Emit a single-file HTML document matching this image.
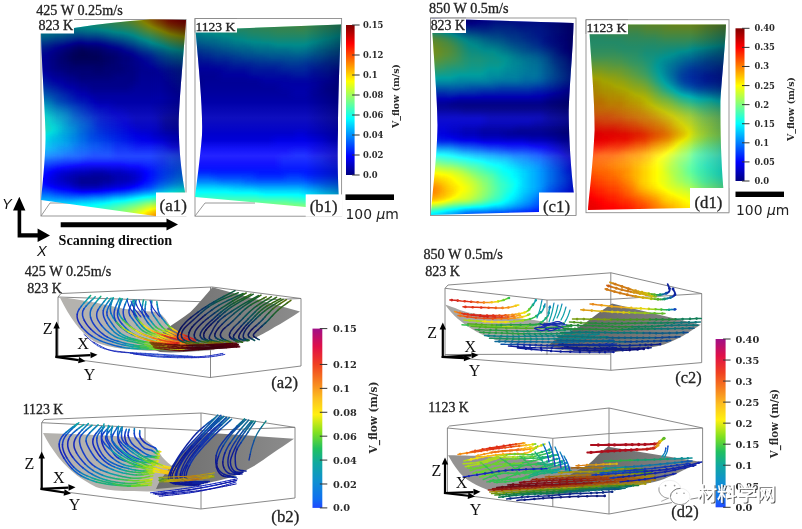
<!DOCTYPE html>
<html lang="en"><head><meta charset="utf-8"><title>Melt pool flow velocity figure</title>
<style>html,body{margin:0;padding:0;background:#fff;overflow:hidden}svg{display:block}text{white-space:pre}</style>
</head><body>
<svg width="802" height="529" viewBox="0 0 802 529">
<rect width="802" height="529" fill="#fff"/>
<defs>
<filter id="jet" x="-5%" y="-5%" width="110%" height="110%" color-interpolation-filters="sRGB"><feGaussianBlur stdDeviation="3.2"/><feComponentTransfer><feFuncR type="table" tableValues="0.000 0.000 0.000 0.000 0.000 0.000 0.000 0.000 0.000 0.000 0.000 0.000 0.000 0.000 0.000 0.000 0.000 0.000 0.000 0.000 0.000 0.000 0.000 0.000 0.000 0.062 0.125 0.188 0.250 0.312 0.375 0.438 0.500 0.562 0.625 0.688 0.750 0.812 0.875 0.938 1.000 1.000 1.000 1.000 1.000 1.000 1.000 1.000 1.000 1.000 1.000 1.000 1.000 1.000 1.000 1.000 1.000 0.938 0.875 0.812 0.750 0.688 0.625 0.562 0.500"/><feFuncG type="table" tableValues="0.000 0.000 0.000 0.000 0.000 0.000 0.000 0.000 0.000 0.062 0.125 0.188 0.250 0.312 0.375 0.438 0.500 0.562 0.625 0.688 0.750 0.812 0.875 0.938 1.000 1.000 1.000 1.000 1.000 1.000 1.000 1.000 1.000 1.000 1.000 1.000 1.000 1.000 1.000 1.000 1.000 0.938 0.875 0.812 0.750 0.688 0.625 0.562 0.500 0.438 0.375 0.312 0.250 0.188 0.125 0.062 0.000 0.000 0.000 0.000 0.000 0.000 0.000 0.000 0.000"/><feFuncB type="table" tableValues="0.500 0.562 0.625 0.688 0.750 0.812 0.875 0.938 1.000 1.000 1.000 1.000 1.000 1.000 1.000 1.000 1.000 1.000 1.000 1.000 1.000 1.000 1.000 1.000 1.000 0.938 0.875 0.812 0.750 0.688 0.625 0.562 0.500 0.438 0.375 0.312 0.250 0.188 0.125 0.062 0.000 0.000 0.000 0.000 0.000 0.000 0.000 0.000 0.000 0.000 0.000 0.000 0.000 0.000 0.000 0.000 0.000 0.000 0.000 0.000 0.000 0.000 0.000 0.000 0.000"/><feFuncA type="linear" slope="0" intercept="1"/></feComponentTransfer></filter>
<linearGradient id="gjet" x1="0" y1="0" x2="0" y2="1"><stop offset="0.000" stop-color="#800000"/><stop offset="0.062" stop-color="#bf0000"/><stop offset="0.125" stop-color="#ff0000"/><stop offset="0.188" stop-color="#ff4000"/><stop offset="0.250" stop-color="#ff8000"/><stop offset="0.312" stop-color="#ffbf00"/><stop offset="0.375" stop-color="#ffff00"/><stop offset="0.438" stop-color="#bfff40"/><stop offset="0.500" stop-color="#80ff80"/><stop offset="0.562" stop-color="#40ffbf"/><stop offset="0.625" stop-color="#00ffff"/><stop offset="0.688" stop-color="#00bfff"/><stop offset="0.750" stop-color="#0080ff"/><stop offset="0.812" stop-color="#0040ff"/><stop offset="0.875" stop-color="#0000ff"/><stop offset="0.938" stop-color="#0000bf"/><stop offset="1.000" stop-color="#000080"/></linearGradient>
<linearGradient id="grb" x1="0" y1="0" x2="0" y2="1"><stop offset="0.000" stop-color="#a01088"/><stop offset="0.100" stop-color="#e01048"/><stop offset="0.200" stop-color="#f04020"/><stop offset="0.320" stop-color="#f89020"/><stop offset="0.390" stop-color="#fcc020"/><stop offset="0.480" stop-color="#fff010"/><stop offset="0.580" stop-color="#80e020"/><stop offset="0.670" stop-color="#20c060"/><stop offset="0.750" stop-color="#10a8a0"/><stop offset="0.850" stop-color="#1090d0"/><stop offset="0.950" stop-color="#1070f0"/><stop offset="1.000" stop-color="#2048ff"/></linearGradient>
<filter id="soft" x="-10%" y="-10%" width="120%" height="120%"><feGaussianBlur stdDeviation="0.45"/></filter>
<filter id="soft3" x="-10%" y="-10%" width="120%" height="120%"><feGaussianBlur stdDeviation="0.15"/></filter>
<filter id="soft2" x="-10%" y="-10%" width="120%" height="120%"><feGaussianBlur stdDeviation="0.3"/></filter>
<filter id="blur4" x="-20%" y="-50%" width="140%" height="200%"><feGaussianBlur stdDeviation="4"/></filter>
<clipPath id="cpa1"><path d="M41 33 L74 28 Q110 22 150 19.5 L186 20 C184 50 179 100 178.7 125 C179 150 181 170 185 192 L186 216 L155 216 L41 200 C43 180 46 150 45.5 132 C45 110 42 70 41 33Z"/></clipPath>
<clipPath id="cpb1"><path d="M195.5 30 L237 28.4 L341 24.5 C339.5 60 338 100 338 130 C337.5 150 337.5 170 338.6 194 L339.5 210 L305.7 207 L195 197 C197 180 200 160 202 135 C203 110 199 70 195.5 30Z"/></clipPath>
<clipPath id="cpc1"><path d="M431.5 18.5 L573.5 23 C573 50 569 90 568.7 115 C569 140 571 170 573.7 192 L576 215.5 L539 215.5 L539 212 L431 215 C432 195 437 160 437.5 125 C437.5 100 434 60 431.5 18.5Z"/></clipPath>
<clipPath id="cpd1"><path d="M589 24.6 L726 24.6 C725 50 721 85 720.4 105 C720.3 130 721 160 723.3 188 L729 212.7 L690 212.7 L690 208 L588 210 C589 195 593 165 594.6 130 C594.8 100 591 60 589 24.6Z"/></clipPath>
<linearGradient id="shade" gradientUnits="userSpaceOnUse" x1="0" y1="18" x2="0" y2="218"><stop offset="0" stop-color="#000" stop-opacity="0.5"/><stop offset="0.16" stop-color="#000" stop-opacity="0.45"/><stop offset="0.36" stop-color="#000" stop-opacity="0.34"/><stop offset="0.56" stop-color="#000" stop-opacity="0.15"/><stop offset="0.68" stop-color="#000" stop-opacity="0"/><stop offset="1" stop-color="#000" stop-opacity="0"/></linearGradient>
<linearGradient id="spec" gradientUnits="userSpaceOnUse" x1="0" y1="140" x2="0" y2="172"><stop offset="0" stop-color="#fff" stop-opacity="0"/><stop offset="0.5" stop-color="#fff" stop-opacity="0.14"/><stop offset="1" stop-color="#fff" stop-opacity="0"/></linearGradient>
<linearGradient id="gdark" x1="0" y1="0" x2="1" y2="0"><stop offset="0" stop-color="#6c6c6c"/><stop offset="1" stop-color="#8c8c8c"/></linearGradient>
<linearGradient id="edge" x1="0" y1="0" x2="1" y2="0"><stop offset="0" stop-color="#000" stop-opacity="0"/><stop offset="1" stop-color="#000" stop-opacity="0.28"/></linearGradient>
<linearGradient id="gdark2" x1="0" y1="0" x2="1" y2="0"><stop offset="0" stop-color="#5e5e5e"/><stop offset="1" stop-color="#888888"/></linearGradient>
</defs>
<g stroke="#8c8c8c" stroke-width="0.9" fill="none">
<rect x="41" y="19.5" width="145" height="196.5"/><path d="M41 216L50 203H120"/>
<rect x="195" y="18.5" width="146.6" height="197.7"/><path d="M195 216L205 203H255"/>
<rect x="430.5" y="18" width="145.5" height="197.5"/>
<rect x="586" y="19.7" width="143" height="193"/>
</g>
<g clip-path="url(#cpa1)"><g filter="url(#jet)"><path fill="#050505" d="M77 49h12v6h-12zM71 55h30v6h-30zM77 175h36v6h-36zM77 181h24v6h-24z"/><path fill="#0b0b0b" d="M71 49h6v6h-6zM89 49h12v6h-12zM65 55h6v6h-6zM101 55h12v6h-12zM71 61h36v6h-36zM95 67h6v6h-6zM89 169h18v6h-18zM65 175h12v6h-12zM113 175h18v6h-18zM71 181h6v6h-6zM101 181h12v6h-12z"/><path fill="#101010" d="M77 43h6v6h-6zM65 49h6v6h-6zM101 49h6v6h-6zM59 55h6v6h-6zM113 55h6v6h-6zM59 61h12v6h-12zM107 61h12v6h-12zM65 67h30v6h-30zM101 67h24v6h-24zM77 73h36v6h-36zM71 169h18v6h-18zM107 169h18v6h-18zM59 175h6v6h-6zM131 175h6v6h-6zM65 181h6v6h-6zM113 181h12v6h-12z"/><path fill="#151515" d="M71 43h6v6h-6zM83 43h18v6h-18zM59 49h6v6h-6zM107 49h12v6h-12zM53 55h6v6h-6zM119 55h12v6h-12zM53 61h6v6h-6zM119 61h12v6h-12zM53 67h12v6h-12zM125 67h12v6h-12zM65 73h12v6h-12zM113 73h24v6h-24zM77 79h60v6h-60zM89 85h42v6h-42zM161 115h42v6h-42zM161 121h42v6h-42zM161 127h42v6h-42zM59 169h12v6h-12zM125 169h12v6h-12zM53 175h6v6h-6zM137 175h6v6h-6zM53 181h12v6h-12zM125 181h12v6h-12zM77 187h24v6h-24z"/><path fill="#1b1b1b" d="M65 43h6v6h-6zM101 43h6v6h-6zM53 49h6v6h-6zM119 49h6v6h-6zM47 55h6v6h-6zM131 55h6v6h-6zM47 61h6v6h-6zM131 61h12v6h-12zM41 67h12v6h-12zM137 67h18v6h-18zM53 73h12v6h-12zM137 73h18v6h-18zM65 79h12v6h-12zM137 79h18v6h-18zM77 85h12v6h-12zM131 85h24v6h-24zM89 91h66v6h-66zM95 97h60v6h-60zM113 103h90v6h-90zM125 109h78v6h-78zM131 115h30v6h-30zM131 121h30v6h-30zM137 127h24v6h-24zM149 133h54v6h-54zM167 139h36v6h-36zM77 163h48v6h-48zM53 169h6v6h-6zM137 169h6v6h-6zM47 175h6v6h-6zM47 181h6v6h-6zM71 187h6v6h-6zM101 187h12v6h-12z"/><path fill="#202020" d="M59 43h6v6h-6zM107 43h6v6h-6zM47 49h6v6h-6zM125 49h6v6h-6zM29 55h18v6h-18zM137 55h6v6h-6zM29 61h18v6h-18zM143 61h6v6h-6zM29 67h12v6h-12zM155 67h6v6h-6zM47 73h6v6h-6zM155 73h12v6h-12zM53 79h12v6h-12zM155 79h18v6h-18zM65 85h12v6h-12zM155 85h24v6h-24zM77 91h12v6h-12zM155 91h48v6h-48zM89 97h6v6h-6zM155 97h48v6h-48zM95 103h18v6h-18zM107 109h18v6h-18zM113 115h18v6h-18zM119 121h12v6h-12zM125 127h12v6h-12zM131 133h18v6h-18zM137 139h30v6h-30zM167 145h36v6h-36zM65 163h12v6h-12zM125 163h18v6h-18zM47 169h6v6h-6zM143 169h6v6h-6zM29 175h18v6h-18zM143 175h6v6h-6zM41 181h6v6h-6zM137 181h6v6h-6zM59 187h12v6h-12zM113 187h12v6h-12z"/><path fill="#252525" d="M53 43h6v6h-6zM113 43h6v6h-6zM29 49h18v6h-18zM131 49h6v6h-6zM143 55h6v6h-6zM149 61h6v6h-6zM161 67h12v6h-12zM29 73h18v6h-18zM167 73h12v6h-12zM47 79h6v6h-6zM173 79h30v6h-30zM59 85h6v6h-6zM179 85h24v6h-24zM71 91h6v6h-6zM77 97h12v6h-12zM89 103h6v6h-6zM95 109h12v6h-12zM101 115h12v6h-12zM107 121h12v6h-12zM113 127h12v6h-12zM119 133h12v6h-12zM125 139h12v6h-12zM131 145h36v6h-36zM53 163h12v6h-12zM143 163h12v6h-12zM29 169h18v6h-18zM149 169h6v6h-6zM149 175h6v6h-6zM29 181h12v6h-12zM143 181h6v6h-6zM53 187h6v6h-6zM125 187h6v6h-6z"/><path fill="#2a2a2a" d="M77 37h6v6h-6zM47 43h6v6h-6zM119 43h6v6h-6zM149 55h6v6h-6zM155 61h6v6h-6zM173 67h12v6h-12zM179 73h24v6h-24zM41 79h6v6h-6zM53 85h6v6h-6zM65 91h6v6h-6zM71 97h6v6h-6zM83 103h6v6h-6zM89 109h6v6h-6zM95 115h6v6h-6zM95 121h12v6h-12zM101 127h12v6h-12zM107 133h12v6h-12zM113 139h12v6h-12zM113 145h18v6h-18zM113 151h90v6h-90zM83 157h84v6h-84zM41 163h12v6h-12zM155 163h12v6h-12zM155 169h6v6h-6zM155 175h6v6h-6zM149 181h6v6h-6zM47 187h6v6h-6zM131 187h6v6h-6z"/><path fill="#303030" d="M71 37h6v6h-6zM83 37h18v6h-18zM29 43h18v6h-18zM137 49h6v6h-6zM161 61h6v6h-6zM185 67h18v6h-18zM29 79h12v6h-12zM47 85h6v6h-6zM59 91h6v6h-6zM65 97h6v6h-6zM77 103h6v6h-6zM83 109h6v6h-6zM89 115h6v6h-6zM95 127h6v6h-6zM95 133h12v6h-12zM101 139h12v6h-12zM101 145h12v6h-12zM89 151h24v6h-24zM59 157h24v6h-24zM167 157h36v6h-36zM29 163h12v6h-12zM167 163h12v6h-12zM161 169h12v6h-12zM161 175h6v6h-6zM29 187h18v6h-18zM137 187h6v6h-6z"/><path fill="#353535" d="M65 37h6v6h-6zM101 37h6v6h-6zM125 43h6v6h-6zM143 49h6v6h-6zM155 55h6v6h-6zM167 61h12v6h-12zM41 85h6v6h-6zM53 91h6v6h-6zM59 97h6v6h-6zM71 103h6v6h-6zM77 109h6v6h-6zM83 115h6v6h-6zM89 121h6v6h-6zM89 127h6v6h-6zM89 133h6v6h-6zM89 139h12v6h-12zM89 145h12v6h-12zM77 151h12v6h-12zM47 157h12v6h-12zM179 163h24v6h-24zM173 169h6v6h-6zM167 175h6v6h-6zM155 181h6v6h-6zM143 187h6v6h-6zM65 193h24v6h-24z"/><path fill="#3a3a3a" d="M53 37h12v6h-12zM107 37h6v6h-6zM131 43h6v6h-6zM149 49h6v6h-6zM161 55h6v6h-6zM179 61h6v6h-6zM29 85h12v6h-12zM47 91h6v6h-6zM53 97h6v6h-6zM65 103h6v6h-6zM71 109h6v6h-6zM77 115h6v6h-6zM83 121h6v6h-6zM83 127h6v6h-6zM83 133h6v6h-6zM83 139h6v6h-6zM77 145h12v6h-12zM65 151h12v6h-12zM29 157h18v6h-18zM179 169h24v6h-24zM173 175h6v6h-6zM161 181h6v6h-6zM149 187h6v6h-6zM53 193h12v6h-12zM89 193h18v6h-18z"/><path fill="#404040" d="M47 37h6v6h-6zM113 37h6v6h-6zM167 55h6v6h-6zM185 61h18v6h-18zM41 91h6v6h-6zM59 103h6v6h-6zM71 115h6v6h-6zM77 121h6v6h-6zM77 127h6v6h-6zM77 133h6v6h-6zM77 139h6v6h-6zM71 145h6v6h-6zM53 151h12v6h-12zM179 175h24v6h-24zM167 181h6v6h-6zM29 193h24v6h-24zM107 193h6v6h-6z"/><path fill="#454545" d="M77 31h6v6h-6zM29 37h18v6h-18zM119 37h6v6h-6zM137 43h6v6h-6zM155 49h6v6h-6zM173 55h6v6h-6zM29 91h12v6h-12zM47 97h6v6h-6zM53 103h6v6h-6zM65 109h6v6h-6zM71 121h6v6h-6zM71 133h6v6h-6zM71 139h6v6h-6zM59 145h12v6h-12zM29 151h24v6h-24zM173 181h6v6h-6zM155 187h6v6h-6zM113 193h12v6h-12z"/><path fill="#4a4a4a" d="M65 31h12v6h-12zM83 31h18v6h-18zM125 37h6v6h-6zM143 43h6v6h-6zM161 49h6v6h-6zM179 55h24v6h-24zM41 97h6v6h-6zM59 109h6v6h-6zM65 115h6v6h-6zM65 121h6v6h-6zM71 127h6v6h-6zM65 133h6v6h-6zM65 139h6v6h-6zM53 145h6v6h-6zM179 181h6v6h-6zM161 187h6v6h-6zM125 193h6v6h-6z"/><path fill="#505050" d="M53 31h12v6h-12zM101 31h6v6h-6zM131 37h6v6h-6zM29 97h12v6h-12zM47 103h6v6h-6zM53 109h6v6h-6zM59 115h6v6h-6zM65 127h6v6h-6zM59 133h6v6h-6zM53 139h12v6h-12zM41 145h12v6h-12zM185 181h18v6h-18zM131 193h6v6h-6zM41 199h36v6h-36z"/><path fill="#555555" d="M29 25h18v6h-18zM29 31h24v6h-24zM107 31h6v6h-6zM149 43h6v6h-6zM167 49h12v6h-12zM41 103h6v6h-6zM47 109h6v6h-6zM53 115h6v6h-6zM59 121h6v6h-6zM59 127h6v6h-6zM53 133h6v6h-6zM47 139h6v6h-6zM29 145h12v6h-12zM167 187h6v6h-6zM137 193h6v6h-6zM29 199h12v6h-12zM77 199h18v6h-18z"/><path fill="#5a5a5a" d="M29 7h18v6h-18zM29 13h18v6h-18zM29 19h24v6h-24zM47 25h30v6h-30zM113 31h12v6h-12zM137 37h6v6h-6zM155 43h6v6h-6zM179 49h6v6h-6zM29 103h12v6h-12zM53 121h6v6h-6zM47 133h6v6h-6zM29 139h18v6h-18zM173 187h6v6h-6zM143 193h12v6h-12zM95 199h12v6h-12z"/><path fill="#606060" d="M47 7h18v6h-18zM47 13h18v6h-18zM53 19h12v6h-12zM77 25h12v6h-12zM125 31h6v6h-6zM143 37h6v6h-6zM161 43h6v6h-6zM185 49h18v6h-18zM29 109h18v6h-18zM47 115h6v6h-6zM47 121h6v6h-6zM53 127h6v6h-6zM41 133h6v6h-6zM179 187h6v6h-6zM107 199h6v6h-6z"/><path fill="#656565" d="M65 7h6v6h-6zM65 13h6v6h-6zM65 19h12v6h-12zM89 25h12v6h-12zM131 31h6v6h-6zM29 115h18v6h-18zM41 121h6v6h-6zM47 127h6v6h-6zM29 133h12v6h-12zM185 187h18v6h-18zM155 193h6v6h-6zM113 199h12v6h-12zM29 205h60v6h-60zM29 211h54v6h-54zM29 217h54v6h-54zM29 223h54v6h-54z"/><path fill="#6a6a6a" d="M71 7h12v6h-12zM71 13h12v6h-12zM77 19h18v6h-18zM101 25h12v6h-12zM149 37h6v6h-6zM167 43h6v6h-6zM29 121h12v6h-12zM29 127h18v6h-18zM161 193h6v6h-6zM125 199h6v6h-6zM89 205h12v6h-12zM83 211h6v6h-6zM83 217h6v6h-6zM83 223h6v6h-6z"/><path fill="#707070" d="M83 7h18v6h-18zM83 13h18v6h-18zM95 19h6v6h-6zM113 25h12v6h-12zM137 31h6v6h-6zM155 37h6v6h-6zM173 43h6v6h-6zM167 193h12v6h-12zM131 199h6v6h-6zM101 205h12v6h-12zM89 211h12v6h-12zM89 217h12v6h-12zM89 223h12v6h-12z"/><path fill="#757575" d="M101 7h6v6h-6zM101 13h6v6h-6zM101 19h12v6h-12zM125 25h6v6h-6zM179 43h24v6h-24zM179 193h24v6h-24zM137 199h6v6h-6zM113 205h6v6h-6zM101 211h6v6h-6zM101 217h6v6h-6zM101 223h6v6h-6z"/><path fill="#7a7a7a" d="M107 7h6v6h-6zM107 13h6v6h-6zM113 19h6v6h-6zM131 25h6v6h-6zM143 31h6v6h-6zM161 37h6v6h-6zM143 199h6v6h-6zM119 205h6v6h-6zM107 211h6v6h-6zM107 217h6v6h-6zM107 223h6v6h-6z"/><path fill="#808080" d="M113 7h6v6h-6zM113 13h6v6h-6zM119 19h6v6h-6zM149 31h6v6h-6zM149 199h12v6h-12zM125 205h6v6h-6zM113 211h6v6h-6zM113 217h6v6h-6zM113 223h6v6h-6z"/><path fill="#858585" d="M119 7h6v6h-6zM119 13h6v6h-6zM125 19h6v6h-6zM137 25h6v6h-6zM167 37h6v6h-6zM161 199h6v6h-6zM131 205h6v6h-6zM119 211h6v6h-6zM119 217h6v6h-6zM119 223h6v6h-6z"/><path fill="#8a8a8a" d="M125 7h6v6h-6zM125 13h6v6h-6zM155 31h6v6h-6zM173 37h6v6h-6zM167 199h36v6h-36zM137 205h6v6h-6zM125 211h6v6h-6zM125 217h6v6h-6zM125 223h6v6h-6z"/><path fill="#8f8f8f" d="M131 19h6v6h-6zM143 25h6v6h-6zM179 37h24v6h-24z"/><path fill="#959595" d="M131 7h6v6h-6zM131 13h6v6h-6zM161 31h6v6h-6zM143 205h6v6h-6zM131 211h6v6h-6zM131 217h6v6h-6zM131 223h6v6h-6z"/><path fill="#9a9a9a" d="M137 19h6v6h-6zM149 25h6v6h-6zM149 205h6v6h-6z"/><path fill="#9f9f9f" d="M137 7h6v6h-6zM137 13h6v6h-6zM167 31h6v6h-6zM155 205h6v6h-6zM137 211h6v6h-6zM137 217h6v6h-6zM137 223h6v6h-6z"/><path fill="#a5a5a5" d="M143 19h6v6h-6zM155 25h6v6h-6zM173 31h6v6h-6zM161 205h6v6h-6z"/><path fill="#aaaaaa" d="M179 31h6v6h-6zM167 205h36v6h-36zM143 211h6v6h-6z"/><path fill="#afafaf" d="M143 7h6v6h-6zM143 13h6v6h-6zM161 25h6v6h-6zM185 31h18v6h-18zM143 217h6v6h-6zM143 223h6v6h-6z"/><path fill="#b5b5b5" d="M149 19h6v6h-6zM149 211h6v6h-6z"/><path fill="#bababa" d="M149 7h6v6h-6zM149 13h6v6h-6zM155 211h12v6h-12zM149 217h12v6h-12zM149 223h12v6h-12z"/><path fill="#bfbfbf" d="M155 19h6v6h-6zM167 25h6v6h-6zM167 211h36v6h-36zM161 217h42v6h-42zM161 223h42v6h-42z"/><path fill="#c5c5c5" d="M173 25h6v6h-6z"/><path fill="#cacaca" d="M155 7h6v6h-6zM155 13h6v6h-6zM161 19h6v6h-6zM179 25h24v6h-24z"/><path fill="#d4d4d4" d="M161 7h6v6h-6zM161 13h6v6h-6z"/><path fill="#dadada" d="M167 19h12v6h-12z"/><path fill="#dfdfdf" d="M167 7h6v6h-6zM167 13h6v6h-6zM179 19h24v6h-24z"/><path fill="#e4e4e4" d="M173 7h30v6h-30zM173 13h30v6h-30z"/></g><rect x="0" y="0" width="802" height="230" fill="url(#shade)"/><rect x="0" y="138" width="802" height="36" fill="url(#spec)"/><rect x="0" y="138" width="802" height="36" fill="url(#spec)" opacity="0.4" transform="translate(0 -38)"/><rect x="150" y="0" width="38" height="230" fill="url(#edge)"/></g>
<g clip-path="url(#cpb1)"><g filter="url(#jet)"><path fill="#151515" d="M183 78h18v6h-18zM183 84h18v6h-18z"/><path fill="#1b1b1b" d="M183 66h12v6h-12zM183 72h36v6h-36zM201 78h60v6h-60zM339 78h18v6h-18zM201 84h78v6h-78zM321 84h36v6h-36zM183 90h108v6h-108zM309 90h48v6h-48zM183 96h174v6h-174zM183 102h174v6h-174zM183 108h174v6h-174zM183 114h174v6h-174zM183 120h174v6h-174zM183 126h174v6h-174zM183 132h114v6h-114zM303 132h54v6h-54zM183 138h90v6h-90zM327 138h30v6h-30z"/><path fill="#202020" d="M195 66h30v6h-30zM219 72h30v6h-30zM333 72h24v6h-24zM261 78h78v6h-78zM279 84h42v6h-42zM291 90h18v6h-18zM297 132h6v6h-6zM273 138h54v6h-54zM183 144h174v6h-174zM183 150h108v6h-108zM309 150h48v6h-48zM183 156h96v6h-96zM327 156h30v6h-30zM183 162h96v6h-96z"/><path fill="#252525" d="M183 60h30v6h-30zM225 66h24v6h-24zM333 66h24v6h-24zM249 72h42v6h-42zM309 72h24v6h-24zM291 150h18v6h-18zM279 156h48v6h-48zM279 162h78v6h-78zM183 168h174v6h-174z"/><path fill="#2a2a2a" d="M183 54h18v6h-18zM213 60h18v6h-18zM249 66h30v6h-30zM309 66h24v6h-24zM291 72h18v6h-18zM255 174h30v6h-30zM303 174h54v6h-54z"/><path fill="#303030" d="M201 54h12v6h-12zM231 60h24v6h-24zM321 60h36v6h-36zM279 66h30v6h-30zM213 174h42v6h-42zM285 174h18v6h-18z"/><path fill="#353535" d="M183 48h18v6h-18zM213 54h18v6h-18zM339 54h18v6h-18zM255 60h30v6h-30zM303 60h18v6h-18zM183 174h30v6h-30zM309 180h48v6h-48z"/><path fill="#3a3a3a" d="M201 48h12v6h-12zM231 54h12v6h-12zM327 54h12v6h-12zM285 60h18v6h-18zM243 180h66v6h-66z"/><path fill="#404040" d="M183 42h12v6h-12zM213 48h12v6h-12zM339 48h18v6h-18zM243 54h24v6h-24zM309 54h18v6h-18zM219 180h24v6h-24zM339 186h18v6h-18z"/><path fill="#454545" d="M195 42h12v6h-12zM225 48h12v6h-12zM327 48h12v6h-12zM267 54h42v6h-42zM183 180h36v6h-36zM321 186h18v6h-18z"/><path fill="#4a4a4a" d="M207 42h12v6h-12zM237 48h18v6h-18zM315 48h12v6h-12zM303 186h18v6h-18z"/><path fill="#505050" d="M183 36h18v6h-18zM219 42h12v6h-12zM333 42h24v6h-24zM255 48h36v6h-36zM303 48h12v6h-12zM255 186h48v6h-48zM333 192h24v6h-24z"/><path fill="#555555" d="M201 36h18v6h-18zM231 42h18v6h-18zM321 42h12v6h-12zM291 48h12v6h-12zM231 186h24v6h-24zM315 192h18v6h-18z"/><path fill="#5a5a5a" d="M183 30h18v6h-18zM219 36h12v6h-12zM333 36h24v6h-24zM249 42h24v6h-24zM309 42h12v6h-12zM195 186h36v6h-36zM303 192h12v6h-12z"/><path fill="#606060" d="M201 30h12v6h-12zM231 36h12v6h-12zM321 36h12v6h-12zM273 42h36v6h-36zM183 186h12v6h-12zM261 192h42v6h-42zM339 198h18v6h-18z"/><path fill="#656565" d="M183 12h18v6h-18zM183 18h18v6h-18zM183 24h24v6h-24zM213 30h18v6h-18zM333 30h24v6h-24zM243 36h18v6h-18zM309 36h12v6h-12zM183 192h78v6h-78zM321 198h18v6h-18z"/><path fill="#6a6a6a" d="M201 12h12v6h-12zM201 18h12v6h-12zM207 24h12v6h-12zM231 30h18v6h-18zM321 30h12v6h-12zM261 36h48v6h-48zM309 198h12v6h-12z"/><path fill="#707070" d="M213 12h18v6h-18zM213 18h18v6h-18zM219 24h18v6h-18zM333 24h24v6h-24zM249 30h24v6h-24zM309 30h12v6h-12zM183 198h18v6h-18zM291 198h18v6h-18z"/><path fill="#757575" d="M231 12h18v6h-18zM327 12h30v6h-30zM231 18h18v6h-18zM327 18h30v6h-30zM237 24h24v6h-24zM315 24h18v6h-18zM273 30h36v6h-36zM201 198h90v6h-90zM339 204h18v6h-18z"/><path fill="#7a7a7a" d="M249 12h30v6h-30zM309 12h18v6h-18zM249 18h30v6h-30zM309 18h18v6h-18zM261 24h36v6h-36zM303 24h12v6h-12zM183 204h18v6h-18zM321 204h18v6h-18z"/><path fill="#808080" d="M279 12h30v6h-30zM279 18h30v6h-30zM297 24h6v6h-6zM201 204h36v6h-36zM303 204h18v6h-18zM183 210h30v6h-30zM333 210h24v6h-24zM183 216h30v6h-30zM333 216h24v6h-24zM183 222h30v6h-30zM333 222h24v6h-24z"/><path fill="#858585" d="M237 204h66v6h-66zM213 210h30v6h-30zM315 210h18v6h-18zM213 216h30v6h-30zM315 216h18v6h-18zM213 222h30v6h-30zM315 222h18v6h-18z"/><path fill="#8a8a8a" d="M243 210h72v6h-72zM243 216h72v6h-72zM243 222h72v6h-72z"/></g><rect x="0" y="0" width="802" height="230" fill="url(#shade)"/><rect x="0" y="138" width="802" height="36" fill="url(#spec)"/><rect x="0" y="138" width="802" height="36" fill="url(#spec)" opacity="0.4" transform="translate(0 -38)"/><rect x="306" y="0" width="38" height="230" fill="url(#edge)"/></g>
<g clip-path="url(#cpc1)"><g filter="url(#jet)"><path fill="#0b0b0b" d="M449 102h144v6h-144zM515 126h78v6h-78zM503 132h90v6h-90z"/><path fill="#101010" d="M569 96h24v6h-24zM419 102h30v6h-30zM461 108h132v6h-132zM569 120h24v6h-24zM479 126h36v6h-36zM479 132h24v6h-24zM557 138h36v6h-36zM569 210h24v6h-24zM563 216h30v6h-30zM563 222h30v6h-30z"/><path fill="#151515" d="M449 6h24v6h-24zM449 12h24v6h-24zM467 18h6v6h-6zM545 96h24v6h-24zM419 108h42v6h-42zM545 114h48v6h-48zM533 120h36v6h-36zM461 126h18v6h-18zM461 132h18v6h-18zM527 138h30v6h-30zM563 144h30v6h-30zM569 150h24v6h-24zM557 210h12v6h-12zM545 216h18v6h-18zM545 222h18v6h-18z"/><path fill="#1b1b1b" d="M437 6h12v6h-12zM473 6h12v6h-12zM437 12h12v6h-12zM473 12h12v6h-12zM449 18h18v6h-18zM473 18h6v6h-6zM569 36h24v6h-24zM569 42h24v6h-24zM569 48h24v6h-24zM563 90h30v6h-30zM455 96h90v6h-90zM485 114h60v6h-60zM485 120h48v6h-48zM449 126h12v6h-12zM449 132h12v6h-12zM479 138h48v6h-48zM551 144h12v6h-12zM563 150h6v6h-6zM569 204h24v6h-24zM545 210h12v6h-12zM527 216h18v6h-18zM527 222h18v6h-18z"/><path fill="#202020" d="M419 6h18v6h-18zM485 6h6v6h-6zM557 6h36v6h-36zM419 12h18v6h-18zM485 12h6v6h-6zM557 12h36v6h-36zM437 18h12v6h-12zM479 18h12v6h-12zM557 18h36v6h-36zM563 24h30v6h-30zM563 30h30v6h-30zM557 36h12v6h-12zM563 42h6v6h-6zM563 48h6v6h-6zM569 54h24v6h-24zM551 90h12v6h-12zM419 96h36v6h-36zM419 114h66v6h-66zM419 120h66v6h-66zM431 126h18v6h-18zM437 132h12v6h-12zM455 138h24v6h-24zM533 144h18v6h-18zM557 150h6v6h-6zM569 156h24v6h-24zM569 162h24v6h-24zM569 192h24v6h-24zM569 198h24v6h-24zM557 204h12v6h-12zM533 210h12v6h-12zM503 216h24v6h-24zM503 222h24v6h-24z"/><path fill="#252525" d="M491 6h66v6h-66zM491 12h66v6h-66zM419 18h18v6h-18zM491 18h66v6h-66zM545 24h18v6h-18zM551 30h12v6h-12zM545 36h12v6h-12zM551 42h12v6h-12zM557 48h6v6h-6zM569 60h24v6h-24zM563 84h30v6h-30zM533 90h18v6h-18zM419 126h12v6h-12zM419 132h18v6h-18zM437 138h18v6h-18zM503 144h30v6h-30zM545 150h12v6h-12zM563 156h6v6h-6zM569 168h24v6h-24zM569 180h24v6h-24zM569 186h24v6h-24zM563 192h6v6h-6zM557 198h12v6h-12zM551 204h6v6h-6zM521 210h12v6h-12zM473 216h30v6h-30zM473 222h30v6h-30z"/><path fill="#2a2a2a" d="M467 24h24v6h-24zM515 24h30v6h-30zM533 30h18v6h-18zM539 36h6v6h-6zM545 42h6v6h-6zM563 54h6v6h-6zM569 66h24v6h-24zM569 72h24v6h-24zM569 78h24v6h-24zM557 84h6v6h-6zM479 90h54v6h-54zM419 138h18v6h-18zM485 144h18v6h-18zM539 150h6v6h-6zM557 156h6v6h-6zM563 162h6v6h-6zM563 168h6v6h-6zM569 174h24v6h-24zM563 186h6v6h-6zM557 192h6v6h-6zM551 198h6v6h-6zM545 204h6v6h-6zM509 210h12v6h-12zM467 216h6v6h-6zM467 222h6v6h-6z"/><path fill="#303030" d="M461 24h6v6h-6zM491 24h24v6h-24zM521 30h12v6h-12zM527 36h12v6h-12zM539 42h6v6h-6zM551 48h6v6h-6zM557 54h6v6h-6zM563 60h6v6h-6zM563 66h6v6h-6zM563 78h6v6h-6zM545 84h12v6h-12zM419 90h30v6h-30zM455 90h24v6h-24zM473 144h12v6h-12zM527 150h12v6h-12zM551 156h6v6h-6zM557 162h6v6h-6zM563 174h6v6h-6zM563 180h6v6h-6zM557 186h6v6h-6zM551 192h6v6h-6zM545 198h6v6h-6zM539 204h6v6h-6zM491 210h18v6h-18zM461 216h6v6h-6zM461 222h6v6h-6z"/><path fill="#353535" d="M455 24h6v6h-6zM503 30h18v6h-18zM521 36h6v6h-6zM533 42h6v6h-6zM545 48h6v6h-6zM551 54h6v6h-6zM557 60h6v6h-6zM557 66h6v6h-6zM563 72h6v6h-6zM557 78h6v6h-6zM533 84h12v6h-12zM449 90h6v6h-6zM461 144h12v6h-12zM509 150h18v6h-18zM545 156h6v6h-6zM551 162h6v6h-6zM557 168h6v6h-6zM557 174h6v6h-6zM557 180h6v6h-6zM551 186h6v6h-6zM545 192h6v6h-6zM539 198h6v6h-6zM533 204h6v6h-6zM467 210h24v6h-24zM455 216h6v6h-6zM455 222h6v6h-6z"/><path fill="#3a3a3a" d="M449 24h6v6h-6zM479 30h24v6h-24zM509 36h12v6h-12zM527 42h6v6h-6zM539 48h6v6h-6zM551 60h6v6h-6zM557 72h6v6h-6zM551 78h6v6h-6zM497 84h36v6h-36zM455 144h6v6h-6zM497 150h12v6h-12zM533 156h12v6h-12zM545 162h6v6h-6zM551 168h6v6h-6zM551 174h6v6h-6zM551 180h6v6h-6zM545 186h6v6h-6zM539 192h6v6h-6zM533 198h6v6h-6zM527 204h6v6h-6zM461 210h6v6h-6zM449 216h6v6h-6zM449 222h6v6h-6z"/><path fill="#404040" d="M443 24h6v6h-6zM467 30h12v6h-12zM503 36h6v6h-6zM515 42h12v6h-12zM527 48h12v6h-12zM545 54h6v6h-6zM551 66h6v6h-6zM551 72h6v6h-6zM545 78h6v6h-6zM467 84h30v6h-30zM437 144h18v6h-18zM485 150h12v6h-12zM527 156h6v6h-6zM539 162h6v6h-6zM545 168h6v6h-6zM545 174h6v6h-6zM545 180h6v6h-6zM521 204h6v6h-6zM443 216h6v6h-6zM443 222h6v6h-6z"/><path fill="#454545" d="M437 24h6v6h-6zM491 36h12v6h-12zM509 42h6v6h-6zM521 48h6v6h-6zM539 54h6v6h-6zM545 60h6v6h-6zM545 66h6v6h-6zM545 72h6v6h-6zM539 78h6v6h-6zM419 84h48v6h-48zM419 144h18v6h-18zM473 150h12v6h-12zM515 156h12v6h-12zM533 162h6v6h-6zM539 168h6v6h-6zM539 174h6v6h-6zM539 180h6v6h-6zM539 186h6v6h-6zM533 192h6v6h-6zM527 198h6v6h-6zM515 204h6v6h-6zM455 210h6v6h-6z"/><path fill="#4a4a4a" d="M461 30h6v6h-6zM485 36h6v6h-6zM503 42h6v6h-6zM515 48h6v6h-6zM533 54h6v6h-6zM539 60h6v6h-6zM539 66h6v6h-6zM539 72h6v6h-6zM521 78h18v6h-18zM461 150h12v6h-12zM509 156h6v6h-6zM521 162h12v6h-12zM533 168h6v6h-6zM533 174h6v6h-6zM533 180h6v6h-6zM533 186h6v6h-6zM527 192h6v6h-6zM521 198h6v6h-6zM509 204h6v6h-6zM449 210h6v6h-6zM437 216h6v6h-6zM437 222h6v6h-6z"/><path fill="#505050" d="M419 24h18v6h-18zM455 30h6v6h-6zM479 36h6v6h-6zM497 42h6v6h-6zM509 48h6v6h-6zM521 54h12v6h-12zM527 60h12v6h-12zM527 66h12v6h-12zM521 72h18v6h-18zM491 78h30v6h-30zM455 150h6v6h-6zM497 156h12v6h-12zM515 162h6v6h-6zM527 168h6v6h-6zM527 174h6v6h-6zM527 180h6v6h-6zM527 186h6v6h-6zM521 192h6v6h-6zM515 198h6v6h-6zM503 204h6v6h-6zM443 210h6v6h-6zM419 216h18v6h-18zM419 222h18v6h-18z"/><path fill="#555555" d="M473 36h6v6h-6zM485 42h12v6h-12zM503 48h6v6h-6zM515 54h6v6h-6zM521 60h6v6h-6zM515 66h12v6h-12zM503 72h18v6h-18zM455 78h36v6h-36zM449 150h6v6h-6zM485 156h12v6h-12zM509 162h6v6h-6zM521 168h6v6h-6zM521 174h6v6h-6zM521 180h6v6h-6zM521 186h6v6h-6zM491 204h12v6h-12zM437 210h6v6h-6z"/><path fill="#5a5a5a" d="M449 30h6v6h-6zM467 36h6v6h-6zM479 42h6v6h-6zM497 48h6v6h-6zM509 54h6v6h-6zM509 60h12v6h-12zM503 66h12v6h-12zM485 72h18v6h-18zM419 78h36v6h-36zM419 150h30v6h-30zM473 156h12v6h-12zM503 162h6v6h-6zM515 168h6v6h-6zM515 174h6v6h-6zM515 186h6v6h-6zM515 192h6v6h-6zM509 198h6v6h-6zM485 204h6v6h-6zM431 210h6v6h-6z"/><path fill="#606060" d="M443 30h6v6h-6zM461 36h6v6h-6zM467 42h12v6h-12zM479 48h18v6h-18zM497 54h12v6h-12zM503 60h6v6h-6zM485 66h18v6h-18zM455 72h30v6h-30zM467 156h6v6h-6zM491 162h12v6h-12zM503 168h12v6h-12zM509 174h6v6h-6zM515 180h6v6h-6zM509 192h6v6h-6zM503 198h6v6h-6zM473 204h12v6h-12zM419 210h12v6h-12z"/><path fill="#656565" d="M467 48h12v6h-12zM485 54h12v6h-12zM485 60h18v6h-18zM467 66h18v6h-18zM437 72h18v6h-18zM455 156h12v6h-12zM485 162h6v6h-6zM497 168h6v6h-6zM503 174h6v6h-6zM509 180h6v6h-6zM509 186h6v6h-6zM503 192h6v6h-6zM461 204h12v6h-12z"/><path fill="#6a6a6a" d="M437 30h6v6h-6zM455 36h6v6h-6zM461 42h6v6h-6zM467 54h18v6h-18zM467 60h18v6h-18zM449 66h18v6h-18zM419 72h18v6h-18zM443 156h12v6h-12zM479 162h6v6h-6zM491 168h6v6h-6zM497 174h6v6h-6zM503 180h6v6h-6zM503 186h6v6h-6zM497 198h6v6h-6zM455 204h6v6h-6z"/><path fill="#707070" d="M431 30h6v6h-6zM461 48h6v6h-6zM461 54h6v6h-6zM461 60h6v6h-6zM443 66h6v6h-6zM419 156h24v6h-24zM467 162h12v6h-12zM485 168h6v6h-6zM497 180h6v6h-6zM497 186h6v6h-6zM497 192h6v6h-6zM491 198h6v6h-6zM449 204h6v6h-6z"/><path fill="#757575" d="M419 30h12v6h-12zM449 36h6v6h-6zM455 42h6v6h-6zM455 60h6v6h-6zM431 66h12v6h-12zM461 162h6v6h-6zM479 168h6v6h-6zM491 174h6v6h-6zM491 180h6v6h-6zM491 192h6v6h-6zM485 198h6v6h-6zM443 204h6v6h-6z"/><path fill="#7a7a7a" d="M455 48h6v6h-6zM455 54h6v6h-6zM443 60h12v6h-12zM419 66h12v6h-12zM455 162h6v6h-6zM473 168h6v6h-6zM485 174h6v6h-6zM491 186h6v6h-6z"/><path fill="#808080" d="M443 36h6v6h-6zM449 42h6v6h-6zM449 54h6v6h-6zM437 60h6v6h-6zM443 162h12v6h-12zM467 168h6v6h-6zM479 174h6v6h-6zM485 180h6v6h-6zM485 186h6v6h-6zM485 192h6v6h-6zM479 198h6v6h-6zM437 204h6v6h-6z"/><path fill="#858585" d="M437 36h6v6h-6zM443 42h6v6h-6zM449 48h6v6h-6zM443 54h6v6h-6zM419 60h18v6h-18zM419 162h24v6h-24zM473 174h6v6h-6zM479 180h6v6h-6zM479 192h6v6h-6zM473 198h6v6h-6zM419 204h18v6h-18z"/><path fill="#8a8a8a" d="M419 36h18v6h-18zM437 42h6v6h-6zM443 48h6v6h-6zM437 54h6v6h-6zM461 168h6v6h-6zM479 186h6v6h-6z"/><path fill="#8f8f8f" d="M431 42h6v6h-6zM437 48h6v6h-6zM419 54h18v6h-18zM455 168h6v6h-6zM467 174h6v6h-6zM473 180h6v6h-6zM473 186h6v6h-6zM473 192h6v6h-6zM467 198h6v6h-6z"/><path fill="#959595" d="M419 42h12v6h-12zM431 48h6v6h-6zM443 168h12v6h-12zM461 174h6v6h-6zM467 180h6v6h-6zM467 192h6v6h-6zM455 198h12v6h-12z"/><path fill="#9a9a9a" d="M419 48h12v6h-12zM419 168h24v6h-24zM455 174h6v6h-6zM461 180h6v6h-6zM467 186h6v6h-6zM461 192h6v6h-6zM449 198h6v6h-6z"/><path fill="#9f9f9f" d="M449 174h6v6h-6zM455 180h6v6h-6zM461 186h6v6h-6zM455 192h6v6h-6z"/><path fill="#a5a5a5" d="M437 174h12v6h-12zM449 180h6v6h-6zM455 186h6v6h-6zM443 198h6v6h-6z"/><path fill="#aaaaaa" d="M419 174h18v6h-18zM443 180h6v6h-6zM449 186h6v6h-6zM449 192h6v6h-6zM437 198h6v6h-6z"/><path fill="#afafaf" d="M437 180h6v6h-6zM443 186h6v6h-6zM443 192h6v6h-6zM419 198h18v6h-18z"/><path fill="#b5b5b5" d="M431 180h6v6h-6zM437 192h6v6h-6z"/><path fill="#bababa" d="M419 180h12v6h-12zM437 186h6v6h-6zM431 192h6v6h-6z"/><path fill="#bfbfbf" d="M431 186h6v6h-6zM419 192h12v6h-12z"/><path fill="#c5c5c5" d="M419 186h12v6h-12z"/></g><rect x="0" y="0" width="802" height="230" fill="url(#shade)"/><rect x="0" y="138" width="802" height="36" fill="url(#spec)"/><rect x="0" y="138" width="802" height="36" fill="url(#spec)" opacity="0.4" transform="translate(0 -38)"/><rect x="540" y="0" width="38" height="230" fill="url(#edge)"/></g>
<g clip-path="url(#cpd1)"><g filter="url(#jet)"><path fill="#2a2a2a" d="M702 72h42v6h-42zM702 78h42v6h-42z"/><path fill="#303030" d="M714 66h30v6h-30zM690 72h12v6h-12zM690 78h12v6h-12zM720 84h24v6h-24z"/><path fill="#353535" d="M690 66h24v6h-24zM684 72h6v6h-6zM684 78h6v6h-6zM696 84h24v6h-24z"/><path fill="#3a3a3a" d="M702 60h42v6h-42zM684 66h6v6h-6zM678 72h6v6h-6zM678 78h6v6h-6zM690 84h6v6h-6z"/><path fill="#404040" d="M690 60h12v6h-12zM678 66h6v6h-6zM684 84h6v6h-6z"/><path fill="#454545" d="M708 54h36v6h-36zM684 60h6v6h-6zM672 72h6v6h-6zM708 90h36v6h-36z"/><path fill="#4a4a4a" d="M696 54h12v6h-12zM678 60h6v6h-6zM672 66h6v6h-6zM672 78h6v6h-6zM678 84h6v6h-6zM696 90h12v6h-12z"/><path fill="#505050" d="M714 48h30v6h-30zM684 54h12v6h-12zM672 60h6v6h-6zM666 66h6v6h-6zM666 72h6v6h-6zM690 90h6v6h-6z"/><path fill="#555555" d="M702 48h12v6h-12zM678 54h6v6h-6zM666 60h6v6h-6zM666 78h6v6h-6zM672 84h6v6h-6zM684 90h6v6h-6z"/><path fill="#5a5a5a" d="M690 48h12v6h-12zM672 54h6v6h-6zM660 60h6v6h-6zM660 66h6v6h-6zM660 72h6v6h-6zM678 90h6v6h-6zM714 96h30v6h-30z"/><path fill="#606060" d="M720 42h24v6h-24zM678 48h12v6h-12zM660 54h12v6h-12zM654 60h6v6h-6zM654 66h6v6h-6zM660 78h6v6h-6zM666 84h6v6h-6zM696 96h18v6h-18z"/><path fill="#656565" d="M708 42h12v6h-12zM666 48h12v6h-12zM654 54h6v6h-6zM654 72h6v6h-6zM672 90h6v6h-6zM690 96h6v6h-6zM720 156h24v6h-24zM720 162h24v6h-24zM720 168h24v6h-24z"/><path fill="#6a6a6a" d="M690 42h18v6h-18zM642 48h24v6h-24zM642 54h12v6h-12zM648 60h6v6h-6zM648 66h6v6h-6zM654 78h6v6h-6zM660 84h6v6h-6zM684 96h6v6h-6zM714 102h30v6h-30zM720 150h24v6h-24zM708 156h12v6h-12zM702 162h18v6h-18zM708 168h12v6h-12zM714 174h30v6h-30z"/><path fill="#707070" d="M576 36h48v6h-48zM714 36h30v6h-30zM576 42h114v6h-114zM618 48h24v6h-24zM636 54h6v6h-6zM642 60h6v6h-6zM648 72h6v6h-6zM666 90h6v6h-6zM678 96h6v6h-6zM696 102h18v6h-18zM702 150h18v6h-18zM696 156h12v6h-12zM696 162h6v6h-6zM696 168h12v6h-12zM702 174h12v6h-12zM720 180h24v6h-24z"/><path fill="#757575" d="M576 30h30v6h-30zM624 36h36v6h-36zM702 36h12v6h-12zM576 48h42v6h-42zM624 54h12v6h-12zM630 60h12v6h-12zM642 66h6v6h-6zM690 102h6v6h-6zM720 108h24v6h-24zM714 144h30v6h-30zM696 150h6v6h-6zM690 156h6v6h-6zM690 162h6v6h-6zM690 168h6v6h-6zM696 174h6v6h-6zM702 180h18v6h-18z"/><path fill="#7a7a7a" d="M576 24h18v6h-18zM606 30h36v6h-36zM714 30h30v6h-30zM660 36h42v6h-42zM576 54h48v6h-48zM624 60h6v6h-6zM636 66h6v6h-6zM642 72h6v6h-6zM648 78h6v6h-6zM654 84h6v6h-6zM660 90h6v6h-6zM672 96h6v6h-6zM684 102h6v6h-6zM702 108h18v6h-18zM720 138h24v6h-24zM702 144h12v6h-12zM690 150h6v6h-6zM684 162h6v6h-6zM684 168h6v6h-6zM690 174h6v6h-6zM696 180h6v6h-6zM714 186h30v6h-30z"/><path fill="#808080" d="M576 12h24v6h-24zM576 18h24v6h-24zM594 24h24v6h-24zM642 30h18v6h-18zM702 30h12v6h-12zM612 60h12v6h-12zM630 66h6v6h-6zM636 72h6v6h-6zM678 102h6v6h-6zM696 108h6v6h-6zM714 114h30v6h-30zM708 138h12v6h-12zM696 144h6v6h-6zM684 156h6v6h-6zM678 162h6v6h-6zM684 174h6v6h-6zM690 180h6v6h-6zM702 186h12v6h-12z"/><path fill="#858585" d="M600 12h24v6h-24zM600 18h24v6h-24zM618 24h24v6h-24zM720 24h24v6h-24zM660 30h42v6h-42zM576 60h36v6h-36zM624 66h6v6h-6zM630 72h6v6h-6zM642 78h6v6h-6zM648 84h6v6h-6zM654 90h6v6h-6zM666 96h6v6h-6zM690 108h6v6h-6zM702 114h12v6h-12zM714 120h30v6h-30zM714 126h30v6h-30zM720 132h24v6h-24zM702 138h6v6h-6zM690 144h6v6h-6zM684 150h6v6h-6zM678 156h6v6h-6zM678 168h6v6h-6zM678 174h6v6h-6zM684 180h6v6h-6zM696 186h6v6h-6zM714 192h30v6h-30z"/><path fill="#8a8a8a" d="M624 12h24v6h-24zM720 12h24v6h-24zM624 18h24v6h-24zM720 18h24v6h-24zM642 24h24v6h-24zM702 24h18v6h-18zM606 66h18v6h-18zM624 72h6v6h-6zM636 78h6v6h-6zM660 96h6v6h-6zM672 102h6v6h-6zM684 108h6v6h-6zM696 114h6v6h-6zM702 120h12v6h-12zM708 126h6v6h-6zM708 132h12v6h-12zM696 138h6v6h-6zM678 150h6v6h-6zM672 156h6v6h-6zM672 162h6v6h-6zM672 168h6v6h-6zM672 174h6v6h-6zM678 180h6v6h-6zM690 186h6v6h-6zM702 192h12v6h-12z"/><path fill="#8f8f8f" d="M648 12h24v6h-24zM708 12h12v6h-12zM648 18h24v6h-24zM708 18h12v6h-12zM666 24h36v6h-36zM588 66h18v6h-18zM618 72h6v6h-6zM630 78h6v6h-6zM642 84h6v6h-6zM648 90h6v6h-6zM654 96h6v6h-6zM666 102h6v6h-6zM678 108h6v6h-6zM690 114h6v6h-6zM696 120h6v6h-6zM696 126h12v6h-12zM702 132h6v6h-6zM690 138h6v6h-6zM684 144h6v6h-6zM666 162h6v6h-6zM666 168h6v6h-6zM672 180h6v6h-6zM684 186h6v6h-6zM696 192h6v6h-6zM720 198h24v6h-24z"/><path fill="#959595" d="M672 12h36v6h-36zM672 18h36v6h-36zM576 66h12v6h-12zM606 72h12v6h-12zM624 78h6v6h-6zM630 84h12v6h-12zM660 102h6v6h-6zM672 108h6v6h-6zM684 114h6v6h-6zM690 120h6v6h-6zM696 132h6v6h-6zM678 144h6v6h-6zM672 150h6v6h-6zM666 156h6v6h-6zM666 174h6v6h-6zM666 180h6v6h-6zM672 186h12v6h-12zM690 192h6v6h-6zM702 198h18v6h-18z"/><path fill="#9a9a9a" d="M588 72h18v6h-18zM612 78h12v6h-12zM624 84h6v6h-6zM636 90h12v6h-12zM648 96h6v6h-6zM654 102h6v6h-6zM666 108h6v6h-6zM678 114h6v6h-6zM684 120h6v6h-6zM690 126h6v6h-6zM690 132h6v6h-6zM684 138h6v6h-6zM666 150h6v6h-6zM660 156h6v6h-6zM660 162h6v6h-6zM660 168h6v6h-6zM660 174h6v6h-6zM660 180h6v6h-6zM666 186h6v6h-6zM678 192h12v6h-12zM690 198h12v6h-12zM708 204h36v6h-36zM714 210h30v6h-30zM714 216h30v6h-30zM714 222h30v6h-30z"/><path fill="#9f9f9f" d="M576 72h12v6h-12zM600 78h12v6h-12zM612 84h12v6h-12zM630 90h6v6h-6zM642 96h6v6h-6zM648 102h6v6h-6zM660 108h6v6h-6zM672 114h6v6h-6zM678 120h6v6h-6zM684 126h6v6h-6zM678 138h6v6h-6zM672 144h6v6h-6zM654 156h6v6h-6zM654 162h6v6h-6zM654 168h6v6h-6zM654 174h6v6h-6zM654 180h6v6h-6zM660 186h6v6h-6zM672 192h6v6h-6zM684 198h6v6h-6zM696 204h12v6h-12zM702 210h12v6h-12zM702 216h12v6h-12zM702 222h12v6h-12z"/><path fill="#a5a5a5" d="M576 78h24v6h-24zM600 84h12v6h-12zM618 90h12v6h-12zM630 96h12v6h-12zM642 102h6v6h-6zM654 108h6v6h-6zM666 114h6v6h-6zM672 120h6v6h-6zM678 126h6v6h-6zM684 132h6v6h-6zM660 150h6v6h-6zM648 162h6v6h-6zM648 168h6v6h-6zM648 174h6v6h-6zM648 180h6v6h-6zM654 186h6v6h-6zM666 192h6v6h-6zM678 198h6v6h-6zM684 204h12v6h-12zM696 210h6v6h-6zM696 216h6v6h-6zM696 222h6v6h-6z"/><path fill="#aaaaaa" d="M576 84h24v6h-24zM600 90h18v6h-18zM624 96h6v6h-6zM636 102h6v6h-6zM648 108h6v6h-6zM660 114h6v6h-6zM672 138h6v6h-6zM666 144h6v6h-6zM654 150h6v6h-6zM648 156h6v6h-6zM642 162h6v6h-6zM642 168h6v6h-6zM642 174h6v6h-6zM642 180h6v6h-6zM648 186h6v6h-6zM660 192h6v6h-6zM666 198h12v6h-12zM678 204h6v6h-6zM684 210h12v6h-12zM684 216h12v6h-12zM684 222h12v6h-12z"/><path fill="#afafaf" d="M576 90h24v6h-24zM606 96h18v6h-18zM624 102h12v6h-12zM642 108h6v6h-6zM654 114h6v6h-6zM666 120h6v6h-6zM672 126h6v6h-6zM678 132h6v6h-6zM660 144h6v6h-6zM648 150h6v6h-6zM642 156h6v6h-6zM636 162h6v6h-6zM636 168h6v6h-6zM636 174h6v6h-6zM636 180h6v6h-6zM642 186h6v6h-6zM654 192h6v6h-6zM660 198h6v6h-6zM672 204h6v6h-6zM678 210h6v6h-6zM678 216h6v6h-6zM678 222h6v6h-6z"/><path fill="#b5b5b5" d="M576 96h30v6h-30zM606 102h18v6h-18zM630 108h12v6h-12zM648 114h6v6h-6zM660 120h6v6h-6zM666 126h6v6h-6zM672 132h6v6h-6zM666 138h6v6h-6zM654 144h6v6h-6zM642 150h6v6h-6zM630 156h12v6h-12zM630 162h6v6h-6zM630 168h6v6h-6zM630 174h6v6h-6zM636 186h6v6h-6zM648 192h6v6h-6zM666 204h6v6h-6zM672 210h6v6h-6zM672 216h6v6h-6zM672 222h6v6h-6z"/><path fill="#bababa" d="M576 102h30v6h-30zM618 108h12v6h-12zM636 114h12v6h-12zM654 120h6v6h-6zM660 138h6v6h-6zM648 144h6v6h-6zM636 150h6v6h-6zM624 156h6v6h-6zM618 162h12v6h-12zM624 168h6v6h-6zM624 174h6v6h-6zM630 180h6v6h-6zM642 192h6v6h-6zM654 198h6v6h-6zM660 204h6v6h-6zM666 210h6v6h-6zM666 216h6v6h-6zM666 222h6v6h-6z"/><path fill="#bfbfbf" d="M594 108h24v6h-24zM624 114h12v6h-12zM642 120h12v6h-12zM654 126h12v6h-12zM666 132h6v6h-6zM654 138h6v6h-6zM624 150h12v6h-12zM612 156h12v6h-12zM606 162h12v6h-12zM612 168h12v6h-12zM618 174h6v6h-6zM624 180h6v6h-6zM630 186h6v6h-6zM636 192h6v6h-6zM648 198h6v6h-6zM654 204h6v6h-6zM660 210h6v6h-6zM660 216h6v6h-6zM660 222h6v6h-6z"/><path fill="#c5c5c5" d="M576 108h18v6h-18zM612 114h12v6h-12zM636 120h6v6h-6zM648 126h6v6h-6zM660 132h6v6h-6zM648 138h6v6h-6zM636 144h12v6h-12zM618 150h6v6h-6zM594 156h18v6h-18zM576 162h30v6h-30zM594 168h18v6h-18zM606 174h12v6h-12zM618 180h6v6h-6zM624 186h6v6h-6zM630 192h6v6h-6zM642 198h6v6h-6zM648 204h6v6h-6zM654 210h6v6h-6zM654 216h6v6h-6zM654 222h6v6h-6z"/><path fill="#cacaca" d="M588 114h24v6h-24zM624 120h12v6h-12zM642 126h6v6h-6zM654 132h6v6h-6zM630 144h6v6h-6zM600 150h18v6h-18zM576 156h18v6h-18zM576 168h18v6h-18zM594 174h12v6h-12zM606 180h12v6h-12zM618 186h6v6h-6zM624 192h6v6h-6zM636 198h6v6h-6zM648 210h6v6h-6zM648 216h6v6h-6zM648 222h6v6h-6z"/><path fill="#cfcfcf" d="M576 114h12v6h-12zM600 120h24v6h-24zM630 126h12v6h-12zM648 132h6v6h-6zM636 138h12v6h-12zM624 144h6v6h-6zM576 150h24v6h-24zM576 174h18v6h-18zM594 180h12v6h-12zM606 186h12v6h-12zM618 192h6v6h-6zM630 198h6v6h-6zM636 204h12v6h-12zM642 210h6v6h-6zM642 216h6v6h-6zM642 222h6v6h-6z"/><path fill="#d4d4d4" d="M576 120h24v6h-24zM618 126h12v6h-12zM642 132h6v6h-6zM630 138h6v6h-6zM606 144h18v6h-18zM576 180h18v6h-18zM594 186h12v6h-12zM606 192h12v6h-12zM618 198h12v6h-12zM630 204h6v6h-6zM636 210h6v6h-6zM636 216h6v6h-6zM636 222h6v6h-6z"/><path fill="#dadada" d="M576 126h42v6h-42zM630 132h12v6h-12zM612 138h18v6h-18zM576 144h30v6h-30zM576 186h18v6h-18zM594 192h12v6h-12zM606 198h12v6h-12zM618 204h12v6h-12zM624 210h12v6h-12zM624 216h12v6h-12zM624 222h12v6h-12z"/><path fill="#dfdfdf" d="M600 132h30v6h-30zM576 138h36v6h-36zM576 192h18v6h-18zM594 198h12v6h-12zM600 204h18v6h-18zM606 210h18v6h-18zM606 216h18v6h-18zM606 222h18v6h-18z"/><path fill="#e4e4e4" d="M576 132h24v6h-24zM576 198h18v6h-18zM576 204h24v6h-24zM576 210h30v6h-30zM576 216h30v6h-30zM576 222h30v6h-30z"/></g><rect x="0" y="0" width="802" height="230" fill="url(#shade)"/><rect x="0" y="138" width="802" height="36" fill="url(#spec)"/><rect x="0" y="138" width="802" height="36" fill="url(#spec)" opacity="0.4" transform="translate(0 -38)"/><rect x="690" y="0" width="38" height="230" fill="url(#edge)"/></g>
<g fill="#fff">
<rect x="37" y="18" width="37" height="15.5"/>
<rect x="156" y="192.5" width="31" height="24"/>
<rect x="195.5" y="19" width="41.5" height="13.5"/>
<rect x="305.7" y="194.4" width="36.5" height="22.3"/>
<rect x="431" y="18.5" width="35" height="14.5"/>
<rect x="539" y="192.5" width="37.5" height="23.5"/>
<rect x="586.5" y="20.2" width="41.5" height="14"/>
<rect x="690" y="188" width="39.5" height="25.2"/>
</g>
<g stroke="#8c8c8c" stroke-width="0.9" fill="none">
<path d="M539 215.5H576V192.5"/><path d="M690 212.7H729V188"/>
<path d="M195 32.5V18.5H237"/><path d="M430.5 33V18H466"/><path d="M586 34V19.7H628"/>
</g>
<g filter="url(#soft2)">
<text x="36.2" y="14.7" font-family='"Liberation Serif","DejaVu Serif",serif' font-size="13.9" font-weight="normal" font-style="normal" fill="#222" text-anchor="start" stroke="#222" stroke-width="0.3" textLength="86.5" lengthAdjust="spacingAndGlyphs">425 W 0.25m/s</text>
<text x="38.4" y="30.4" font-family='"Liberation Serif","DejaVu Serif",serif' font-size="13.8" font-weight="normal" font-style="normal" fill="#222" text-anchor="start" stroke="#222" stroke-width="0.3" textLength="34.8" lengthAdjust="spacingAndGlyphs">823 K</text>
<text x="195.4" y="31.3" font-family='"Liberation Serif","DejaVu Serif",serif' font-size="13.4" font-weight="normal" font-style="normal" fill="#222" text-anchor="start" stroke="#222" stroke-width="0.3" textLength="40.1" lengthAdjust="spacingAndGlyphs">1123 K</text>
<text x="159.5" y="211.3" font-family='"Liberation Serif","DejaVu Serif",serif' font-size="17" font-weight="normal" font-style="normal" fill="#222" text-anchor="start" stroke="#222" stroke-width="0.3">(a1)</text>
<text x="309.8" y="212" font-family='"Liberation Serif","DejaVu Serif",serif' font-size="16.6" font-weight="normal" font-style="normal" fill="#222" text-anchor="start" stroke="#222" stroke-width="0.3">(b1)</text>
<text x="429" y="13.1" font-family='"Liberation Serif","DejaVu Serif",serif' font-size="13.9" font-weight="normal" font-style="normal" fill="#222" text-anchor="start" stroke="#222" stroke-width="0.3" textLength="79.4" lengthAdjust="spacingAndGlyphs">850 W 0.5m/s</text>
<text x="430.7" y="29.8" font-family='"Liberation Serif","DejaVu Serif",serif' font-size="13.6" font-weight="normal" font-style="normal" fill="#222" text-anchor="start" stroke="#222" stroke-width="0.3" textLength="34.3" lengthAdjust="spacingAndGlyphs">823 K</text>
<text x="586.4" y="31.9" font-family='"Liberation Serif","DejaVu Serif",serif' font-size="13.4" font-weight="normal" font-style="normal" fill="#222" text-anchor="start" stroke="#222" stroke-width="0.3" textLength="40.1" lengthAdjust="spacingAndGlyphs">1123 K</text>
<text x="543" y="211.5" font-family='"Liberation Serif","DejaVu Serif",serif' font-size="16.8" font-weight="normal" font-style="normal" fill="#222" text-anchor="start" stroke="#222" stroke-width="0.3">(c1)</text>
<text x="694.5" y="208.3" font-family='"Liberation Serif","DejaVu Serif",serif' font-size="16.8" font-weight="normal" font-style="normal" fill="#222" text-anchor="start" stroke="#222" stroke-width="0.3">(d1)</text>
</g>
<rect x="346" y="25" width="8.6" height="150" fill="url(#gjet)"/>
<g filter="url(#soft2)">
<path d="M352.1 25h7.5" stroke="#333" stroke-width="1"/>
<text x="363" y="28.024" font-family='"DejaVu Serif","Liberation Serif",serif' font-size="8.4" font-weight="bold" font-style="normal" fill="#2a2a2a" text-anchor="start" >0.15</text>
<path d="M352.1 55h7.5" stroke="#333" stroke-width="1"/>
<text x="363" y="58.024" font-family='"DejaVu Serif","Liberation Serif",serif' font-size="8.4" font-weight="bold" font-style="normal" fill="#2a2a2a" text-anchor="start" >0.12</text>
<path d="M352.1 75h7.5" stroke="#333" stroke-width="1"/>
<text x="363" y="78.024" font-family='"DejaVu Serif","Liberation Serif",serif' font-size="8.4" font-weight="bold" font-style="normal" fill="#2a2a2a" text-anchor="start" >0.1</text>
<path d="M352.1 95h7.5" stroke="#333" stroke-width="1"/>
<text x="363" y="98.024" font-family='"DejaVu Serif","Liberation Serif",serif' font-size="8.4" font-weight="bold" font-style="normal" fill="#2a2a2a" text-anchor="start" >0.08</text>
<path d="M352.1 115h7.5" stroke="#333" stroke-width="1"/>
<text x="363" y="118.024" font-family='"DejaVu Serif","Liberation Serif",serif' font-size="8.4" font-weight="bold" font-style="normal" fill="#2a2a2a" text-anchor="start" >0.06</text>
<path d="M352.1 135h7.5" stroke="#333" stroke-width="1"/>
<text x="363" y="138.024" font-family='"DejaVu Serif","Liberation Serif",serif' font-size="8.4" font-weight="bold" font-style="normal" fill="#2a2a2a" text-anchor="start" >0.04</text>
<path d="M352.1 155h7.5" stroke="#333" stroke-width="1"/>
<text x="363" y="158.024" font-family='"DejaVu Serif","Liberation Serif",serif' font-size="8.4" font-weight="bold" font-style="normal" fill="#2a2a2a" text-anchor="start" >0.02</text>
<path d="M352.1 175h7.5" stroke="#333" stroke-width="1"/>
<text x="363" y="178.024" font-family='"DejaVu Serif","Liberation Serif",serif' font-size="8.4" font-weight="bold" font-style="normal" fill="#2a2a2a" text-anchor="start" >0.0</text>
<text transform="translate(399 96) rotate(-90)" font-family='"DejaVu Serif","Liberation Serif",serif' font-size="9.4" font-weight="bold" fill="#2a2a2a" text-anchor="middle">V_flow (m/s)</text>
</g>
<rect x="735.5" y="28.3" width="9" height="152.7" fill="url(#gjet)"/>
<g filter="url(#soft2)">
<path d="M742 28.3h7.5" stroke="#333" stroke-width="1"/>
<text x="754.5" y="31.324" font-family='"DejaVu Serif","Liberation Serif",serif' font-size="8.4" font-weight="bold" font-style="normal" fill="#2a2a2a" text-anchor="start" >0.40</text>
<path d="M742 47.3875h7.5" stroke="#333" stroke-width="1"/>
<text x="754.5" y="50.4115" font-family='"DejaVu Serif","Liberation Serif",serif' font-size="8.4" font-weight="bold" font-style="normal" fill="#2a2a2a" text-anchor="start" >0.35</text>
<path d="M742 66.475h7.5" stroke="#333" stroke-width="1"/>
<text x="754.5" y="69.499" font-family='"DejaVu Serif","Liberation Serif",serif' font-size="8.4" font-weight="bold" font-style="normal" fill="#2a2a2a" text-anchor="start" >0.3</text>
<path d="M742 85.5625h7.5" stroke="#333" stroke-width="1"/>
<text x="754.5" y="88.5865" font-family='"DejaVu Serif","Liberation Serif",serif' font-size="8.4" font-weight="bold" font-style="normal" fill="#2a2a2a" text-anchor="start" >0.25</text>
<path d="M742 104.65h7.5" stroke="#333" stroke-width="1"/>
<text x="754.5" y="107.674" font-family='"DejaVu Serif","Liberation Serif",serif' font-size="8.4" font-weight="bold" font-style="normal" fill="#2a2a2a" text-anchor="start" >0.2</text>
<path d="M742 123.738h7.5" stroke="#333" stroke-width="1"/>
<text x="754.5" y="126.762" font-family='"DejaVu Serif","Liberation Serif",serif' font-size="8.4" font-weight="bold" font-style="normal" fill="#2a2a2a" text-anchor="start" >0.15</text>
<path d="M742 142.825h7.5" stroke="#333" stroke-width="1"/>
<text x="754.5" y="145.849" font-family='"DejaVu Serif","Liberation Serif",serif' font-size="8.4" font-weight="bold" font-style="normal" fill="#2a2a2a" text-anchor="start" >0.1</text>
<path d="M742 161.912h7.5" stroke="#333" stroke-width="1"/>
<text x="754.5" y="164.936" font-family='"DejaVu Serif","Liberation Serif",serif' font-size="8.4" font-weight="bold" font-style="normal" fill="#2a2a2a" text-anchor="start" >0.05</text>
<path d="M742 181h7.5" stroke="#333" stroke-width="1"/>
<text x="754.5" y="184.024" font-family='"DejaVu Serif","Liberation Serif",serif' font-size="8.4" font-weight="bold" font-style="normal" fill="#2a2a2a" text-anchor="start" >0.0</text>
<text transform="translate(793.5 109) rotate(-90)" font-family='"DejaVu Serif","Liberation Serif",serif' font-size="9.4" font-weight="bold" fill="#2a2a2a" text-anchor="middle">V_flow (m/s)</text>
</g>
<rect x="345.5" y="194.4" width="48.5" height="5.6" fill="#000"/>
<rect x="735.5" y="191.6" width="48.5" height="5.4" fill="#000"/>
<text x="345.5" y="219" font-family='"DejaVu Sans","Liberation Sans",sans-serif' font-size="13.9" fill="#222" filter="url(#soft2)">100 <tspan font-style="italic">μ</tspan>m</text>
<text x="736" y="214.7" font-family='"DejaVu Sans","Liberation Sans",sans-serif' font-size="13.9" fill="#222" filter="url(#soft2)">100 <tspan font-style="italic">μ</tspan>m</text>
<g fill="#000">
<path d="M17.6 237.6V210.5H13L19.3 196.8L25.4 210.5H21.2V233.2H37.6V228.6L50 235.4L37.6 242V237.6Z"/>
<path d="M60.7 222.3H166.5V218.6L178 224.6L166.5 230.4V227.2H60.7Z"/>
</g>
<g filter="url(#soft2)">
<text x="2" y="209.3" font-family='"Liberation Sans","DejaVu Sans",sans-serif' font-size="14.5" font-weight="normal" font-style="italic" fill="#111" text-anchor="start" >Y</text>
<text x="37" y="256.3" font-family='"Liberation Sans","DejaVu Sans",sans-serif' font-size="14.5" font-weight="normal" font-style="italic" fill="#111" text-anchor="start" >X</text>
<text x="58.5" y="244.6" font-family='"Liberation Serif","DejaVu Serif",serif' font-size="14.2" font-weight="bold" font-style="normal" fill="#111" text-anchor="start" >Scanning direction</text>
</g>
<g stroke="#7c7c7c" stroke-width="0.9" fill="none">
<path d="M61 293.5L212 287L301 298.5V366L210 377.5L58 357V297L61 293.5M58 297L210 302L301 298.5M210.5 287V377.5"/>
</g>
<path d="M59.6 297 C75 299 100 303 120 308 C135 311 150 311.5 158 312 C164 316 168 322 171 328 L200 335 L215 350 C195 352 160 352 137 350 C120 349.5 100 345 93.6 341 C80 332 70 318 59.6 297Z" fill="#b4b2ae"/>
<path d="M212.4 287.3 L300 311.4 C290 318 282 323 274.7 327 C265 333 258 336.5 252 339 C245 342 225 348 205 350 C190 352 172 353 160 352 L150 348 C156 341 160 335 165 330 C173 324 182 318.5 190.5 312 C198 304.5 205 296 212.4 287.3Z" fill="url(#gdark)"/>
<g fill="none" stroke-linecap="round" filter="url(#soft)">
<path d="M90.6 295.5L89.1 297.3M137.8 348.8L142.4 348.9M142.4 348.9L147.2 349.1M132.8 346.7L136.7 347.1M136.7 347.1L140.6 347.4M100.8 296.4L99.5 298.0M133.2 344.9L136.6 345.4M136.6 345.4L140.0 345.7M127.5 340.7L131.1 341.5M131.1 341.5L134.6 342.3M134.6 342.3L138.0 343.1M124.9 338.0L128.3 339.0M128.3 339.0L131.8 339.8M131.8 339.8L135.3 340.6M127.7 337.1L130.8 338.1M130.8 338.1L134.0 339.0M134.0 339.0L137.3 339.9M134.7 335.5L137.3 336.4M137.3 336.4L139.9 337.3M132.5 333.5L134.9 334.9M134.9 334.9L137.3 336.1M137.3 336.1L139.9 337.1M139.3 332.4L141.7 333.6M139.9 328.2L141.4 329.7M141.4 329.7L143.2 331.0M143.6 327.6L145.1 329.0M145.1 329.0L146.9 330.3M143.6 299.9L143.3 301.1M150.2 325.6L151.5 327.0M151.5 327.0L152.9 328.4M153.4 324.3L154.5 325.5M154.5 325.5L155.7 326.7M159.7 324.1L160.8 325.5M160.8 325.5L162.0 326.8M166.1 323.3L166.9 324.2M166.9 324.2L167.7 325.0M112.9 298.0L112.5 299.4M114.8 320.1L116.5 322.2M120.8 298.6L120.5 300.2M121.7 318.3L123.2 320.0M135.9 315.4L136.9 317.3" stroke="#1aaf7b" stroke-width="1.5" stroke-opacity="1"/>
<path d="M89.1 297.3L86.7 299.9M86.7 299.9L84.0 302.9M129.3 348.3L133.5 348.6M133.5 348.6L137.8 348.8M95.2 296.8L93.7 298.4M93.7 298.4L91.4 300.5M125.2 345.3L129.1 346.1M129.1 346.1L132.8 346.7M99.5 298.0L97.7 300.1M97.7 300.1L95.5 302.7M125.8 343.4L129.6 344.2M129.6 344.2L133.2 344.9M107.2 297.8L105.9 299.3M105.9 299.3L104.1 301.5M117.1 337.6L120.4 338.8M120.4 338.8L123.9 339.8M123.9 339.8L127.5 340.7M111.1 298.1L110.1 299.4M110.1 299.4L108.6 301.3M118.9 335.4L121.8 336.8M121.8 336.8L124.9 338.0M113.4 297.9L112.6 299.5M119.9 332.9L122.3 334.5M122.3 334.5L124.9 335.9M124.9 335.9L127.7 337.1M119.5 298.3L118.8 299.8M132.1 334.5L134.7 335.5M122.2 298.8L121.6 300.3M127.8 329.9L130.1 331.8M130.1 331.8L132.5 333.5M127.6 298.6L127.0 300.0M135.0 329.9L137.0 331.2M137.0 331.2L139.3 332.4M133.3 300.1L132.7 301.4M132.7 301.4L131.8 303.3M137.2 325.2L138.5 326.7M138.5 326.7L139.9 328.2M136.3 300.2L135.9 301.5M135.9 301.5L135.3 303.5M142.1 326.1L143.6 327.6M143.3 301.1L142.9 302.9M142.9 302.9L142.5 305.0M149.0 324.2L150.2 325.6M145.9 301.6L145.8 302.8M145.8 302.8L145.5 304.5M151.5 321.8L152.4 323.1M152.4 323.1L153.4 324.3M151.8 300.7L151.7 301.9M156.6 319.6L157.6 321.1M157.6 321.1L158.6 322.6M158.6 322.6L159.7 324.1M156.8 301.7L157.0 302.9M157.0 302.9L157.2 304.6M164.7 321.5L165.4 322.5M165.4 322.5L166.1 323.3M112.5 299.4L111.9 301.5M111.9 301.5L111.2 303.8M113.3 317.9L114.8 320.1M120.5 300.2L119.9 302.3M119.9 302.3L119.3 304.8M119.3 304.8L118.8 307.5M119.4 314.5L120.4 316.4M120.4 316.4L121.7 318.3M134.1 300.3L134.1 301.5M134.1 301.5L134.0 303.3M135.1 313.5L135.9 315.4" stroke="#10a0a8" stroke-width="1.5" stroke-opacity="1"/>
<path d="M84.0 302.9L81.4 306.1M121.0 347.1L125.2 347.8M125.2 347.8L129.3 348.3M91.4 300.5L88.8 303.1M88.8 303.1L86.2 305.9M112.8 341.9L116.9 343.2M116.9 343.2L121.1 344.4M121.1 344.4L125.2 345.3M95.5 302.7L93.4 305.4M93.4 305.4L91.6 308.1M118.0 341.3L121.9 342.4M121.9 342.4L125.8 343.4M104.1 301.5L102.0 304.1M102.0 304.1L99.9 306.8M108.5 332.3L111.2 334.4M111.2 334.4L114.1 336.2M114.1 336.2L117.1 337.6M108.6 301.3L107.0 303.5M107.0 303.5L105.3 305.9M111.9 329.6L114.0 331.8M114.0 331.8L116.4 333.7M116.4 333.7L118.9 335.4M112.6 299.5L111.3 301.7M111.3 301.7L109.9 304.3M114.1 326.6L115.9 328.8M115.9 328.8L117.8 330.9M117.8 330.9L119.9 332.9M118.8 299.8L117.8 302.0M117.8 302.0L116.6 304.5M127.3 331.8L129.7 333.2M129.7 333.2L132.1 334.5M121.6 300.3L120.7 302.5M120.7 302.5L119.7 305.0M125.6 327.8L127.8 329.9M127.0 300.0L126.1 302.0M126.1 302.0L125.1 304.4M129.6 325.7L131.3 327.2M131.3 327.2L133.0 328.5M133.0 328.5L135.0 329.9M131.8 303.3L130.7 305.5M133.5 320.4L134.8 322.0M134.8 322.0L136.0 323.6M136.0 323.6L137.2 325.2M135.3 303.5L134.6 305.7M134.6 305.7L133.9 308.1M139.6 323.0L140.8 324.5M140.8 324.5L142.1 326.1M142.5 305.0L142.1 307.3M142.1 307.3L141.9 309.5M147.8 322.7L149.0 324.2M145.5 304.5L145.2 306.5M145.2 306.5L145.1 308.7M148.4 318.0L149.5 319.3M149.5 319.3L150.5 320.6M150.5 320.6L151.5 321.8M151.7 301.9L151.6 303.5M151.6 303.5L151.4 305.5M153.7 315.6L154.6 316.9M154.6 316.9L155.6 318.3M155.6 318.3L156.6 319.6M157.2 304.6L157.5 306.7M157.5 306.7L157.9 308.8M162.1 318.2L163.1 319.4M163.1 319.4L163.9 320.5M163.9 320.5L164.7 321.5M111.2 303.8L110.6 306.4M110.6 306.4L110.4 308.9M111.1 313.5L112.1 315.7M112.1 315.7L113.3 317.9M118.8 307.5L118.5 310.2M118.5 310.2L118.7 312.5M118.7 312.5L119.4 314.5M134.0 303.3L133.9 305.3M133.9 305.3L133.9 307.5M133.9 307.5L134.0 309.6M134.0 309.6L134.4 311.6M134.4 311.6L135.1 313.5" stroke="#1081ba" stroke-width="1.5" stroke-opacity="1"/>
<path d="M81.4 306.1L79.2 309.2M92.2 336.4L95.5 338.4M95.5 338.4L99.1 340.2M99.1 340.2L103.2 341.9M103.2 341.9L107.5 343.4M107.5 343.4L112.0 344.8M112.0 344.8L116.5 346.1M116.5 346.1L121.0 347.1M86.2 305.9L84.1 308.6M101.7 337.3L105.1 339.0M105.1 339.0L108.8 340.5M108.8 340.5L112.8 341.9M91.6 308.1L90.6 310.6M90.6 310.6L90.2 312.9M90.2 312.9L90.2 315.1M90.2 315.1L90.6 317.4M107.4 337.1L110.6 338.7M110.6 338.7L114.2 340.1M114.2 340.1L118.0 341.3M99.9 306.8L98.2 309.5M101.6 325.5L103.6 327.8M103.6 327.8L105.9 330.1M105.9 330.1L108.5 332.3M105.3 305.9L104.0 308.3M104.0 308.3L103.3 310.5M106.8 323.0L108.2 325.2M108.2 325.2L109.9 327.4M109.9 327.4L111.9 329.6M109.9 304.3L108.5 307.0M108.5 307.0L107.4 309.7M107.4 309.7L106.9 312.0M107.3 315.7L107.9 317.4M107.9 317.4L108.9 319.0M108.9 319.0L110.0 320.7M110.0 320.7L111.2 322.5M111.2 322.5L112.6 324.5M112.6 324.5L114.1 326.6M116.6 304.5L115.5 307.2M115.5 307.2L114.6 309.8M120.5 326.7L122.6 328.5M122.6 328.5L124.9 330.2M124.9 330.2L127.3 331.8M119.7 305.0L118.7 307.7M118.7 307.7L118.0 310.2M121.7 323.6L123.5 325.6M123.5 325.6L125.6 327.8M125.1 304.4L124.2 306.9M124.2 306.9L123.5 309.4M124.9 319.2L125.8 321.0M125.8 321.0L126.9 322.6M126.9 322.6L128.2 324.2M128.2 324.2L129.6 325.7M130.7 305.5L129.8 307.8M129.8 307.8L129.1 310.1M130.0 315.6L131.1 317.2M131.1 317.2L132.3 318.8M132.3 318.8L133.5 320.4M133.9 308.1L133.5 310.4M133.5 310.4L133.4 312.4M133.8 314.1L134.4 315.7M134.4 315.7L135.2 317.1M135.2 317.1L136.2 318.6M136.2 318.6L137.3 320.0M137.3 320.0L138.5 321.4M138.5 321.4L139.6 323.0M141.9 309.5L142.0 311.4M142.0 311.4L142.4 313.2M142.4 313.2L143.0 314.9M143.0 314.9L143.8 316.5M143.8 316.5L144.7 318.1M144.7 318.1L145.7 319.6M145.7 319.6L146.7 321.2M146.7 321.2L147.8 322.7M145.1 308.7L145.0 310.7M145.0 310.7L145.3 312.5M145.8 314.0L146.5 315.5M146.5 315.5L147.4 316.8M147.4 316.8L148.4 318.0M151.4 305.5L151.3 307.5M151.3 307.5L151.4 309.5M152.2 312.8L152.9 314.2M152.9 314.2L153.7 315.6M157.9 308.8L158.3 310.9M158.3 310.9L158.9 312.6M158.9 312.6L159.6 314.2M159.6 314.2L160.4 315.6M160.4 315.6L161.2 316.9M161.2 316.9L162.1 318.2M110.4 308.9L110.5 311.3M110.5 311.3L111.1 313.5" stroke="#1161c8" stroke-width="1.5" stroke-opacity="1"/>
<path d="M79.2 309.2L77.8 311.9M77.8 311.9L77.2 314.2M82.1 327.2L84.2 329.5M84.2 329.5L86.6 331.9M86.6 331.9L89.2 334.2M89.2 334.2L92.2 336.4M84.1 308.6L82.8 311.1M82.8 311.1L82.5 313.5M82.5 313.5L82.6 315.8M82.6 315.8L83.3 318.1M83.3 318.1L84.3 320.4M90.9 329.3L93.2 331.4M93.2 331.4L95.8 333.5M95.8 333.5L98.7 335.5M98.7 335.5L101.7 337.3M90.6 317.4L91.3 319.6M91.3 319.6L92.3 321.8M92.3 321.8L93.6 324.0M93.6 324.0L95.2 326.3M95.2 326.3L97.1 328.6M97.1 328.6L99.3 331.0M99.3 331.0L101.8 333.2M101.8 333.2L104.5 335.3M104.5 335.3L107.4 337.1M98.2 309.5L97.1 311.9M97.1 311.9L96.7 313.9M96.7 313.9L96.7 315.9M96.7 315.9L97.0 317.7M97.0 317.7L97.7 319.6M97.7 319.6L98.7 321.4M98.7 321.4L100.0 323.4M100.0 323.4L101.6 325.5M103.3 310.5L103.1 312.6M103.1 312.6L103.3 314.7M103.3 314.7L103.8 316.8M103.8 316.8L104.6 318.8M104.6 318.8L105.6 320.9M105.6 320.9L106.8 323.0M106.9 312.0L106.9 313.9M106.9 313.9L107.3 315.7M114.6 309.8L114.2 312.1M114.2 312.1L114.1 314.1M114.1 314.1L114.2 316.0M114.2 316.0L114.5 317.8M114.5 317.8L115.1 319.6M115.1 319.6L115.9 321.3M115.9 321.3L117.1 323.0M117.1 323.0L118.6 324.8M118.6 324.8L120.5 326.7M118.0 310.2L117.6 312.4M117.6 312.4L117.5 314.1M117.5 314.1L117.6 315.7M117.6 315.7L117.9 317.1M117.9 317.1L118.4 318.6M118.4 318.6L119.2 320.0M119.2 320.0L120.3 321.7M120.3 321.7L121.7 323.6M123.5 309.4L123.2 311.6M123.2 311.6L123.3 313.6M123.3 313.6L123.6 315.5M123.6 315.5L124.1 317.4M124.1 317.4L124.9 319.2M129.1 310.1L128.9 312.1M128.9 312.1L129.3 313.9M129.3 313.9L130.0 315.6M133.4 312.4L133.8 314.1M145.3 312.5L145.8 314.0M151.4 309.5L151.7 311.3M151.7 311.3L152.2 312.8" stroke="#163ec8" stroke-width="1.5" stroke-opacity="1"/>
<path d="M77.2 314.2L77.1 316.5M77.1 316.5L77.4 318.6M77.4 318.6L78.1 320.7M78.1 320.7L79.1 322.8M79.1 322.8L80.5 324.9M80.5 324.9L82.1 327.2M84.3 320.4L85.6 322.7M85.6 322.7L87.1 324.9M87.1 324.9L88.9 327.1M88.9 327.1L90.9 329.3" stroke="#1527bc" stroke-width="1.5" stroke-opacity="1"/>
<path d="M147.2 349.1L152.8 349.2M140.6 347.4L144.9 347.7M144.9 347.7L149.5 348.1M140.0 345.7L143.5 346.0M143.5 346.0L147.4 346.2M138.0 343.1L141.3 343.8M141.3 343.8L144.6 344.4M135.3 340.6L138.7 341.3M138.7 341.3L142.0 342.0M142.0 342.0L145.1 342.6M137.3 339.9L140.5 340.7M140.5 340.7L143.7 341.4M143.7 341.4L146.9 342.0M139.9 337.3L142.7 338.1M142.7 338.1L145.5 339.0M139.9 337.1L142.6 338.0M142.6 338.0L145.3 338.9M145.3 338.9L148.1 339.7M141.7 333.6L144.3 334.7M144.3 334.7L147.0 335.8M143.2 331.0L145.3 332.2M145.3 332.2L147.6 333.3M146.9 330.3L148.9 331.5M148.9 331.5L151.2 332.6M152.9 328.4L154.4 329.5M155.7 326.7L157.1 327.8M157.1 327.8L158.8 328.8M162.0 326.8L163.3 328.0M163.3 328.0L164.6 329.0M167.7 325.0L168.7 325.9M116.5 322.2L118.3 324.2M118.3 324.2L120.4 326.2M123.2 320.0L124.8 321.8M124.8 321.8L126.6 323.5M136.9 317.3L138.1 319.1M138.1 319.1L139.4 320.9" stroke="#35bf52" stroke-width="1.5" stroke-opacity="1"/>
<path d="M152.8 349.2L159.3 349.3M159.3 349.3L166.0 349.4M149.5 348.1L155.1 348.4M155.1 348.4L161.5 348.7M161.5 348.7L168.2 349.0M147.4 346.2L151.7 346.5M151.7 346.5L157.0 346.9M144.6 344.4L148.1 344.9M148.1 344.9L151.8 345.4M145.1 342.6L148.3 343.1M148.3 343.1L151.6 343.5M151.6 343.5L155.1 344.0M146.9 342.0L150.1 342.5M150.1 342.5L153.4 343.0M145.5 339.0L148.3 339.9M148.1 339.7L150.9 340.5M150.9 340.5L153.7 341.2M147.0 335.8L149.7 336.8M149.7 336.8L152.3 337.8M147.6 333.3L150.0 334.3M150.0 334.3L152.6 335.2M151.2 332.6L153.6 333.5M153.6 333.5L156.0 334.4M154.4 329.5L155.9 330.6M155.9 330.6L157.5 331.5M158.8 328.8L160.8 329.9M160.8 329.9L162.8 330.9M164.6 329.0L166.0 329.8M168.7 325.9L169.9 326.8M169.9 326.8L171.1 327.7M120.4 326.2L122.8 328.0M126.6 323.5L128.6 325.3M128.6 325.3L130.8 327.0M139.4 320.9L140.9 322.6" stroke="#6bd12e" stroke-width="1.5" stroke-opacity="1"/>
<path d="M166.0 349.4L172.3 349.4M172.3 349.4L177.6 349.4M168.2 349.0L174.6 349.2M174.6 349.2L180.0 349.4M180.0 349.4L183.9 349.6M157.0 346.9L163.1 347.3M163.1 347.3L169.6 347.6M169.6 347.6L175.7 347.9M151.8 345.4L155.8 345.8M155.8 345.8L160.6 346.1M160.6 346.1L166.1 346.4M155.1 344.0L158.9 344.5M158.9 344.5L163.4 345.0M163.4 345.0L168.5 345.6M153.4 343.0L157.0 343.5M157.0 343.5L160.7 344.0M148.3 339.9L151.1 340.9M151.1 340.9L154.0 341.8M153.7 341.2L156.6 341.8M152.3 337.8L154.8 338.8M152.6 335.2L155.1 336.2M155.1 336.2L157.5 337.1M156.0 334.4L158.4 335.3M158.4 335.3L160.7 336.2M157.5 331.5L159.2 332.4M159.2 332.4L160.9 333.1M160.9 333.1L162.7 333.9M162.8 330.9L164.9 331.8M164.9 331.8L167.0 332.7M166.0 329.8L167.5 330.5M167.5 330.5L169.0 331.1M171.1 327.7L172.5 328.7M122.8 328.0L125.4 329.8M125.4 329.8L128.2 331.6M130.8 327.0L133.2 328.8M133.2 328.8L135.8 330.4M140.9 322.6L142.5 324.2M142.5 324.2L144.2 325.7" stroke="#aadb1a" stroke-width="1.5" stroke-opacity="1"/>
<path d="M177.6 349.4L181.4 349.5M175.7 347.9L181.0 348.2M181.0 348.2L184.7 348.4M166.1 346.4L171.8 346.5M171.8 346.5L177.3 346.7M168.5 345.6L173.8 346.1M173.8 346.1L178.8 346.7M160.7 344.0L165.1 344.5M165.1 344.5L170.2 345.1M154.0 341.8L157.0 342.7M157.0 342.7L160.2 343.4M156.6 341.8L159.6 342.3M159.6 342.3L162.7 342.7M154.8 338.8L157.2 339.7M157.2 339.7L159.6 340.6M157.5 337.1L159.7 337.9M159.7 337.9L161.7 338.8M160.7 336.2L162.8 337.0M162.8 337.0L164.8 337.8M162.7 333.9L164.6 334.6M164.6 334.6L166.5 335.3M167.0 332.7L168.9 333.6M169.0 331.1L170.5 331.8M172.5 328.7L173.9 329.6M128.2 331.6L131.1 333.2M135.8 330.4L138.4 332.0M138.4 332.0L141.1 333.4M144.2 325.7L146.2 327.1M146.2 327.1L148.2 328.5" stroke="#f0e010" stroke-width="1.5" stroke-opacity="1"/>
<path d="M177.3 346.7L181.9 346.8M181.9 346.8L185.2 346.9M178.8 346.7L183.1 347.1M183.1 347.1L186.2 347.4M170.2 345.1L175.4 345.7M175.4 345.7L180.4 346.2M160.2 343.4L163.6 344.0M163.6 344.0L167.5 344.3M162.7 342.7L166.1 343.1M166.1 343.1L169.9 343.5M159.6 340.6L162.2 341.4M161.7 338.8L163.8 339.7M164.8 337.8L166.7 338.6M166.5 335.3L168.4 335.8M168.4 335.8L170.4 336.4M168.9 333.6L170.5 334.4M170.5 334.4L172.0 335.2M170.5 331.8L172.0 332.5M173.9 329.6L175.4 330.5M175.4 330.5L176.8 331.3M131.1 333.2L134.1 334.7M134.1 334.7L137.2 336.2M141.1 333.4L144.0 334.7M148.2 328.5L150.4 329.8M150.4 329.8L152.6 331.0" stroke="#f4c814" stroke-width="1.5" stroke-opacity="1"/>
<path d="M180.4 346.2L184.6 346.7M167.5 344.3L172.0 344.5M172.0 344.5L176.7 344.6M176.7 344.6L181.1 344.6M181.1 344.6L184.8 344.6M169.9 343.5L174.3 343.7M174.3 343.7L178.9 343.9M178.9 343.9L183.2 344.1M183.2 344.1L186.9 344.2M162.2 341.4L164.9 342.1M164.9 342.1L167.9 342.7M163.8 339.7L165.9 340.4M165.9 340.4L168.3 341.1M166.7 338.6L168.7 339.3M170.4 336.4L172.5 336.9M172.5 336.9L174.7 337.5M172.0 335.2L173.4 335.9M172.0 332.5L173.5 333.2M173.5 333.2L175.0 333.9M176.8 331.3L178.2 332.1M137.2 336.2L140.5 337.6M140.5 337.6L144.0 338.9M144.0 334.7L147.0 335.9M147.0 335.9L150.1 337.0M152.6 331.0L154.9 332.1" stroke="#f8b018" stroke-width="1.5" stroke-opacity="1"/>
<path d="M184.6 346.7L187.6 347.0M184.8 344.6L187.5 344.6M186.9 344.2L189.5 344.3M167.9 342.7L171.5 343.1M171.5 343.1L175.7 343.3M175.7 343.3L180.2 343.5M180.2 343.5L184.3 343.6M168.3 341.1L170.9 341.7M170.9 341.7L174.2 342.2M174.2 342.2L178.1 342.6M178.1 342.6L182.2 342.9M168.7 339.3L170.9 340.0M170.9 340.0L173.2 340.7M174.7 337.5L177.0 338.1M177.0 338.1L179.7 338.8M173.4 335.9L174.9 336.6M175.0 333.9L176.5 334.6M178.2 332.1L179.7 332.9M144.0 338.9L147.5 340.1M147.5 340.1L151.0 341.1M150.1 337.0L153.3 338.0M154.9 332.1L157.3 333.1" stroke="#f49018" stroke-width="1.5" stroke-opacity="1"/>
<path d="M184.3 343.6L187.9 343.6M187.9 343.6L190.4 343.7M182.2 342.9L186.1 343.1M186.1 343.1L189.4 343.3M189.4 343.3L191.8 343.5M173.2 340.7L176.1 341.3M176.1 341.3L179.4 341.9M179.4 341.9L182.9 342.4M182.9 342.4L186.2 342.9M179.7 338.8L182.8 339.6M174.9 336.6L176.6 337.3M176.5 334.6L178.1 335.3M178.1 335.3L179.8 336.0M179.7 332.9L181.2 333.6M151.0 341.1L154.7 342.0M154.7 342.0L158.6 342.7M153.3 338.0L156.4 338.9M156.4 338.9L159.6 339.8M157.3 333.1L159.8 334.1M159.8 334.1L162.3 334.9" stroke="#f07018" stroke-width="1.5" stroke-opacity="1"/>
<path d="M186.2 342.9L189.1 343.4M189.1 343.4L191.1 343.7M182.8 339.6L186.0 340.4M186.0 340.4L189.0 341.2M176.6 337.3L178.5 338.0M178.5 338.0L181.0 338.6M181.0 338.6L183.9 339.2M179.8 336.0L181.7 336.7M181.7 336.7L183.9 337.6M181.2 333.6L182.7 334.4M182.7 334.4L184.2 335.1M158.6 342.7L162.9 343.1M162.9 343.1L167.3 343.5M159.6 339.8L163.0 340.6M163.0 340.6L166.7 341.2M166.7 341.2L170.5 341.8M162.3 334.9L164.9 335.8" stroke="#e85018" stroke-width="1.5" stroke-opacity="1"/>
<path d="M189.0 341.2L191.6 341.8M191.6 341.8L193.4 342.3M183.9 339.2L187.0 339.8M187.0 339.8L190.0 340.3M190.0 340.3L192.5 340.8M192.5 340.8L194.3 341.1M183.9 337.6L186.4 338.5M186.4 338.5L189.0 339.5M184.2 335.1L185.8 335.8M167.3 343.5L171.4 343.7M171.4 343.7L174.9 343.9M170.5 341.8L174.0 342.4M174.0 342.4L176.9 342.8M164.9 335.8L167.5 336.6M167.5 336.6L170.3 337.5" stroke="#e03018" stroke-width="1.5" stroke-opacity="1"/>
<path d="M189.0 339.5L191.6 340.4M191.6 340.4L193.7 341.1M185.8 335.8L187.5 336.6M187.5 336.6L189.5 337.4M189.5 337.4L191.5 338.2M191.5 338.2L193.3 338.9M193.3 338.9L194.9 339.5M194.9 339.5L196.0 340.0M174.9 343.9L177.4 344.0M176.9 342.8L179.0 343.1M170.3 337.5L173.4 338.3M173.4 338.3L176.5 339.2M176.5 339.2L179.4 339.9" stroke="#d0201c" stroke-width="1.5" stroke-opacity="1"/>
<path d="M193.7 341.1L195.2 341.7M179.4 339.9L181.9 340.6M181.9 340.6L183.6 341.0" stroke="#c01020" stroke-width="1.5" stroke-opacity="1"/>
<path d="M127.0 299.7L127.3 300.6M127.3 300.6L127.6 301.8M127.6 301.8L128.1 303.3M128.1 303.3L128.6 304.9M136.2 316.0L137.0 317.0M131.0 301.0L131.3 301.7M131.3 301.7L131.6 302.7M131.6 302.7L132.1 303.9M132.1 303.9L132.6 305.3M140.2 316.0L141.0 317.0M135.0 300.3L135.3 301.1M135.3 301.1L135.6 302.2M135.6 302.2L136.1 303.6M136.1 303.6L136.6 305.0M144.2 316.0L145.0 317.0M139.0 300.0L139.3 300.9M139.3 300.9L139.6 302.0M139.6 302.0L140.1 303.4M140.1 303.4L140.6 305.0M148.2 316.0L149.0 317.0M150.0 300.4L150.3 301.2M150.3 301.2L150.6 302.3M150.6 302.3L151.1 303.7M151.1 303.7L151.6 305.1M159.2 316.0L160.0 317.0" stroke="#163ec8" stroke-width="1.1" stroke-opacity="1"/>
<path d="M128.6 304.9L129.2 306.5M129.2 306.5L130.0 308.0M130.0 308.0L131.0 309.6M131.0 309.6L132.3 311.3M132.3 311.3L133.7 313.0M133.7 313.0L135.0 314.6M135.0 314.6L136.2 316.0M132.6 305.3L133.2 306.6M133.2 306.6L134.0 308.0M134.0 308.0L135.0 309.5M135.0 309.5L136.3 311.2M136.3 311.2L137.7 312.9M137.7 312.9L139.0 314.6M139.0 314.6L140.2 316.0M136.6 305.0L137.2 306.5M137.2 306.5L138.0 308.0M138.0 308.0L139.0 309.5M139.0 309.5L140.3 311.2M140.3 311.2L141.7 313.0M141.7 313.0L143.0 314.6M143.0 314.6L144.2 316.0M140.6 305.0L141.2 306.5M141.2 306.5L142.0 308.0M142.0 308.0L143.0 309.5M143.0 309.5L144.3 311.3M144.3 311.3L145.7 313.0M145.7 313.0L147.0 314.6M147.0 314.6L148.2 316.0M151.6 305.1L152.2 306.6M152.2 306.6L153.0 308.0M153.0 308.0L154.0 309.5M154.0 309.5L155.3 311.2M155.3 311.2L156.7 313.0M156.7 313.0L158.0 314.6M158.0 314.6L159.2 316.0" stroke="#1527bc" stroke-width="1.1" stroke-opacity="1"/>
<path d="M84.0 334.4L85.8 335.9M85.8 335.9L88.1 338.1M88.1 338.1L90.9 340.6M90.9 340.6L94.0 343.2M104.2 348.7L108.0 349.7M108.0 349.7L111.9 350.5M111.9 350.5L115.9 351.1M115.9 351.1L120.1 351.6M128.3 352.5L132.3 352.8M132.3 352.8L136.4 353.0M136.4 353.0L140.7 353.2M140.7 353.2L145.5 353.4M94.7 342.8L97.3 344.3M97.3 344.3L100.3 346.0M100.3 346.0L103.7 347.7M103.7 347.7L107.2 349.3M107.2 349.3L110.7 350.5M110.7 350.5L114.3 351.4M114.3 351.4L118.0 351.9M118.0 351.9L121.9 352.3M121.9 352.3L125.9 352.6" stroke="#1527bc" stroke-width="0.8" stroke-opacity="1"/>
<path d="M94.0 343.2L97.4 345.6M97.4 345.6L100.7 347.4M100.7 347.4L104.2 348.7M145.5 353.4L150.8 353.7M150.8 353.7L157.3 354.1M157.3 354.1L165.0 354.6M165.0 354.6L173.2 355.1M173.2 355.1L181.0 355.6M181.0 355.6L187.6 356.0M187.6 356.0L192.3 356.3M125.9 352.6L129.9 352.9M129.9 352.9L133.9 353.2M133.9 353.2L137.8 353.6M137.8 353.6L141.5 353.8M141.5 353.8L145.2 354.0M145.2 354.0L149.1 354.3M149.1 354.3L153.4 354.5M153.4 354.5L158.3 354.8M158.3 354.8L164.3 355.2M164.3 355.2L171.5 355.7M171.5 355.7L179.0 356.3M179.0 356.3L186.3 356.8M186.3 356.8L192.4 357.2M192.4 357.2L196.7 357.5" stroke="#163ec8" stroke-width="0.8" stroke-opacity="1"/>
<path d="M120.1 351.6L124.2 352.1M124.2 352.1L128.3 352.5M92.8 341.8L94.7 342.8" stroke="#1018a8" stroke-width="0.8" stroke-opacity="1"/>
<path d="M235.0 290.7L232.2 292.2M232.2 292.2L228.3 294.2M228.3 294.2L223.7 296.5M231.3 295.6L226.5 297.6M226.5 297.6L221.4 299.8M221.4 299.8L216.5 302.1M240.5 294.7L236.6 296.5M236.6 296.5L232.1 298.6M193.0 341.7L196.1 342.7M232.7 301.0L228.7 303.5M228.7 303.5L225.0 305.9M225.0 305.9L221.5 308.2M198.9 340.7L201.8 341.6M233.8 303.1L230.3 305.2M230.3 305.2L227.0 307.5M203.9 339.6L206.5 340.7M243.2 299.8L238.9 302.3M238.9 302.3L234.8 304.8M234.8 304.8L231.2 307.1M249.3 300.7L245.3 302.9M245.3 302.9L241.4 305.2M241.4 305.2L238.0 307.3M213.8 340.9L216.5 341.6M252.9 300.2L249.3 302.5M249.3 302.5L245.8 304.8M245.8 304.8L242.7 307.0M219.7 339.8L222.2 340.6M251.3 304.6L248.3 306.6M248.3 306.6L245.5 308.8M257.2 305.6L254.4 307.6M254.4 307.6L251.9 309.7M251.9 309.7L249.6 311.8M234.0 340.0L235.7 340.9M260.4 307.2L257.8 309.3M257.8 309.3L255.3 311.7M237.8 340.5L239.8 341.2M259.4 311.8L257.2 313.9M257.2 313.9L255.1 316.0M245.0 340.3L246.7 340.6M264.7 311.0L262.3 312.9M262.3 312.9L260.0 314.9M247.3 339.8L248.4 340.2M268.7 312.9L266.6 315.1M266.6 315.1L264.7 317.3M272.6 315.6L270.7 317.6M270.7 317.6L268.9 319.5" stroke="#0d573d" stroke-width="1.5" stroke-opacity="1"/>
<path d="M223.7 296.5L218.7 299.1M218.7 299.1L213.9 301.8M179.9 340.5L182.3 341.7M216.5 302.1L212.2 304.5M212.2 304.5L208.5 307.0M232.1 298.6L227.3 300.8M227.3 300.8L222.7 303.2M222.7 303.2L218.7 305.4M221.5 308.2L218.0 310.6M227.0 307.5L223.8 309.9M223.8 309.9L220.7 312.4M231.2 307.1L228.1 309.3M228.1 309.3L225.3 311.6M207.3 340.1L209.7 341.0M238.0 307.3L234.7 309.4M234.7 309.4L231.5 311.5M211.5 340.2L213.8 340.9M242.7 307.0L239.8 309.1M239.8 309.1L236.8 311.4M236.8 311.4L233.9 313.7M217.5 338.9L219.7 339.8M245.5 308.8L242.7 311.3M242.7 311.3L240.0 313.9M225.0 339.9L227.3 340.8M249.6 311.8L247.4 313.9M247.4 313.9L245.2 316.1M245.2 316.1L243.2 318.2M255.3 311.7L252.9 314.1M252.9 314.1L250.5 316.5M250.5 316.5L248.3 318.8M236.0 339.6L237.8 340.5M255.1 316.0L253.2 318.1M253.2 318.1L251.3 320.0M243.1 339.9L245.0 340.3M260.0 314.9L257.9 316.9M257.9 316.9L255.9 318.8M246.1 339.4L247.3 339.8M264.7 317.3L262.7 319.4M252.6 339.4L253.8 340.0M253.8 340.0L254.6 340.5M268.9 319.5L267.2 321.3M267.2 321.3L265.5 322.9" stroke="#085054" stroke-width="1.5" stroke-opacity="1"/>
<path d="M213.9 301.8L209.6 304.3M209.6 304.3L205.7 306.9M178.4 339.3L179.9 340.5M208.5 307.0L204.9 309.7M204.9 309.7L201.5 312.5M184.2 340.0L186.6 341.1M218.7 305.4L215.1 307.7M215.1 307.7L211.7 310.1M190.8 340.6L193.0 341.7M218.0 310.6L214.5 313.1M196.8 339.8L198.9 340.7M220.7 312.4L217.7 314.9M202.1 338.6L203.9 339.6M225.3 311.6L222.6 313.9M222.6 313.9L220.0 316.1M205.6 339.2L207.3 340.1M231.5 311.5L228.3 313.6M228.3 313.6L225.3 315.7M233.9 313.7L231.2 316.0M231.2 316.0L228.6 318.2M228.6 318.2L226.3 320.3M216.1 337.9L217.5 338.9M240.0 313.9L237.4 316.5M237.4 316.5L234.9 319.0M234.9 319.0L232.6 321.2M222.9 338.8L225.0 339.9M243.2 318.2L241.2 320.2M241.2 320.2L239.3 322.1M232.4 339.1L234.0 340.0M248.3 318.8L246.3 320.9M246.3 320.9L244.4 322.8M234.5 338.7L236.0 339.6M251.3 320.0L249.6 321.7M249.6 321.7L247.9 323.4M241.2 339.4L243.1 339.9M255.9 318.8L254.0 320.7M254.0 320.7L252.3 322.3M244.9 338.8L246.1 339.4M262.7 319.4L260.9 321.3M260.9 321.3L259.1 323.0M251.3 338.6L252.6 339.4M265.5 322.9L263.8 324.4M263.8 324.4L262.2 325.9M257.3 338.7L258.4 339.3M258.4 339.3L259.2 339.7" stroke="#08405d" stroke-width="1.5" stroke-opacity="1"/>
<path d="M205.7 306.9L201.7 309.5M201.7 309.5L197.8 312.3M177.7 338.0L178.4 339.3M201.5 312.5L198.4 315.3M181.8 337.4L182.7 338.7M182.7 338.7L184.2 340.0M211.7 310.1L208.4 312.5M208.4 312.5L205.3 314.9M189.5 339.3L190.8 340.6M214.5 313.1L211.2 315.6M211.2 315.6L208.1 318.0M194.7 337.5L195.6 338.7M195.6 338.7L196.8 339.8M217.7 314.9L214.9 317.4M214.9 317.4L212.4 319.7M200.2 335.4L200.4 336.5M200.4 336.5L201.0 337.5M201.0 337.5L202.1 338.6M220.0 316.1L217.7 318.3M204.6 338.2L205.6 339.2M225.3 315.7L222.5 317.8M222.5 317.8L220.2 319.8M220.2 319.8L218.1 321.9M209.4 338.4L210.0 339.4M210.0 339.4L211.5 340.2M226.3 320.3L224.1 322.3M224.1 322.3L222.1 324.3M214.8 336.0L215.3 337.0M215.3 337.0L216.1 337.9M232.6 321.2L230.5 323.1M230.5 323.1L228.4 324.9M221.6 337.8L222.9 338.8M239.3 322.1L237.3 324.0M237.3 324.0L235.4 325.8M235.4 325.8L233.7 327.6M231.0 338.1L232.4 339.1M244.4 322.8L242.7 324.6M242.7 324.6L241.1 326.3M233.6 337.7L234.5 338.7M247.9 323.4L246.4 325.1M239.7 338.7L241.2 339.4M252.3 322.3L250.6 324.0M250.6 324.0L249.1 325.5M243.9 338.1L244.9 338.8M259.1 323.0L257.3 324.6M257.3 324.6L255.6 326.1M248.9 336.8L250.0 337.7M250.0 337.7L251.3 338.6M262.2 325.9L260.7 327.2M256.0 337.9L257.3 338.7" stroke="#083064" stroke-width="1.5" stroke-opacity="1"/>
<path d="M197.8 312.3L194.2 315.0M194.2 315.0L190.9 317.6M177.7 335.3L177.5 336.7M177.5 336.7L177.7 338.0M198.4 315.3L195.4 318.0M195.4 318.0L192.8 320.4M192.8 320.4L190.4 322.5M181.4 334.5L181.4 336.0M181.4 336.0L181.8 337.4M205.3 314.9L202.5 317.2M188.5 336.2L188.8 337.8M188.8 337.8L189.5 339.3M208.1 318.0L205.4 320.2M205.4 320.2L203.0 322.3M194.3 334.8L194.3 336.2M194.3 336.2L194.7 337.5M212.4 319.7L210.0 321.8M210.0 321.8L207.8 323.9M207.8 323.9L205.8 325.9M205.8 325.9L204.0 327.9M204.0 327.9L202.5 329.7M202.5 329.7L201.5 331.3M201.5 331.3L200.7 332.8M200.7 332.8L200.3 334.2M200.3 334.2L200.2 335.4M217.7 318.3L215.4 320.4M215.4 320.4L213.2 322.4M213.2 322.4L211.1 324.4M203.7 335.8L203.9 337.0M203.9 337.0L204.6 338.2M218.1 321.9L216.4 324.1M216.4 324.1L215.0 326.2M215.0 326.2L213.7 328.2M213.7 328.2L212.7 330.1M212.7 330.1L211.8 331.9M211.8 331.9L211.0 333.4M211.0 333.4L210.2 334.9M210.2 334.9L209.6 336.2M209.6 336.2L209.3 337.3M209.3 337.3L209.4 338.4M222.1 324.3L220.2 326.2M220.2 326.2L218.6 328.0M215.0 333.9L214.7 335.0M214.7 335.0L214.8 336.0M228.4 324.9L226.4 326.5M226.4 326.5L224.7 328.0M220.5 335.7L220.8 336.7M220.8 336.7L221.6 337.8M233.7 327.6L232.3 329.2M232.3 329.2L231.1 330.7M231.1 330.7L230.3 332.1M230.3 332.1L229.8 333.2M230.0 337.1L231.0 338.1M241.1 326.3L239.7 327.9M239.7 327.9L238.4 329.4M234.3 334.6L233.7 335.7M233.7 335.7L233.4 336.8M233.4 336.8L233.6 337.7M246.4 325.1L245.0 326.6M245.0 326.6L243.7 328.2M238.7 336.8L238.8 337.9M238.8 337.9L239.7 338.7M249.1 325.5L247.8 327.1M247.8 327.1L246.6 328.5M246.6 328.5L245.6 329.9M245.6 329.9L244.8 331.3M244.8 331.3L244.1 332.7M244.1 332.7L243.6 334.0M243.6 334.0L243.3 335.2M243.3 335.2L243.2 336.3M243.2 336.3L243.4 337.3M243.4 337.3L243.9 338.1M255.6 326.1L254.0 327.4M254.0 327.4L252.6 328.7M248.4 334.2L248.2 335.1M248.2 335.1L248.3 335.9M248.3 335.9L248.9 336.8M260.7 327.2L259.3 328.5M259.3 328.5L258.1 329.7M253.8 336.3L254.7 337.1M254.7 337.1L256.0 337.9" stroke="#0b1f64" stroke-width="1.5" stroke-opacity="1"/>
<path d="M190.9 317.6L188.0 320.0M188.0 320.0L185.7 322.2M185.7 322.2L183.7 324.4M183.7 324.4L182.0 326.5M182.0 326.5L180.6 328.5M178.8 332.1L178.1 333.7M178.1 333.7L177.7 335.3M190.4 322.5L188.2 324.5M188.2 324.5L186.3 326.3M186.3 326.3L184.6 328.0M184.6 328.0L183.3 329.7M183.3 329.7L182.4 331.3M182.4 331.3L181.8 333.0M181.8 333.0L181.4 334.5M202.5 317.2L200.0 319.4M200.0 319.4L197.6 321.5M197.6 321.5L195.5 323.5M195.5 323.5L193.6 325.4M193.6 325.4L192.0 327.3M189.1 332.6L188.7 334.4M188.7 334.4L188.5 336.2M203.0 322.3L200.9 324.3M200.9 324.3L199.0 326.3M199.0 326.3L197.3 328.2M197.3 328.2L196.0 330.0M196.0 330.0L195.1 331.7M195.1 331.7L194.6 333.2M194.6 333.2L194.3 334.8M211.1 324.4L209.1 326.4M209.1 326.4L207.3 328.2M207.3 328.2L205.9 330.0M204.1 333.1L203.7 334.5M203.7 334.5L203.7 335.8M218.6 328.0L217.3 329.7M217.3 329.7L216.2 331.3M216.2 331.3L215.5 332.7M215.5 332.7L215.0 333.9M224.7 328.0L223.2 329.4M223.2 329.4L222.1 330.8M222.1 330.8L221.3 332.1M221.3 332.1L220.7 333.4M220.7 333.4L220.4 334.6M220.4 334.6L220.5 335.7M229.8 333.2L229.5 334.3M229.5 334.3L229.4 335.3M229.4 335.3L229.6 336.2M229.6 336.2L230.0 337.1M238.4 329.4L237.3 330.8M237.3 330.8L236.2 332.2M236.2 332.2L235.2 333.4M235.2 333.4L234.3 334.6M243.7 328.2L242.6 329.7M242.6 329.7L241.5 331.2M241.5 331.2L240.5 332.7M240.5 332.7L239.6 334.2M239.6 334.2L239.0 335.6M239.0 335.6L238.7 336.8M252.6 328.7L251.4 329.9M251.4 329.9L250.4 331.1M250.4 331.1L249.6 332.2M249.6 332.2L248.9 333.2M248.9 333.2L248.4 334.2M258.1 329.7L256.9 330.8M256.9 330.8L255.8 331.9M255.8 331.9L254.8 332.9M254.8 332.9L254.0 333.8M254.0 333.8L253.5 334.6M253.5 334.6L253.4 335.5M253.4 335.5L253.8 336.3" stroke="#0a135e" stroke-width="1.5" stroke-opacity="1"/>
<path d="M180.6 328.5L179.6 330.3M179.6 330.3L178.8 332.1M192.0 327.3L190.7 329.1M190.7 329.1L189.8 330.9M189.8 330.9L189.1 332.6M205.9 330.0L204.8 331.6M204.8 331.6L204.1 333.1" stroke="#080c54" stroke-width="1.5" stroke-opacity="1"/>
<path d="M182.3 341.7L185.9 342.9M238.3 292.7L235.4 293.9M235.4 293.9L231.3 295.6M186.6 341.1L190.0 342.3M243.2 293.5L240.5 294.7M243.8 294.4L240.6 296.3M240.6 296.3L236.8 298.6M236.8 298.6L232.7 301.0M245.5 296.9L241.8 298.8M241.8 298.8L237.7 300.9M237.7 300.9L233.8 303.1M206.5 340.7L209.4 341.7M253.3 294.2L250.8 295.6M250.8 295.6L247.3 297.5M247.3 297.5L243.2 299.8M209.7 341.0L212.5 341.8M258.4 295.6L256.1 296.9M256.1 296.9L253.0 298.6M253.0 298.6L249.3 300.7M216.5 341.6L219.2 342.1M259.0 296.3L256.2 298.1M256.2 298.1L252.9 300.2M222.2 340.6L224.7 341.4M258.2 300.9L254.7 302.7M254.7 302.7L251.3 304.6M227.3 340.8L229.7 341.7M266.9 299.5L263.7 301.4M263.7 301.4L260.4 303.5M260.4 303.5L257.2 305.6M235.7 340.9L237.2 341.6M274.8 298.3L272.3 299.7M272.3 299.7L269.4 301.4M269.4 301.4L266.2 303.3M266.2 303.3L263.1 305.2M263.1 305.2L260.4 307.2M239.8 341.2L241.4 341.9M266.8 306.1L264.1 307.9M264.1 307.9L261.7 309.8M261.7 309.8L259.4 311.8M246.7 340.6L247.8 340.9M275.9 303.5L272.8 305.3M272.8 305.3L269.7 307.3M269.7 307.3L267.1 309.1M267.1 309.1L264.7 311.0M248.4 340.2L249.1 340.5M272.9 308.8L270.8 310.7M270.8 310.7L268.7 312.9M278.4 309.7L276.5 311.5M276.5 311.5L274.5 313.5M274.5 313.5L272.6 315.6" stroke="#1a5f29" stroke-width="1.5" stroke-opacity="1"/>
<path d="M185.9 342.9L190.0 343.9M190.0 342.3L193.9 343.4M205.0 342.3L208.3 342.9M209.4 341.7L212.4 342.5M212.5 341.8L215.3 342.4M219.2 342.1L221.5 342.5M224.7 341.4L226.9 342.1M266.2 296.9L264.2 297.9M286.4 299.7L284.9 300.6M284.9 300.6L282.9 301.9M282.9 301.9L280.4 303.5M290.9 300.3L289.5 301.3M289.5 301.3L287.6 302.6" stroke="#556d0d" stroke-width="1.5" stroke-opacity="1"/>
<path d="M190.0 343.9L194.1 344.9M193.9 343.4L197.8 344.3M208.3 342.9L211.1 343.4" stroke="#7a640a" stroke-width="1.5" stroke-opacity="1"/>
<path d="M194.1 344.9L197.6 345.7M197.8 344.3L201.1 345.1M211.1 343.4L213.0 343.8" stroke="#7a480c" stroke-width="1.5" stroke-opacity="1"/>
<path d="M197.6 345.7L200.0 346.3M201.1 345.1L203.4 345.7" stroke="#74280c" stroke-width="1.5" stroke-opacity="1"/>
<path d="M196.1 342.7L199.8 343.5M246.2 293.0L243.8 294.4M201.8 341.6L205.0 342.3M251.0 294.1L248.7 295.3M248.7 295.3L245.5 296.9M261.0 295.1L259.0 296.3M264.2 297.9L261.5 299.3M261.5 299.3L258.2 300.9M229.7 341.7L231.8 342.5M271.4 296.7L269.5 297.9M269.5 297.9L266.9 299.5M237.2 341.6L238.1 342.1M276.6 297.2L274.8 298.3M241.4 341.9L242.5 342.3M280.6 298.6L278.7 299.6M278.7 299.6L276.2 300.9M276.2 300.9L273.1 302.5M273.1 302.5L269.9 304.3M269.9 304.3L266.8 306.1M283.1 299.3L281.3 300.3M281.3 300.3L278.8 301.7M278.8 301.7L275.9 303.5M280.4 303.5L277.8 305.2M277.8 305.2L275.2 307.0M275.2 307.0L272.9 308.8M287.6 302.6L285.4 304.3M285.4 304.3L283.0 306.0M283.0 306.0L280.6 307.9M280.6 307.9L278.4 309.7" stroke="#356817" stroke-width="1.5" stroke-opacity="1"/>
<path d="M199.8 343.5L203.4 344.2M212.4 342.5L214.9 343.3M215.3 342.4L217.7 343.0M221.5 342.5L223.1 342.8M226.9 342.1L228.4 342.5M231.8 342.5L233.2 343.0" stroke="#787008" stroke-width="1.5" stroke-opacity="1"/>
<path d="M203.4 344.2L206.5 344.8M214.9 343.3L216.7 343.8M217.7 343.0L219.3 343.4" stroke="#7c580c" stroke-width="1.5" stroke-opacity="1"/>
<path d="M206.5 344.8L208.6 345.2" stroke="#78380c" stroke-width="1.5" stroke-opacity="1"/>
<path d="M149.9 342.4L152.6 342.7M152.8 345.1L155.5 345.3M153.8 347.2L156.4 347.3" stroke="#7c580c" stroke-width="1.3" stroke-opacity="1"/>
<path d="M152.6 342.7L156.2 343.1M150.9 343.5L153.6 343.6M151.8 344.6L154.5 344.9M155.5 345.3L159.2 345.5M153.3 346.7L156.0 346.9M156.4 347.3L160.1 347.6M154.9 348.0L157.4 348.3" stroke="#7a480c" stroke-width="1.3" stroke-opacity="1"/>
<path d="M156.2 343.1L160.6 343.7M153.6 343.6L157.2 343.9M157.2 343.9L161.6 344.1M154.5 344.9L158.3 345.2M158.3 345.2L162.8 345.6M159.2 345.5L163.6 345.8M156.0 346.9L159.7 347.1M160.1 347.6L164.4 347.8M157.4 348.3L160.9 348.8" stroke="#78380c" stroke-width="1.3" stroke-opacity="1"/>
<path d="M160.6 343.7L165.3 344.2M161.6 344.1L166.3 344.4M162.8 345.6L167.6 346.1M163.6 345.8L168.3 346.2M159.7 347.1L164.2 347.4M164.2 347.4L169.1 347.7M164.4 347.8L169.2 348.1M160.9 348.8L165.1 349.4" stroke="#74280c" stroke-width="1.3" stroke-opacity="1"/>
<path d="M165.3 344.2L170.1 344.6M166.3 344.4L171.0 344.7M171.0 344.7L175.5 344.9M167.6 346.1L172.5 346.4M168.3 346.2L173.2 346.5M169.1 347.7L174.0 347.9M169.2 348.1L174.0 348.3M165.1 349.4L169.6 349.9M169.6 349.9L174.4 350.4" stroke="#70180c" stroke-width="1.3" stroke-opacity="1"/>
<path d="M170.1 344.6L174.5 344.9M175.5 344.9L179.7 345.2M172.5 346.4L177.1 346.7M177.1 346.7L181.4 346.9M173.2 346.5L177.7 346.8M177.7 346.8L182.1 347.0M174.0 347.9L178.7 348.1M174.0 348.3L178.7 348.5M174.4 350.4L179.0 350.6" stroke="#68100e" stroke-width="1.3" stroke-opacity="1"/>
<path d="M174.5 344.9L178.7 345.1M178.7 345.1L182.7 345.1M182.7 345.1L186.7 345.2M232.5 343.3L236.6 343.1M179.7 345.2L183.8 345.4M183.8 345.4L188.1 345.7M227.0 344.6L232.4 344.2M232.4 344.2L236.2 343.9M181.4 346.9L185.6 347.1M185.6 347.1L189.9 347.3M222.6 345.8L228.8 345.2M228.8 345.2L234.2 344.7M234.2 344.7L238.0 344.3M182.1 347.0L186.5 347.3M178.7 348.1L183.2 348.2M183.2 348.2L187.7 348.2M234.7 345.4L238.1 345.1M178.7 348.5L183.2 348.6M183.2 348.6L188.0 348.8M179.0 350.6L183.7 350.6M236.5 347.1L239.8 346.9" stroke="#600810" stroke-width="1.3" stroke-opacity="1"/>
<path d="M186.7 345.2L191.0 345.1M191.0 345.1L195.5 345.0M195.5 345.0L200.4 344.9M200.4 344.9L206.2 344.7M206.2 344.7L213.0 344.4M213.0 344.4L220.1 344.0M220.1 344.0L226.8 343.6M226.8 343.6L232.5 343.3M188.1 345.7L192.4 345.9M214.0 345.5L220.7 345.0M220.7 345.0L227.0 344.6M189.9 347.3L194.3 347.3M194.3 347.3L198.9 347.3M198.9 347.3L203.8 347.2M203.8 347.2L209.5 346.9M209.5 346.9L215.9 346.4M215.9 346.4L222.6 345.8M186.5 347.3L190.9 347.5M190.9 347.5L195.4 347.7M223.4 346.2L229.5 345.5M229.5 345.5L234.6 345.0M234.6 345.0L238.3 344.6M187.7 348.2L192.4 348.3M192.4 348.3L197.1 348.2M197.1 348.2L201.9 348.1M218.2 347.1L224.2 346.5M224.2 346.5L229.9 345.9M229.9 345.9L234.7 345.4M188.0 348.8L192.8 349.0M192.8 349.0L197.7 349.1M197.7 349.1L202.7 349.1M219.2 348.2L225.3 347.6M225.3 347.6L231.0 347.0M231.0 347.0L235.8 346.5M235.8 346.5L239.2 346.1M183.7 350.6L188.6 350.4M188.6 350.4L193.6 350.1M193.6 350.1L198.7 349.7M226.3 347.8L231.8 347.4M231.8 347.4L236.5 347.1" stroke="#50060e" stroke-width="1.3" stroke-opacity="1"/>
<path d="M192.4 345.9L197.0 346.0M197.0 346.0L201.9 346.0M201.9 346.0L207.5 345.8M207.5 345.8L214.0 345.5M195.4 347.7L200.1 347.8M200.1 347.8L205.1 347.7M205.1 347.7L210.7 347.4M210.7 347.4L216.9 346.9M216.9 346.9L223.4 346.2M201.9 348.1L206.8 347.9M206.8 347.9L212.2 347.6M212.2 347.6L218.2 347.1M202.7 349.1L207.7 349.0M207.7 349.0L213.2 348.7M213.2 348.7L219.2 348.2M198.7 349.7L203.9 349.3M203.9 349.3L209.0 349.0M209.0 349.0L214.5 348.6M214.5 348.6L220.4 348.2M220.4 348.2L226.3 347.8" stroke="#40040c" stroke-width="1.3" stroke-opacity="1"/>
<path d="M130.4 353.1L133.6 353.5" stroke="#1018a8" stroke-width="0.9" stroke-opacity="1"/>
<path d="M133.6 353.5L138.0 354.0M138.0 354.0L143.2 354.7M143.2 354.7L149.0 355.3M149.0 355.3L155.0 355.9M155.0 355.9L161.0 356.3M161.0 356.3L167.2 356.5M167.2 356.5L174.1 356.7M174.1 356.7L181.2 356.8M181.2 356.8L188.1 356.8M188.1 356.8L194.7 356.8M194.7 356.8L200.4 356.6M200.4 356.6L205.4 356.2M205.4 356.2L210.0 355.7M210.0 355.7L214.1 355.0M214.1 355.0L217.7 354.4M217.7 354.4L220.7 353.8M220.7 353.8L222.9 353.4M133.4 354.0L136.6 354.4M136.6 354.4L141.0 354.9M141.0 354.9L146.2 355.6M146.2 355.6L152.0 356.3M177.4 357.7L184.7 357.7M184.7 357.7L191.8 357.7M191.8 357.7L198.4 357.6M198.4 357.6L204.0 357.4M204.0 357.4L208.8 357.0M208.8 357.0L213.1 356.5M213.1 356.5L216.9 355.9M216.9 355.9L220.1 355.3M220.1 355.3L222.8 354.8M222.8 354.8L224.8 354.4" stroke="#1527bc" stroke-width="0.9" stroke-opacity="1"/>
<path d="M152.0 356.3L158.0 356.9M158.0 356.9L164.0 357.3M164.0 357.3L170.4 357.5M170.4 357.5L177.4 357.7" stroke="#163ec8" stroke-width="0.9" stroke-opacity="1"/>
</g>
<g stroke="#000" stroke-width="2.2" fill="#000" stroke-linejoin="miter">
<path d="M56.6 357.8V326.5" />
<path d="M56.6 321.5l-3.2 7h6.4z" stroke="none"/>
<path d="M55.6 356.8L90.5084 355.142"/>
<path d="M97.5 354.8L90.6646 358.338L90.3521 351.946z" stroke="none"/>
<path d="M55.6 356.8L78.5797 360.146"/>
<path d="M85.5 361.2L78.0981 363.31L79.0614 356.983z" stroke="none"/>
</g>
<g filter="url(#soft2)">
<text x="42.8" y="334.3" font-family='"Liberation Serif","DejaVu Serif",serif' font-size="16" font-weight="normal" font-style="normal" fill="#111" text-anchor="start" >Z</text>
<text x="77.3" y="349.2" font-family='"Liberation Serif","DejaVu Serif",serif' font-size="16" font-weight="normal" font-style="normal" fill="#111" text-anchor="start" >X</text>
<text x="83.8" y="379.5" font-family='"Liberation Serif","DejaVu Serif",serif' font-size="16" font-weight="normal" font-style="normal" fill="#111" text-anchor="start" >Y</text>
</g>
<g stroke="#7c7c7c" stroke-width="0.9" fill="none">
<path d="M44 419.5L201.6 413L295 427.4V498L200.7 509L41.7 489V422.7L44 419.5M41.7 422.7L200.5 430.5L295 427.4M201 413V509M145 428V452"/>
</g>
<path d="M43 433 C80 434 120 436 143 438 C152 444 158 450 162 456.7 C166 461 169 464 172 466 L200 478 L190 489 C170 491 150 492 134 491 C120 491.5 105 490 96 487 C88 483 82 479 77 475.6 C68 468 62 462 58 456.7 C52 449 47 441 43 433Z" fill="#b4b2ae"/>
<path d="M203 432.5 L294 438.7 C286 444 279 449 273 453 C266 458 260 462 254 466 C247 470 241 473 235.6 475.6 C229 478 222 480 216.7 481 C204 484 190 486 179 487 L156 489 C158 484 161 479 163.8 475.6 C167 471 171 466 175 462 C180 456 184 451 188 447 C193 442 198 437 203 432.5Z" fill="url(#gdark)"/>
<g fill="none" stroke-linecap="round" filter="url(#soft)">
<path d="M77.3 423.7L75.4 425.2M75.4 425.2L72.6 427.2M88.2 479.1L92.1 480.6M92.1 480.6L96.3 481.9M78.8 422.8L77.1 424.4M77.1 424.4L74.6 426.6M87.0 475.9L90.9 477.4M90.9 477.4L95.0 478.9M83.8 424.6L82.1 425.9M82.1 425.9L79.6 427.7M99.1 477.6L102.8 479.0M102.8 479.0L106.8 480.2M88.3 423.6L86.8 425.2M102.6 475.2L106.2 476.4M106.2 476.4L110.1 477.5M92.1 425.2L90.7 426.4M107.0 472.3L110.4 473.5M110.4 473.5L114.1 474.6M114.1 474.6L118.1 475.6M98.1 424.8L96.6 426.2M113.1 469.8L116.2 471.0M116.2 471.0L119.4 472.0M119.4 472.0L122.8 472.9M122.8 472.9L126.3 473.6M120.0 469.1L122.9 470.0M122.9 470.0L126.0 470.8M128.5 468.6L131.8 469.4M131.8 469.4L135.2 470.1M123.6 464.6L126.1 465.5M126.1 465.5L128.7 466.1M128.7 466.1L131.5 466.5M112.7 427.0L111.8 428.1M129.1 462.4L131.5 463.2M131.5 463.2L133.9 464.1M133.9 464.1L136.5 464.9M136.5 464.9L139.0 465.6M138.1 461.5L140.1 461.8M140.1 461.8L142.2 462.0M121.6 427.2L121.2 428.3M141.4 459.8L143.1 460.2M143.1 460.2L144.8 460.5M147.0 456.8L148.4 456.8M148.4 456.8L149.7 456.9M149.7 456.9L151.0 457.0M150.4 455.7L151.7 456.0M151.7 456.0L153.0 456.3M153.0 456.3L154.1 456.5M153.7 451.7L154.4 452.2M154.4 452.2L155.0 452.7M156.5 449.7L156.8 450.3M156.8 450.3L157.1 450.8" stroke="#10a0a8" stroke-width="1.55" stroke-opacity="1"/>
<path d="M72.6 427.2L69.4 429.7M69.4 429.7L66.2 432.3M81.0 475.7L84.5 477.5M84.5 477.5L88.2 479.1M74.6 426.6L71.7 429.3M79.9 472.1L83.3 474.1M83.3 474.1L87.0 475.9M79.6 427.7L76.7 429.9M92.1 474.2L95.5 476.0M95.5 476.0L99.1 477.6M86.8 425.2L84.6 427.5M84.6 427.5L82.0 430.1M93.3 470.6L96.2 472.3M96.2 472.3L99.3 473.8M99.3 473.8L102.6 475.2M90.7 426.4L88.5 428.1M88.5 428.1L86.1 430.2M100.5 469.7L103.7 471.0M103.7 471.0L107.0 472.3M96.6 426.2L94.6 428.1M94.6 428.1L92.2 430.4M92.2 430.4L89.8 432.8M107.1 467.1L110.0 468.5M110.0 468.5L113.1 469.8M101.7 426.6L100.7 427.8M100.7 427.8L99.3 429.5M114.3 466.9L117.1 468.1M117.1 468.1L120.0 469.1M104.6 426.8L103.7 427.8M103.7 427.8L102.4 429.2M122.2 466.9L125.2 467.8M125.2 467.8L128.5 468.6M109.8 426.2L108.8 427.2M118.9 462.4L121.2 463.6M121.2 463.6L123.6 464.6M111.8 428.1L110.5 429.7M110.5 429.7L109.0 431.5M122.5 460.1L124.7 460.9M124.7 460.9L126.9 461.6M126.9 461.6L129.1 462.4M117.5 426.9L116.8 428.1M130.5 458.7L132.3 459.7M132.3 459.7L134.1 460.5M134.1 460.5L136.1 461.1M136.1 461.1L138.1 461.5M121.2 428.3L120.5 429.9M120.5 429.9L119.8 431.7M138.0 458.7L139.7 459.3M139.7 459.3L141.4 459.8M144.3 456.6L145.7 456.8M145.7 456.8L147.0 456.8M129.2 429.3L129.0 430.0M147.7 454.8L149.0 455.3M149.0 455.3L150.4 455.7M134.4 428.6L134.4 429.4M134.4 429.4L134.3 430.5M152.3 450.8L153.1 451.2M153.1 451.2L153.7 451.7M139.8 430.6L139.8 431.2M139.8 431.2L139.7 432.0M156.2 449.1L156.5 449.7" stroke="#1081ba" stroke-width="1.55" stroke-opacity="1"/>
<path d="M66.2 432.3L63.4 434.9M71.8 468.4L74.7 471.2M74.7 471.2L77.8 473.6M77.8 473.6L81.0 475.7M71.7 429.3L68.8 432.2M68.8 432.2L66.2 435.0M73.9 467.2L76.7 469.9M76.7 469.9L79.9 472.1M76.7 429.9L73.8 432.3M73.8 432.3L71.3 434.7M83.0 467.9L85.9 470.1M85.9 470.1L88.9 472.3M88.9 472.3L92.1 474.2M82.0 430.1L79.4 433.0M85.3 464.2L87.9 466.6M87.9 466.6L90.5 468.7M90.5 468.7L93.3 470.6M86.1 430.2L83.7 432.4M83.7 432.4L81.6 434.7M94.8 466.5L97.6 468.1M97.6 468.1L100.5 469.7M89.8 432.8L87.8 435.2M87.8 435.2L86.6 437.3M86.6 437.3L86.1 439.2M86.1 439.2L86.1 441.0M97.0 459.9L99.2 462.0M99.2 462.0L101.6 463.8M101.6 463.8L104.2 465.5M104.2 465.5L107.1 467.1M99.3 429.5L97.7 431.4M97.7 431.4L96.0 433.5M109.0 464.3L111.6 465.7M111.6 465.7L114.3 466.9M102.4 429.2L100.9 430.8M100.9 430.8L99.4 432.6M99.4 432.6L98.1 434.5M98.1 434.5L97.3 436.3M97.3 436.3L96.9 438.0M105.1 457.9L107.0 459.7M107.0 459.7L109.1 461.2M109.1 461.2L111.4 462.5M111.4 462.5L113.9 463.8M113.9 463.8L116.6 464.9M116.6 464.9L119.3 465.9M119.3 465.9L122.2 466.9M108.8 427.2L107.4 428.7M107.4 428.7L105.7 430.5M105.7 430.5L104.0 432.4M112.7 458.2L114.6 459.7M114.6 459.7L116.7 461.1M116.7 461.1L118.9 462.4M109.0 431.5L107.5 433.4M107.5 433.4L106.4 435.3M106.4 435.3L105.7 436.9M118.5 458.2L120.5 459.3M120.5 459.3L122.5 460.1M116.8 428.1L115.8 429.8M115.8 429.8L114.6 431.7M114.6 431.7L113.4 433.8M122.2 452.6L123.9 454.0M123.9 454.0L125.5 455.3M125.5 455.3L127.1 456.5M127.1 456.5L128.8 457.7M128.8 457.7L130.5 458.7M119.8 431.7L119.0 433.6M119.0 433.6L118.4 435.4M126.3 451.8L127.8 453.1M127.8 453.1L129.3 454.3M129.3 454.3L131.0 455.3M131.0 455.3L132.7 456.3M132.7 456.3L134.5 457.2M134.5 457.2L136.3 458.0M136.3 458.0L138.0 458.7M126.4 429.2L126.2 429.9M126.2 429.9L125.8 430.9M125.8 430.9L125.4 432.1M140.4 454.7L141.7 455.5M141.7 455.5L143.0 456.1M143.0 456.1L144.3 456.6M129.0 430.0L128.8 430.9M128.8 430.9L128.5 432.0M140.5 450.4L142.0 451.5M142.0 451.5L143.4 452.5M143.4 452.5L144.9 453.4M144.9 453.4L146.3 454.2M146.3 454.2L147.7 454.8M134.3 430.5L134.3 431.8M134.3 431.8L134.3 433.2M149.2 449.7L150.4 450.0M150.4 450.0L151.4 450.3M151.4 450.3L152.3 450.8M139.7 432.0L139.7 432.9M139.7 432.9L139.6 433.9M155.1 448.0L155.8 448.5M155.8 448.5L156.2 449.1" stroke="#1161c8" stroke-width="1.55" stroke-opacity="1"/>
<path d="M63.4 434.9L61.5 437.3M61.5 437.3L60.3 439.6M60.3 439.6L59.5 441.8M59.5 441.8L59.2 444.1M63.9 458.0L66.3 461.6M66.3 461.6L68.9 465.1M68.9 465.1L71.8 468.4M66.2 435.0L64.5 437.6M64.5 437.6L63.4 439.9M63.4 439.9L62.8 442.2M62.8 442.2L62.5 444.5M66.8 457.8L68.8 461.0M68.8 461.0L71.2 464.2M71.2 464.2L73.9 467.2M71.3 434.7L69.6 437.0M69.6 437.0L68.6 439.3M72.6 457.0L74.9 459.9M74.9 459.9L77.5 462.8M77.5 462.8L80.2 465.5M80.2 465.5L83.0 467.9M79.4 433.0L77.2 435.7M77.2 435.7L75.6 438.2M76.5 452.8L78.3 455.6M78.3 455.6L80.4 458.6M80.4 458.6L82.8 461.5M82.8 461.5L85.3 464.2M81.6 434.7L80.3 436.8M80.3 436.8L79.7 438.9M79.7 438.9L79.5 440.9M79.5 440.9L79.7 443.0M79.7 443.0L80.2 445.2M80.2 445.2L80.9 447.4M80.9 447.4L81.9 449.7M81.9 449.7L83.0 452.1M83.0 452.1L84.4 454.7M84.4 454.7L86.0 457.4M86.0 457.4L87.9 460.0M87.9 460.0L90.0 462.4M90.0 462.4L92.3 464.6M92.3 464.6L94.8 466.5M86.1 441.0L86.5 442.8M86.5 442.8L87.1 444.5M87.1 444.5L88.0 446.4M88.0 446.4L89.0 448.3M89.0 448.3L90.2 450.5M90.2 450.5L91.6 452.9M91.6 452.9L93.2 455.3M93.2 455.3L95.0 457.7M95.0 457.7L97.0 459.9M96.0 433.5L94.6 435.5M94.6 435.5L93.7 437.4M93.7 437.4L93.2 439.0M100.2 456.6L102.2 458.9M102.2 458.9L104.3 460.9M104.3 460.9L106.6 462.7M106.6 462.7L109.0 464.3M96.9 438.0L96.8 439.9M96.8 439.9L96.9 441.8M96.9 441.8L97.3 443.7M97.3 443.7L97.8 445.6M97.8 445.6L98.5 447.6M98.5 447.6L99.4 449.6M99.4 449.6L100.5 451.7M100.5 451.7L101.8 453.9M101.8 453.9L103.4 456.0M103.4 456.0L105.1 457.9M104.0 432.4L102.7 434.3M102.7 434.3L101.8 436.2M104.9 449.4L106.2 451.2M106.2 451.2L107.6 453.1M107.6 453.1L109.2 454.9M109.2 454.9L110.9 456.6M110.9 456.6L112.7 458.2M105.7 436.9L105.7 438.4M105.7 438.4L106.0 439.8M106.0 439.8L106.5 441.1M106.5 441.1L107.3 442.4M107.3 442.4L108.2 443.9M108.2 443.9L109.2 445.4M109.2 445.4L110.1 447.3M110.1 447.3L111.2 449.3M111.2 449.3L112.4 451.4M112.4 451.4L113.7 453.5M113.7 453.5L115.2 455.4M115.2 455.4L116.8 457.0M116.8 457.0L118.5 458.2M113.4 433.8L112.4 435.8M112.4 435.8L111.9 437.5M111.9 437.5L111.8 438.9M111.8 438.9L111.9 440.2M111.9 440.2L112.3 441.5M112.3 441.5L112.9 442.6M112.9 442.6L113.7 443.9M113.7 443.9L114.6 445.2M114.6 445.2L115.8 446.6M115.8 446.6L117.2 448.1M117.2 448.1L118.8 449.7M118.8 449.7L120.5 451.2M120.5 451.2L122.2 452.6M118.4 435.4L118.1 437.0M118.1 437.0L118.0 438.4M118.0 438.4L118.1 439.6M118.1 439.6L118.3 440.8M118.3 440.8L118.7 441.9M120.9 445.8L122.1 447.3M122.1 447.3L123.4 448.9M123.4 448.9L124.8 450.4M124.8 450.4L126.3 451.8M125.4 432.1L125.1 433.5M125.1 433.5L124.8 434.8M124.8 434.8L124.8 436.1M132.6 448.6L134.0 449.6M134.0 449.6L135.4 450.6M135.4 450.6L136.7 451.6M136.7 451.6L137.9 452.7M137.9 452.7L139.2 453.7M139.2 453.7L140.4 454.7M128.5 432.0L128.2 433.2M128.2 433.2L128.1 434.4M128.1 434.4L128.2 435.6M128.5 436.9L129.0 438.2M129.0 438.2L129.6 439.6M129.6 439.6L130.4 441.0M130.4 441.0L131.1 442.3M131.1 442.3L131.9 443.5M131.9 443.5L132.8 444.4M132.8 444.4L133.7 445.3M133.7 445.3L134.6 446.1M134.6 446.1L135.6 446.8M135.6 446.8L136.7 447.6M136.7 447.6L137.9 448.4M137.9 448.4L139.1 449.4M139.1 449.4L140.5 450.4M134.3 433.2L134.4 434.6M134.4 434.6L134.7 435.9M134.7 435.9L135.1 437.0M135.1 437.0L135.7 438.0M135.7 438.0L136.5 439.1M136.5 439.1L137.2 440.1M137.2 440.1L138.1 441.1M138.1 441.1L138.9 442.1M138.9 442.1L139.7 443.2M139.7 443.2L140.5 444.3M140.5 444.3L141.4 445.4M141.4 445.4L142.3 446.4M142.3 446.4L143.2 447.3M143.2 447.3L144.2 448.1M144.2 448.1L145.3 448.7M145.3 448.7L146.6 449.1M146.6 449.1L147.9 449.4M147.9 449.4L149.2 449.7M139.6 433.9L139.7 435.0M139.7 435.0L139.9 435.9M139.9 435.9L140.2 436.8M144.7 442.5L145.6 443.2M145.6 443.2L146.6 443.8M146.6 443.8L147.6 444.4M147.6 444.4L148.6 444.9M148.6 444.9L149.7 445.5M149.7 445.5L150.8 446.0M150.8 446.0L152.0 446.5M152.0 446.5L153.2 447.0M153.2 447.0L154.3 447.5M154.3 447.5L155.1 448.0" stroke="#163ec8" stroke-width="1.55" stroke-opacity="1"/>
<path d="M59.2 444.1L59.2 446.4M59.2 446.4L59.7 448.9M59.7 448.9L60.6 451.6M60.6 451.6L62.0 454.6M62.0 454.6L63.9 458.0M62.5 444.5L62.5 446.8M62.5 446.8L63.0 449.2M63.0 449.2L63.8 451.8M63.8 451.8L65.1 454.6M65.1 454.6L66.8 457.8M68.6 439.3L67.9 441.6M67.9 441.6L67.7 444.0M67.7 444.0L67.8 446.5M67.8 446.5L68.4 449.0M68.4 449.0L69.3 451.5M69.3 451.5L70.7 454.2M70.7 454.2L72.6 457.0M75.6 438.2L74.7 440.3M74.7 440.3L74.1 442.2M74.1 442.2L73.9 444.1M73.9 444.1L74.0 446.0M74.0 446.0L74.4 448.0M74.4 448.0L75.3 450.2M75.3 450.2L76.5 452.8M93.2 439.0L92.9 440.6M92.9 440.6L92.8 442.1M92.8 442.1L93.0 443.7M93.0 443.7L93.5 445.4M93.5 445.4L94.2 447.2M94.2 447.2L95.3 449.3M95.3 449.3L96.7 451.7M96.7 451.7L98.3 454.2M98.3 454.2L100.2 456.6M101.8 436.2L101.5 438.0M101.5 438.0L101.5 439.9M101.5 439.9L101.8 441.8M101.8 441.8L102.3 443.7M102.3 443.7L103.0 445.6M103.0 445.6L103.9 447.5M103.9 447.5L104.9 449.4M118.7 441.9L119.3 443.1M119.3 443.1L120.0 444.4M120.0 444.4L120.9 445.8M124.8 436.1L124.9 437.4M124.9 437.4L125.1 438.8M125.1 438.8L125.5 440.3M125.5 440.3L126.0 441.7M126.0 441.7L126.6 443.1M126.6 443.1L127.4 444.3M127.4 444.3L128.4 445.5M128.4 445.5L129.7 446.6M129.7 446.6L131.1 447.6M131.1 447.6L132.6 448.6M128.2 435.6L128.5 436.9M140.2 436.8L140.6 437.7M140.6 437.7L141.2 438.6M141.2 438.6L141.7 439.5M141.7 439.5L142.4 440.3M142.4 440.3L143.1 441.1M143.1 441.1L143.9 441.9M143.9 441.9L144.7 442.5" stroke="#1527bc" stroke-width="1.55" stroke-opacity="1"/>
<path d="M96.3 481.9L101.0 483.0M101.0 483.0L106.1 483.9M106.1 483.9L111.4 484.7M111.4 484.7L116.9 485.3M95.0 478.9L99.2 480.2M99.2 480.2L103.5 481.5M103.5 481.5L108.2 482.6M108.2 482.6L112.9 483.6M106.8 480.2L111.1 481.2M111.1 481.2L115.5 482.1M115.5 482.1L120.1 482.7M120.1 482.7L124.5 483.2M110.1 477.5L114.5 478.4M114.5 478.4L119.1 479.2M118.1 475.6L122.2 476.6M122.2 476.6L126.4 477.3M126.4 477.3L130.4 477.9M126.3 473.6L129.8 474.2M129.8 474.2L133.2 474.7M133.2 474.7L136.4 474.9M126.0 470.8L129.2 471.4M129.2 471.4L132.4 471.9M132.4 471.9L135.5 472.3M135.2 470.1L138.4 470.6M138.4 470.6L141.2 470.9M141.2 470.9L143.9 471.1M131.5 466.5L134.4 466.8M134.4 466.8L137.3 467.0M139.0 465.6L141.5 466.2M141.5 466.2L143.8 466.6M143.8 466.6L146.1 466.6M142.2 462.0L144.2 462.2M144.2 462.2L146.2 462.4M146.2 462.4L148.2 462.6M144.8 460.5L146.5 460.7M146.5 460.7L148.2 461.0M151.0 457.0L152.4 457.2M154.1 456.5L155.2 456.6M155.0 452.7L155.6 453.1M157.1 450.8L157.5 451.2" stroke="#1aaf7b" stroke-width="1.55" stroke-opacity="1"/>
<path d="M116.9 485.3L122.1 485.8M122.1 485.8L126.9 486.1M126.9 486.1L131.6 486.2M112.9 483.6L117.8 484.4M117.8 484.4L122.5 485.0M122.5 485.0L127.0 485.4M127.0 485.4L131.6 485.4M124.5 483.2L128.7 483.4M128.7 483.4L132.9 483.4M132.9 483.4L137.4 482.9M119.1 479.2L123.7 479.8M123.7 479.8L128.2 480.3M130.4 477.9L134.1 478.3M134.1 478.3L137.7 478.2M137.7 478.2L141.4 477.9M136.4 474.9L139.7 475.0M139.7 475.0L143.1 474.7M135.5 472.3L138.5 472.6M138.5 472.6L141.6 472.7M143.9 471.1L146.5 471.0M137.3 467.0L140.1 467.1M140.1 467.1L142.7 467.3M146.1 466.6L148.4 466.5M148.2 462.6L150.4 462.7M148.2 461.0L150.0 461.1M150.0 461.1L151.9 461.2M152.4 457.2L153.9 457.5M153.9 457.5L155.4 457.7M155.2 456.6L156.3 456.6M156.3 456.6L157.3 456.6M155.6 453.1L156.3 453.4M156.3 453.4L157.0 453.7M157.5 451.2L158.1 451.4M158.1 451.4L158.7 451.6" stroke="#35bf52" stroke-width="1.55" stroke-opacity="1"/>
<path d="M131.6 486.2L136.4 486.1M136.4 486.1L141.0 485.8M141.0 485.8L145.2 485.5M145.2 485.5L148.7 485.2M131.6 485.4L136.4 485.0M136.4 485.0L141.1 484.5M137.4 482.9L141.7 482.3M141.7 482.3L145.7 481.7M128.2 480.3L132.3 480.6M132.3 480.6L136.2 480.7M136.2 480.7L140.1 480.5M141.4 477.9L144.9 477.4M144.9 477.4L148.2 476.8M148.2 476.8L150.8 476.3M143.1 474.7L146.4 474.3M146.4 474.3L149.5 473.8M141.6 472.7L144.9 472.6M144.9 472.6L148.1 472.3M146.5 471.0L148.9 470.8M148.9 470.8L151.1 470.6M142.7 467.3L145.3 467.5M145.3 467.5L148.0 467.7M148.0 467.7L150.5 467.9M148.4 466.5L150.6 466.1M150.6 466.1L152.7 465.7M150.4 462.7L152.6 462.8M151.9 461.2L153.8 461.2M155.4 457.7L156.7 458.0M156.7 458.0L157.9 458.2M157.3 456.6L158.1 456.5M157.0 453.7L157.7 453.9M158.7 451.6L159.4 451.6" stroke="#6bd12e" stroke-width="1.55" stroke-opacity="1"/>
<path d="M148.7 485.2L151.3 485.0M141.1 484.5L145.4 483.8M145.4 483.8L149.0 483.3M149.0 483.3L151.7 482.9M145.7 481.7L149.1 481.1M149.1 481.1L151.5 480.7M140.1 480.5L143.9 480.2M143.9 480.2L147.3 479.8M147.3 479.8L150.1 479.5M150.8 476.3L152.8 475.9M149.5 473.8L152.0 473.4M152.0 473.4L153.9 473.2M148.1 472.3L151.0 472.1M151.0 472.1L153.5 471.8M151.1 470.6L152.9 470.3M150.5 467.9L152.9 468.0M152.9 468.0L154.9 468.2M154.9 468.2L156.3 468.3M152.7 465.7L154.4 465.3M154.4 465.3L155.7 465.1M152.6 462.8L154.5 462.9M154.5 462.9L156.2 462.9M153.8 461.2L155.6 461.2M155.6 461.2L157.1 461.1M157.9 458.2L158.7 458.3M158.1 456.5L158.9 456.4M158.9 456.4L159.4 456.4M157.7 453.9L158.4 454.1M158.4 454.1L158.9 454.3M159.4 451.6L160.0 451.6" stroke="#aadb1a" stroke-width="1.55" stroke-opacity="1"/>
<path d="M150.1 479.5L152.2 479.3M153.5 471.8L155.3 471.7M152.9 470.3L154.3 470.2M156.2 462.9L157.4 463.0M157.1 461.1L158.2 461.1M158.9 454.3L159.3 454.4M160.0 451.6L160.5 451.7M160.5 451.7L160.9 451.7" stroke="#f0e010" stroke-width="1.55" stroke-opacity="1"/>
<path d="M104.0 423.9L103.6 425.5M103.6 425.5L102.9 427.8M111.7 450.7L114.4 452.9M114.4 452.9L117.2 455.0M117.2 455.0L120.2 457.2M108.4 425.6L108.2 427.1M108.2 427.1L107.7 429.1M121.5 455.1L124.4 456.9M124.4 456.9L127.5 458.7M112.3 426.3L112.1 427.7M121.0 450.2L123.5 452.1M123.5 452.1L126.1 454.0M126.1 454.0L128.9 455.8M118.6 426.3L118.4 427.7M132.8 452.7L135.5 454.5M135.5 454.5L138.3 456.4M132.6 449.6L134.9 451.3M134.9 451.3L137.1 452.8M137.1 452.8L139.4 454.3" stroke="#10a0a8" stroke-width="1.5" stroke-opacity="1"/>
<path d="M102.9 427.8L102.1 430.5M109.2 448.4L111.7 450.7M107.7 429.1L107.2 431.5M118.9 453.1L121.5 455.1M112.1 427.7L111.7 429.7M111.7 429.7L111.3 432.0M111.3 432.0L111.1 434.5M114.6 443.7L116.5 445.9M116.5 445.9L118.7 448.1M118.7 448.1L121.0 450.2M118.4 427.7L118.1 429.6M118.1 429.6L117.7 431.8M127.9 448.9L130.3 450.8M130.3 450.8L132.8 452.7M122.3 426.9L122.2 428.3M122.2 428.3L121.9 430.3M127.8 445.9L130.2 447.8M130.2 447.8L132.6 449.6" stroke="#1081ba" stroke-width="1.5" stroke-opacity="1"/>
<path d="M102.1 430.5L101.5 433.4M104.6 443.7L106.7 446.1M106.7 446.1L109.2 448.4M107.2 431.5L106.8 434.0M106.8 434.0L106.8 436.6M110.0 443.8L111.9 446.3M111.9 446.3L114.1 448.7M114.1 448.7L116.4 451.0M116.4 451.0L118.9 453.1M111.1 434.5L111.2 437.0M111.2 437.0L111.8 439.4M111.8 439.4L113.0 441.5M113.0 441.5L114.6 443.7M117.7 431.8L117.6 434.2M117.6 434.2L117.7 436.5M121.3 442.8L123.3 444.9M123.3 444.9L125.5 446.9M125.5 446.9L127.9 448.9M121.9 430.3L121.6 432.7M121.6 432.7L121.5 435.3M125.7 444.0L127.8 445.9" stroke="#1161c8" stroke-width="1.5" stroke-opacity="1"/>
<path d="M101.5 433.4L101.3 436.3M101.3 436.3L101.7 438.9M101.7 438.9L102.9 441.3M102.9 441.3L104.6 443.7M106.8 436.6L107.4 439.1M107.4 439.1L108.5 441.4M108.5 441.4L110.0 443.8M117.7 436.5L118.4 438.7M118.4 438.7L119.6 440.8M119.6 440.8L121.3 442.8M121.5 435.3L121.7 437.7M121.7 437.7L122.5 440.0M122.5 440.0L123.8 442.0M123.8 442.0L125.7 444.0" stroke="#163ec8" stroke-width="1.5" stroke-opacity="1"/>
<path d="M120.2 457.2L123.4 459.2M123.4 459.2L126.7 461.2M127.5 458.7L130.7 460.4M130.7 460.4L133.9 461.9M128.9 455.8L131.9 457.6M131.9 457.6L134.9 459.2M134.9 459.2L138.0 460.8M138.0 460.8L140.9 462.3M138.3 456.4L141.2 458.1M139.4 454.3L141.7 455.7M141.7 455.7L144.0 457.0M144.0 457.0L146.4 458.3" stroke="#1aaf7b" stroke-width="1.5" stroke-opacity="1"/>
<path d="M126.7 461.2L130.0 463.0M130.0 463.0L133.3 464.7M133.3 464.7L136.5 466.1M133.9 461.9L137.1 463.4M140.9 462.3L143.8 463.7M143.8 463.7L146.7 465.0M141.2 458.1L144.0 459.7M146.4 458.3L148.7 459.5M148.7 459.5L151.2 460.7M151.2 460.7L153.6 461.9" stroke="#35bf52" stroke-width="1.5" stroke-opacity="1"/>
<path d="M136.5 466.1L139.9 467.3M139.9 467.3L143.2 468.4M143.2 468.4L146.6 469.4M137.1 463.4L140.3 464.7M140.3 464.7L143.6 465.9M146.7 465.0L149.5 466.2M144.0 459.7L146.7 461.1M146.7 461.1L149.2 462.4M149.2 462.4L151.6 463.5M153.6 461.9L156.1 463.0M156.1 463.0L158.6 464.0" stroke="#6bd12e" stroke-width="1.5" stroke-opacity="1"/>
<path d="M146.6 469.4L149.9 470.2M149.9 470.2L153.3 471.1M143.6 465.9L147.0 466.9M147.0 466.9L150.3 467.9M150.3 467.9L153.6 468.8M149.5 466.2L152.3 467.4M152.3 467.4L155.1 468.4M151.6 463.5L153.9 464.5M153.9 464.5L156.2 465.4M158.6 464.0L161.1 464.9M161.1 464.9L163.4 465.7" stroke="#aadb1a" stroke-width="1.5" stroke-opacity="1"/>
<path d="M153.3 471.1L156.8 471.9M156.8 471.9L160.7 472.6M153.6 468.8L156.7 469.7M156.7 469.7L159.8 470.6M155.1 468.4L157.9 469.2M157.9 469.2L160.9 469.9M156.2 465.4L158.5 466.2M158.5 466.2L160.8 466.9M160.8 466.9L163.3 467.6M163.4 465.7L165.8 466.4M165.8 466.4L168.2 466.9M168.2 466.9L170.6 467.4" stroke="#f0e010" stroke-width="1.5" stroke-opacity="1"/>
<path d="M160.7 472.6L164.5 473.2M164.5 473.2L168.0 473.8M159.8 470.6L163.0 471.4M163.0 471.4L166.2 472.1M166.2 472.1L169.0 472.8M160.9 469.9L164.0 470.5M164.0 470.5L167.2 470.9M167.2 470.9L170.1 471.2M163.3 467.6L165.9 468.1M165.9 468.1L168.5 468.6M168.5 468.6L170.9 469.0M170.6 467.4L172.8 467.7M172.8 467.7L174.7 468.0M174.7 468.0L176.1 468.2" stroke="#f4c814" stroke-width="1.5" stroke-opacity="1"/>
<path d="M168.0 473.8L171.0 474.2M171.0 474.2L173.2 474.6M169.0 472.8L171.4 473.3M171.4 473.3L173.2 473.7M170.1 471.2L172.5 471.4M172.5 471.4L174.3 471.6M170.9 469.0L172.9 469.3M172.9 469.3L174.4 469.6" stroke="#f8b018" stroke-width="1.5" stroke-opacity="1"/>
<path d="M217.2 415.9L214.9 417.8M214.9 417.8L211.7 420.3M217.8 415.0L215.8 417.2M215.8 417.2L213.0 420.2M213.0 420.2L209.6 423.7M221.7 416.8L219.6 418.7M223.9 416.4L221.8 418.4M221.8 418.4L218.8 421.2M226.3 417.3L224.3 419.2M229.3 417.6L227.4 419.4M227.4 419.4L224.8 421.9M224.8 421.9L221.6 424.9M231.6 419.3L229.7 421.0" stroke="#0d6d9e" stroke-width="1.5" stroke-opacity="1"/>
<path d="M211.7 420.3L207.9 423.2M207.9 423.2L203.9 426.5M209.6 423.7L206.0 427.5M206.0 427.5L202.4 431.4M220.9 415.3L218.8 417.4M218.8 417.4L215.9 420.3M215.9 420.3L212.5 423.8M212.5 423.8L208.8 427.5M208.8 427.5L205.1 431.3M205.1 431.3L201.7 434.9M219.6 418.7L216.7 421.3M216.7 421.3L213.3 424.4M213.3 424.4L209.6 427.7M209.6 427.7L205.9 431.2M205.9 431.2L202.6 434.6M202.6 434.6L199.5 438.0M218.8 421.2L215.2 424.5M215.2 424.5L211.4 428.1M224.3 419.2L221.4 421.8M221.4 421.8L218.1 425.0M218.1 425.0L214.4 428.4M226.6 417.7L224.7 419.5M224.7 419.5L222.1 422.1M222.1 422.1L219.0 425.1M221.6 424.9L218.2 428.2M218.2 428.2L214.8 431.6M214.8 431.6L211.6 434.9M211.6 434.9L208.4 438.3M229.7 421.0L227.1 423.4M227.1 423.4L223.9 426.2M223.9 426.2L220.5 429.3" stroke="#0e52aa" stroke-width="1.5" stroke-opacity="1"/>
<path d="M203.9 426.5L200.0 429.9M200.0 429.9L196.5 433.3M191.3 484.8L193.7 484.9M202.4 431.4L199.0 435.0M199.0 435.0L195.7 438.5M195.7 438.5L192.3 442.1M192.3 442.1L188.8 445.8M188.8 445.8L185.5 449.4M185.5 449.4L182.4 453.0M182.4 453.0L179.8 456.4M179.8 456.4L177.5 459.8M185.5 485.1L189.2 485.5M189.2 485.5L192.5 485.8M192.5 485.8L194.7 486.0M201.7 434.9L198.4 438.4M198.4 438.4L195.1 442.1M195.1 442.1L191.7 445.8M199.5 438.0L196.3 441.5M196.3 441.5L193.1 445.2M193.1 445.2L190.1 448.8M211.4 428.1L207.6 431.8M207.6 431.8L204.1 435.3M204.1 435.3L200.8 438.7M214.4 428.4L210.8 431.9M210.8 431.9L207.4 435.3M207.4 435.3L204.1 438.6M204.1 438.6L200.7 442.2M200.7 442.2L197.2 445.8M219.0 425.1L215.7 428.4M215.7 428.4L212.3 431.9M212.3 431.9L209.1 435.3M209.1 435.3L206.1 438.7M206.1 438.7L202.8 442.3M202.8 442.3L199.5 446.1M208.4 438.3L205.1 441.8M205.1 441.8L201.8 445.5M201.8 445.5L198.5 449.1M198.5 449.1L195.6 452.7M195.6 452.7L193.1 456.1M193.1 456.1L190.9 459.3M190.9 459.3L188.9 462.5M188.9 462.5L187.3 465.7M220.5 429.3L217.0 432.6M217.0 432.6L213.8 435.7M213.8 435.7L210.6 439.0M210.6 439.0L207.3 442.5M207.3 442.5L203.9 446.1M203.9 446.1L200.6 449.7M200.6 449.7L197.6 453.2M197.6 453.2L195.1 456.4M195.1 456.4L192.9 459.6M192.9 459.6L191.0 462.7M191.0 462.7L189.4 465.8" stroke="#1234aa" stroke-width="1.5" stroke-opacity="1"/>
<path d="M196.5 433.3L193.3 436.8M193.3 436.8L190.2 440.6M190.2 440.6L187.1 444.5M187.1 444.5L184.2 448.4M184.2 448.4L181.5 452.3M181.5 452.3L179.0 455.9M179.0 455.9L176.8 459.5M176.8 459.5L174.6 463.2M174.6 463.2L172.6 466.7M172.6 466.7L170.9 470.0M170.9 470.0L169.7 473.1M169.7 473.1L168.9 475.6M168.9 475.6L168.5 477.7M168.5 477.7L168.5 479.3M168.5 479.3L169.0 480.6M175.6 484.0L179.4 484.4M179.4 484.4L183.6 484.6M183.6 484.6L187.7 484.7M187.7 484.7L191.3 484.8M177.5 459.8L175.4 463.3M175.4 463.3L173.6 466.8M173.6 466.8L172.2 470.0M172.2 470.0L171.1 473.0M170.7 479.1L171.3 480.3M171.3 480.3L172.4 481.4M172.4 481.4L173.8 482.3M173.8 482.3L175.6 483.2M175.6 483.2L178.2 484.0M178.2 484.0L181.7 484.6M181.7 484.6L185.5 485.1M191.7 445.8L188.5 449.5M188.5 449.5L185.4 453.2M183.7 484.4L187.4 484.7M187.4 484.7L191.1 484.9M191.1 484.9L194.3 485.0M194.3 485.0L196.5 485.1M190.1 448.8L187.4 452.4M187.4 452.4L184.9 455.8M184.9 455.8L182.7 459.2M182.7 459.2L180.7 462.5M180.7 462.5L178.9 465.8M178.9 465.8L177.4 468.9M177.4 468.9L176.3 471.8M176.3 471.8L175.6 474.2M175.6 474.2L175.4 476.3M175.4 476.3L175.5 478.1M175.5 478.1L176.0 479.6M176.0 479.6L176.8 480.9M200.8 438.7L197.5 442.3M197.5 442.3L194.2 445.9M194.2 445.9L191.0 449.6M191.0 449.6L188.1 453.1M188.1 453.1L185.6 456.4M185.6 456.4L183.4 459.7M183.4 459.7L181.4 462.8M181.4 462.8L179.7 465.9M179.7 465.9L178.3 468.8M178.3 468.8L177.3 471.4M177.3 471.4L176.8 473.8M176.8 473.8L176.7 475.8M176.7 475.8L177.1 477.5M177.1 477.5L177.8 479.0M177.8 479.0L178.9 480.3M178.9 480.3L180.4 481.4M180.4 481.4L182.2 482.3M182.2 482.3L184.7 483.1M184.7 483.1L187.9 483.6M187.9 483.6L191.5 483.9M191.5 483.9L195.0 484.1M195.0 484.1L198.0 484.3M198.0 484.3L200.1 484.5M197.2 445.8L193.9 449.4M193.9 449.4L190.9 452.9M190.9 452.9L188.4 456.3M188.4 456.3L186.3 459.6M186.3 459.6L184.5 462.8M184.5 462.8L183.0 466.0M183.0 466.0L181.8 469.0M181.8 469.0L180.9 471.8M180.9 471.8L180.4 474.1M184.0 481.3L186.5 482.0M186.5 482.0L190.0 482.5M190.0 482.5L193.9 482.8M193.9 482.8L197.7 483.0M197.7 483.0L201.0 483.2M201.0 483.2L203.3 483.4M199.5 446.1L196.3 449.9M196.3 449.9L193.4 453.5M193.4 453.5L190.9 456.9M190.9 456.9L188.8 460.2M188.8 460.2L186.8 463.3M186.8 463.3L185.1 466.4M185.1 466.4L183.7 469.3M183.7 469.3L182.7 471.9M182.7 471.9L182.1 474.2M182.1 474.2L181.8 476.1M181.8 476.1L181.9 477.8M181.9 477.8L182.4 479.2M191.6 482.8L195.2 482.8M195.2 482.8L198.8 482.7M198.8 482.7L201.8 482.6M201.8 482.6L203.9 482.6M187.3 465.7L185.9 468.6M185.9 468.6L185.0 471.2M185.0 471.2L184.4 473.5M184.4 473.5L184.3 475.4M184.3 475.4L184.6 476.9M184.6 476.9L185.2 478.1M185.2 478.1L186.3 479.1M186.3 479.1L187.6 479.9M187.6 479.9L189.4 480.7M189.4 480.7L191.8 481.3M191.8 481.3L195.0 481.8M195.0 481.8L198.6 482.1M198.6 482.1L202.1 482.3M202.1 482.3L205.2 482.4M189.4 465.8L188.1 468.6M188.1 468.6L187.1 471.2M187.1 471.2L186.5 473.4M186.5 473.4L186.2 475.3M186.2 475.3L186.2 476.9M186.2 476.9L186.6 478.2M186.6 478.2L187.3 479.3M187.3 479.3L188.5 480.2M188.5 480.2L190.1 480.9M190.1 480.9L192.6 481.4M192.6 481.4L196.1 481.6M196.1 481.6L199.9 481.7M199.9 481.7L203.7 481.6M203.7 481.6L207.0 481.5M207.0 481.5L209.3 481.5" stroke="#11219f" stroke-width="1.5" stroke-opacity="1"/>
<path d="M169.0 480.6L169.8 481.7M169.8 481.7L171.1 482.6M171.1 482.6L172.9 483.4M172.9 483.4L175.6 484.0M171.1 473.0L170.5 475.4M170.5 475.4L170.4 477.5M170.4 477.5L170.7 479.1M185.4 453.2L182.8 456.6M182.8 456.6L180.4 460.1M180.4 460.1L178.1 463.6M178.1 463.6L176.0 466.9M176.0 466.9L174.3 470.1M174.3 470.1L173.0 473.0M173.0 473.0L172.3 475.5M172.3 475.5L172.1 477.5M172.1 477.5L172.4 479.2M172.4 479.2L173.2 480.5M173.2 480.5L174.3 481.6M174.3 481.6L175.8 482.5M175.8 482.5L177.7 483.3M177.7 483.3L180.3 484.0M180.3 484.0L183.7 484.4M176.8 480.9L178.1 482.0M178.1 482.0L179.8 483.0M179.8 483.0L182.4 483.7M182.4 483.7L185.8 484.3M185.8 484.3L189.7 484.6M189.7 484.6L193.5 484.9M193.5 484.9L196.7 485.0M196.7 485.0L199.0 485.2M180.4 474.1L180.2 476.0M180.2 476.0L180.2 477.5M180.2 477.5L180.5 478.7M180.5 478.7L181.2 479.7M181.2 479.7L182.3 480.5M182.3 480.5L184.0 481.3M182.4 479.2L183.2 480.4M183.2 480.4L184.4 481.3M184.4 481.3L186.1 482.1M186.1 482.1L188.4 482.6M188.4 482.6L191.6 482.8M205.2 482.4L207.2 482.6" stroke="#0d148e" stroke-width="1.5" stroke-opacity="1"/>
<path d="M244.4 418.9L242.7 420.7M251.4 421.1L250.0 422.8M253.2 421.0L251.8 422.8M255.3 421.4L254.1 423.3" stroke="#0c8086" stroke-width="1.5" stroke-opacity="1"/>
<path d="M242.7 420.7L240.2 423.0M240.2 423.0L237.3 425.8M245.9 419.5L244.2 421.2M244.2 421.2L241.7 423.6M241.7 423.6L238.9 426.3M248.7 420.0L247.2 421.7M247.2 421.7L245.2 424.0M245.2 424.0L242.8 426.8M242.8 426.8L240.2 429.8M250.0 422.8L248.0 425.1M248.0 425.1L245.7 427.9M245.7 427.9L243.2 430.8M251.8 422.8L249.9 425.3M249.9 425.3L247.6 428.3M247.6 428.3L245.2 431.5M254.1 423.3L252.3 425.9M252.3 425.9L250.2 428.9M250.2 428.9L248.0 432.2" stroke="#0c6794" stroke-width="1.5" stroke-opacity="1"/>
<path d="M237.3 425.8L234.3 428.9M234.3 428.9L231.3 431.9M238.9 426.3L235.9 429.3M235.9 429.3L233.1 432.3M233.1 432.3L230.6 435.1M230.6 435.1L228.6 437.8M228.6 437.8L226.6 440.6M226.6 440.6L224.8 443.3M224.8 443.3L223.2 446.0M240.2 429.8L237.8 432.8M237.8 432.8L235.6 435.5M235.6 435.5L233.8 438.0M233.8 438.0L231.9 440.6M231.9 440.6L230.2 443.1M243.2 430.8L240.9 433.7M240.9 433.7L238.9 436.4M238.9 436.4L237.1 438.9M237.1 438.9L235.5 441.3M245.2 431.5L242.9 434.6M242.9 434.6L241.0 437.4M248.0 432.2L245.9 435.3M245.9 435.3L244.1 438.0M244.1 438.0L242.5 440.4M242.5 440.4L241.0 442.7" stroke="#0d4da0" stroke-width="1.5" stroke-opacity="1"/>
<path d="M231.3 431.9L228.8 434.7M228.8 434.7L226.6 437.3M226.6 437.3L224.5 439.9M224.5 439.9L222.4 442.5M222.4 442.5L220.6 445.1M220.6 445.1L219.0 447.7M219.0 447.7L217.8 450.2M217.8 450.2L216.9 452.8M216.9 452.8L216.2 455.4M232.9 477.2L234.4 477.4M223.2 446.0L221.7 448.7M221.7 448.7L220.5 451.3M220.5 451.3L219.4 453.8M219.4 453.8L218.4 456.4M230.1 476.1L232.6 476.6M232.6 476.6L234.6 477.0M234.6 477.0L236.1 477.3M230.2 443.1L228.6 445.5M228.6 445.5L227.2 448.0M227.2 448.0L226.0 450.4M226.0 450.4L225.0 452.7M235.5 441.3L233.9 443.7M233.9 443.7L232.5 446.1M232.5 446.1L231.3 448.5M231.3 448.5L230.2 450.8M241.0 437.4L239.5 439.9M239.5 439.9L238.0 442.4M238.0 442.4L236.7 444.8M236.7 444.8L235.6 447.1M241.0 442.7L239.5 444.9M239.5 444.9L238.2 447.0M238.2 447.0L237.1 449.1" stroke="#1131a0" stroke-width="1.5" stroke-opacity="1"/>
<path d="M216.2 455.4L215.9 458.0M215.9 458.0L215.7 460.5M215.7 460.5L215.8 462.9M215.8 462.9L216.1 465.1M216.1 465.1L216.5 467.2M223.6 476.2L225.9 476.7M225.9 476.7L228.4 477.0M228.4 477.0L230.9 477.1M230.9 477.1L232.9 477.2M218.4 456.4L217.6 458.9M217.6 458.9L217.1 461.3M217.1 461.3L216.8 463.5M218.1 468.9L219.1 470.4M219.1 470.4L220.4 471.7M220.4 471.7L221.8 472.9M221.8 472.9L223.4 474.0M223.4 474.0L225.3 474.8M225.3 474.8L227.6 475.6M227.6 475.6L230.1 476.1M225.0 452.7L224.2 455.1M224.2 455.1L223.5 457.5M223.5 457.5L223.1 459.8M223.1 459.8L222.8 461.9M223.8 467.5L224.6 469.2M224.6 469.2L225.6 470.7M225.6 470.7L226.9 472.0M226.9 472.0L228.2 473.0M228.2 473.0L229.9 473.7M229.9 473.7L232.1 474.0M232.1 474.0L234.4 474.2M234.4 474.2L236.6 474.2M236.6 474.2L238.6 474.2M230.2 450.8L229.4 453.1M229.4 453.1L228.8 455.4M228.8 455.4L228.3 457.6M228.3 457.6L228.0 459.8M228.0 459.8L227.9 461.8M227.9 461.8L228.0 463.7M228.0 463.7L228.3 465.4M228.3 465.4L228.7 466.9M228.7 466.9L229.4 468.4M229.4 468.4L230.2 469.7M230.2 469.7L231.2 470.8M231.2 470.8L232.3 471.8M232.3 471.8L233.7 472.5M233.7 472.5L235.5 473.0M235.5 473.0L237.5 473.3M237.5 473.3L239.4 473.5M239.4 473.5L241.0 473.7M241.0 473.7L242.1 473.9M235.6 447.1L234.5 449.3M234.5 449.3L233.6 451.5M233.6 451.5L232.7 453.5M232.7 453.5L232.0 455.4M232.0 455.4L231.3 457.2M231.3 457.2L230.8 459.0M230.8 459.0L230.5 460.7M230.5 460.7L230.4 462.4M230.4 462.4L230.6 464.0M230.6 464.0L230.9 465.7M230.9 465.7L231.5 467.3M231.5 467.3L232.3 468.8M232.3 468.8L233.2 470.0M233.2 470.0L234.2 471.0M234.2 471.0L235.5 471.7M235.5 471.7L237.1 472.1M237.1 472.1L238.8 472.2M238.8 472.2L240.5 472.2M240.5 472.2L242.0 472.2M242.0 472.2L243.0 472.3M237.1 449.1L236.3 451.1M236.3 451.1L235.7 453.2M235.7 453.2L235.3 455.3M235.3 455.3L235.2 457.3M235.2 457.3L235.2 459.3M235.2 459.3L235.3 461.1M235.3 461.1L235.4 462.7M235.4 462.7L235.5 464.1M235.5 464.1L235.7 465.4M235.7 465.4L236.0 466.5M236.0 466.5L236.4 467.5M236.4 467.5L236.9 468.4M236.9 468.4L237.7 469.2M237.7 469.2L238.8 469.8M238.8 469.8L240.3 470.2M240.3 470.2L242.0 470.5M242.0 470.5L243.6 470.8M243.6 470.8L245.0 471.0M245.0 471.0L246.0 471.1" stroke="#101f96" stroke-width="1.5" stroke-opacity="1"/>
<path d="M216.5 467.2L217.2 469.2M217.2 469.2L218.0 471.1M218.0 471.1L219.1 472.7M219.1 472.7L220.4 474.2M220.4 474.2L221.8 475.4M221.8 475.4L223.6 476.2M216.8 463.5L216.9 465.5M216.9 465.5L217.3 467.3M217.3 467.3L218.1 468.9M222.8 461.9L222.9 463.9M222.9 463.9L223.2 465.8M223.2 465.8L223.8 467.5M238.6 474.2L239.9 474.2" stroke="#0c1386" stroke-width="1.5" stroke-opacity="1"/>
<path d="M266.0 421.0L265.0 422.4M265.0 422.4L263.5 424.4M263.5 424.4L261.8 426.7" stroke="#0c8086" stroke-width="1.3" stroke-opacity="1"/>
<path d="M261.8 426.7L260.0 429.2M260.0 429.2L258.4 431.7M258.4 431.7L257.0 434.0M257.0 434.0L255.9 436.2M255.9 436.2L255.0 438.3M255.0 438.3L254.1 440.5" stroke="#0c6794" stroke-width="1.3" stroke-opacity="1"/>
<path d="M254.1 440.5L253.4 442.7M253.4 442.7L252.7 444.8M252.7 444.8L252.0 447.0M252.0 447.0L251.3 449.3M251.3 449.3L250.7 451.8M250.7 451.8L250.2 454.3" stroke="#0d4da0" stroke-width="1.3" stroke-opacity="1"/>
<path d="M250.2 454.3L249.7 456.6M249.7 456.6L249.3 458.6M249.3 458.6L249.0 460.0" stroke="#1131a0" stroke-width="1.3" stroke-opacity="1"/>
<path d="M150.5 492.8L153.9 492.4M153.9 492.4L158.6 491.8M158.6 491.8L164.1 491.2M164.1 491.2L170.0 490.5M170.0 490.5L175.9 489.8M175.9 489.8L181.2 489.0M181.2 489.0L186.2 488.3M186.2 488.3L191.2 487.6M191.2 487.6L196.1 486.8M196.1 486.8L200.9 486.0M200.9 486.0L205.7 485.1M205.7 485.1L210.4 484.3M210.4 484.3L215.4 483.3M215.4 483.3L220.6 482.3M220.6 482.3L225.7 481.2M225.7 481.2L230.5 480.2M202.4 487.5L206.9 486.7M206.9 486.7L211.3 485.8M211.3 485.8L216.0 484.9M216.0 484.9L220.9 483.8M220.9 483.8L225.8 482.8M225.8 482.8L230.3 481.8M230.3 481.8L234.1 480.9M234.1 480.9L236.8 480.3M173.5 492.5L179.1 491.8M179.1 491.8L184.2 491.1M184.2 491.1L189.0 490.4M189.0 490.4L193.8 489.5M193.8 489.5L198.5 488.6M198.5 488.6L203.2 487.7M203.2 487.7L207.8 486.8M207.8 486.8L212.2 485.9M212.2 485.9L216.7 485.0M226.5 484.9L230.3 483.7M230.3 483.7L233.6 482.7M233.6 482.7L236.0 482.0M184.3 493.6L189.4 492.9M189.4 492.9L193.8 492.2" stroke="#1527bc" stroke-width="1" stroke-opacity="1"/>
<path d="M230.5 480.2L234.5 479.4M234.5 479.4L237.4 478.8M153.2 493.8L156.6 493.4M156.6 493.4L161.2 492.9M161.2 492.9L166.7 492.4M166.7 492.4L172.6 491.7M172.6 491.7L178.4 491.0M178.4 491.0L183.7 490.4M183.7 490.4L188.5 489.7M188.5 489.7L193.2 489.0M193.2 489.0L197.8 488.2M197.8 488.2L202.4 487.5M155.2 494.4L158.3 494.1M158.3 494.1L162.7 493.7M162.7 493.7L167.9 493.1M167.9 493.1L173.5 492.5M216.7 485.0L221.4 484.0M221.4 484.0L226.0 482.9M226.0 482.9L230.1 482.0M230.1 482.0L233.6 481.2M233.6 481.2L236.2 480.6M158.0 494.9L161.2 494.6M161.2 494.6L165.7 494.2M165.7 494.2L171.0 493.8M171.0 493.8L176.6 493.2M176.6 493.2L182.2 492.7M182.2 492.7L187.2 492.1M187.2 492.1L191.8 491.5M191.8 491.5L196.4 491.0M196.4 491.0L200.8 490.4M200.8 490.4L205.2 489.7M205.2 489.7L209.5 489.0M209.5 489.0L213.6 488.2M213.6 488.2L217.8 487.2M217.8 487.2L222.2 486.1M222.2 486.1L226.5 484.9M159.3 496.2L162.6 495.9M162.6 495.9L167.3 495.4M167.3 495.4L172.8 494.9M172.8 494.9L178.6 494.2M178.6 494.2L184.3 493.6M193.8 492.2L198.1 491.5M198.1 491.5L202.3 490.7M202.3 490.7L206.3 489.9M206.3 489.9L210.3 489.1M210.3 489.1L214.2 488.4M214.2 488.4L218.3 487.6M218.3 487.6L222.6 486.7M222.6 486.7L226.8 485.9M226.8 485.9L230.6 485.1M230.6 485.1L233.9 484.4M233.9 484.4L236.2 483.9" stroke="#1018a8" stroke-width="1" stroke-opacity="1"/>
<path d="M158.8 477.5L160.6 477.4M160.6 477.4L163.1 477.3M163.6 479.1L166.7 479.3M166.7 479.3L170.0 479.3M211.7 475.4L213.9 475.2M160.9 480.4L163.6 480.4M163.6 480.4L166.9 480.4M159.5 481.9L161.5 481.8M161.5 481.8L164.4 481.7M209.3 477.8L212.4 477.3M212.4 477.3L214.5 477.0" stroke="#7fa413" stroke-width="1.1" stroke-opacity="1"/>
<path d="M163.1 477.3L166.1 477.2M166.1 477.2L169.3 477.0M208.5 473.7L212.0 473.2M212.0 473.2L214.5 472.8M170.0 479.3L173.3 479.4M205.0 476.0L208.6 475.7M208.6 475.7L211.7 475.4M166.9 480.4L170.4 480.4M170.4 480.4L173.8 480.3M208.8 476.9L211.7 476.5M211.7 476.5L213.8 476.3M164.4 481.7L167.7 481.6M167.7 481.6L171.3 481.5M171.3 481.5L174.8 481.4M205.7 478.3L209.3 477.8" stroke="#b4a80c" stroke-width="1.1" stroke-opacity="1"/>
<path d="M169.3 477.0L172.5 476.9M172.5 476.9L175.5 476.7M195.9 475.5L200.1 475.0M200.1 475.0L204.4 474.3M204.4 474.3L208.5 473.7M173.3 479.4L176.4 479.3M176.4 479.3L179.3 479.1M179.3 479.1L182.1 478.7M182.1 478.7L185.0 478.3M185.0 478.3L187.8 477.8M197.3 476.7L201.1 476.3M201.1 476.3L205.0 476.0M173.8 480.3L177.0 480.2M177.0 480.2L180.0 480.0M180.0 480.0L183.0 479.8M183.0 479.8L185.9 479.5M185.9 479.5L188.8 479.2M198.2 478.2L201.8 477.7M201.8 477.7L205.4 477.3M205.4 477.3L208.8 476.9M174.8 481.4L178.0 481.2M178.0 481.2L180.9 481.0M180.9 481.0L183.6 480.9M201.9 478.9L205.7 478.3" stroke="#b7960f" stroke-width="1.1" stroke-opacity="1"/>
<path d="M175.5 476.7L178.2 476.6M178.2 476.6L180.9 476.6M180.9 476.6L183.5 476.5M183.5 476.5L186.3 476.4M186.3 476.4L189.2 476.2M189.2 476.2L192.3 475.9M192.3 475.9L195.9 475.5M187.8 477.8L190.8 477.4M190.8 477.4L193.9 477.0M193.9 477.0L197.3 476.7M188.8 479.2L191.8 478.9M191.8 478.9L194.9 478.5M194.9 478.5L198.2 478.2M183.6 480.9L186.3 480.6M186.3 480.6L189.1 480.4M189.1 480.4L191.9 480.1M198.2 479.4L201.9 478.9" stroke="#ba8412" stroke-width="1.1" stroke-opacity="1"/>
<path d="M159.2 478.9L161.1 479.0M161.1 479.0L163.6 479.1M158.9 480.4L160.9 480.4" stroke="#509c22" stroke-width="1.1" stroke-opacity="1"/>
<path d="M191.9 480.1L194.8 479.8M194.8 479.8L198.2 479.4" stroke="#b76c12" stroke-width="1.1" stroke-opacity="1"/>
</g>
<g stroke="#000" stroke-width="2.2" fill="#000" stroke-linejoin="miter">
<path d="M41.7 489.8V456.5" />
<path d="M41.7 451.5l-3.2 7h6.4z" stroke="none"/>
<path d="M40.7 488.8L68.5078 487.531"/>
<path d="M75.5 487.2L68.6591 490.727L68.3565 484.335z" stroke="none"/>
<path d="M40.7 488.8L64.0921 492.468"/>
<path d="M71 493.6L63.5747 495.626L64.6094 489.31z" stroke="none"/>
</g>
<g filter="url(#soft2)">
<text x="24.6" y="468.7" font-family='"Liberation Serif","DejaVu Serif",serif' font-size="16" font-weight="normal" font-style="normal" fill="#111" text-anchor="start" >Z</text>
<text x="53.1" y="482.7" font-family='"Liberation Serif","DejaVu Serif",serif' font-size="16" font-weight="normal" font-style="normal" fill="#111" text-anchor="start" >X</text>
<text x="68.8" y="510" font-family='"Liberation Serif","DejaVu Serif",serif' font-size="16" font-weight="normal" font-style="normal" fill="#111" text-anchor="start" >Y</text>
</g>
<g stroke="#7c7c7c" stroke-width="0.9" fill="none">
<path d="M448 285L611 272.8L701.7 293.6V362.6L610.8 370.3L445 357V288.3L448 285M445 288.3L547 300L611 299.3L701.7 293.6M610.8 272.8V370.3M445 354.5L610.8 354M547 300V355"/>
</g>
<path d="M445 304.6 C455 308 462 311 467.8 312.5 C480 314.5 495 316 505.6 317 C517 318 527 319 534 320 C545 322 555 324 562 326.7 L600 332 L612 352 C590 352 575 351.5 560 350 C545 348 530 345.5 515 343.7 C508 343 502 341.5 496 340 C489 337.5 483 335 477 332 C470 328 464 324 458 319 C453 315 449 310 445 304.6Z" fill="#a8a7a4"/>
<path d="M612 303.6 L700.8 324.8 C694 329 688 333 682.8 336 C676 339.5 670 342.5 664 344.6 C655 347 645 348.5 635.6 349.4 C627 350.5 619 351.5 611 352 C600 352.5 589 352 579 351 L548 346 C552 342 556 339 560 336 C563 334.5 566 333.5 569.4 332 C574 329.5 578 327 582.7 324.8 C588 321 593 317 597.8 313.5 C603 310 607 307 612 303.6Z" fill="url(#gdark2)"/>
<g fill="none" stroke-linecap="round" filter="url(#soft)">
<path d="M449.8 299.9L451.8 300.1M451.8 300.1L454.5 300.3M454.5 300.3L457.7 300.6" stroke="#d0201c" stroke-width="1.5" stroke-opacity="1"/>
<path d="M451.8 300.1h0M457.7 300.6h0" stroke="#d0201c" stroke-width="2.6" stroke-opacity="1"/>
<path d="M457.7 300.6L461.2 301.0M461.2 301.0L464.7 301.2M464.7 301.2L468.0 301.5M468.0 301.5L471.2 301.7M463.0 306.8L465.4 306.9M465.4 306.9L468.8 307.0M468.8 307.0L472.7 307.2M472.7 307.2L477.0 307.3M477.0 307.3L481.2 307.5M481.2 307.5L485.0 307.6M465.1 314.0L467.8 314.4M467.8 314.4L470.7 314.7M470.7 314.7L473.8 314.9M473.8 314.9L477.1 315.1M477.1 315.1L480.4 315.3M480.4 315.3L483.8 315.4M483.8 315.4L487.0 315.5M487.0 315.5L490.1 315.6M490.1 315.6L493.2 315.6M493.2 315.6L496.3 315.6" stroke="#e03018" stroke-width="1.5" stroke-opacity="1"/>
<path d="M464.7 301.2h0M471.2 301.7h0M465.4 306.9h0M472.7 307.2h0M481.2 307.5h0M467.8 314.4h0M473.8 314.9h0M480.4 315.3h0M487.0 315.5h0M493.2 315.6h0" stroke="#e03018" stroke-width="2.6" stroke-opacity="1"/>
<path d="M471.2 301.7L474.4 302.0M474.4 302.0L477.7 302.2M485.0 307.6L488.6 307.7M488.6 307.7L492.2 307.8M492.2 307.8L495.9 307.9M460.0 312.9L462.5 313.5M462.5 313.5L465.1 314.0M496.3 315.6L499.4 315.6M499.4 315.6L502.5 315.5M502.5 315.5L505.6 315.3M463.6 316.2L467.4 316.7M467.4 316.7L471.6 317.2M471.6 317.2L475.9 317.7M475.9 317.7L480.0 318.0M480.0 318.0L484.1 318.2M484.1 318.2L488.4 318.4M488.4 318.4L492.8 318.6M492.8 318.6L497.1 318.6" stroke="#e85018" stroke-width="1.5" stroke-opacity="1"/>
<path d="M477.7 302.2h0M488.6 307.7h0M495.9 307.9h0M499.4 315.6h0M505.6 315.3h0M467.4 316.7h0M475.9 317.7h0M484.1 318.2h0M492.8 318.6h0" stroke="#e85018" stroke-width="2.6" stroke-opacity="1"/>
<path d="M477.7 302.2L480.8 302.4M480.8 302.4L483.9 302.5M495.9 307.9L499.3 308.0M499.3 308.0L502.6 307.9M456.0 311.9L457.8 312.4M457.8 312.4L460.0 312.9M505.6 315.3L508.9 315.0M458.0 315.5L460.4 315.8M460.4 315.8L463.6 316.2M497.1 318.6L501.3 318.6M501.3 318.6L505.0 318.6M505.0 318.6L508.4 318.5" stroke="#f07018" stroke-width="1.5" stroke-opacity="1"/>
<path d="M483.9 302.5h0M502.6 307.9h0M460.0 312.9h0M460.4 315.8h0M501.3 318.6h0M508.4 318.5h0" stroke="#f07018" stroke-width="2.6" stroke-opacity="1"/>
<path d="M483.9 302.5L486.7 302.5M486.7 302.5L489.3 302.4M502.6 307.9L505.6 307.8M505.6 307.8L508.4 307.5M454.6 311.6L456.0 311.9M508.9 315.0L512.3 314.7M512.3 314.7L515.7 314.3M508.4 318.5L511.6 318.3M511.6 318.3L514.6 318.0" stroke="#f49018" stroke-width="1.5" stroke-opacity="1"/>
<path d="M489.3 302.4L491.7 302.2M508.4 307.5L511.0 307.0M511.0 307.0L513.5 306.4M515.7 314.3L519.0 313.8M514.6 318.0L517.3 317.7M517.3 317.7L519.8 317.4" stroke="#f8b018" stroke-width="1.5" stroke-opacity="1"/>
<path d="M491.7 302.2h0M519.0 313.8h0" stroke="#f8b018" stroke-width="2.6" stroke-opacity="1"/>
<path d="M491.7 302.2L494.0 302.0M494.0 302.0L496.1 301.7M513.5 306.4L515.7 305.8M515.7 305.8L517.4 305.3M519.0 313.8L522.0 313.2M519.8 317.4L522.0 317.0M522.0 317.0L523.9 316.5" stroke="#f4c814" stroke-width="1.5" stroke-opacity="1"/>
<path d="M496.1 301.7L498.1 301.4M517.4 305.3L518.8 305.0M522.0 313.2L524.5 312.5M524.5 312.5L526.5 311.6M523.9 316.5L525.6 316.0M525.6 316.0L527.1 315.4M481.3 321.3L485.0 321.5M485.0 321.5L488.4 321.7M488.4 321.7L491.8 321.9M491.8 321.9L495.1 322.0M495.1 322.0L498.5 322.1M498.5 322.1L502.0 322.1M502.0 322.1L505.6 322.0M505.6 322.0L509.6 321.7" stroke="#f0e010" stroke-width="1.5" stroke-opacity="1"/>
<path d="M498.1 301.4h0M524.5 312.5h0M485.0 321.5h0M491.8 321.9h0M498.5 322.1h0M505.6 322.0h0" stroke="#f0e010" stroke-width="2.6" stroke-opacity="1"/>
<path d="M498.1 301.4L500.0 301.0M500.0 301.0L501.9 300.6M526.5 311.6L528.0 310.6M527.1 315.4L528.3 314.8M528.3 314.8L529.2 314.3M464.0 320.0L466.3 320.2M466.3 320.2L469.5 320.4M469.5 320.4L473.2 320.7M473.2 320.7L477.3 321.0M477.3 321.0L481.3 321.3M509.6 321.7L514.0 321.4M514.0 321.4L518.5 320.9M518.5 320.9L522.8 320.4M500.8 326.7L504.8 326.7M504.8 326.7L509.0 326.7M509.0 326.7L513.5 326.6" stroke="#aadb1a" stroke-width="1.5" stroke-opacity="1"/>
<path d="M501.9 300.6L503.7 300.0M503.7 300.0L505.3 299.4M505.3 299.4L506.8 298.8M506.8 298.8L508.1 298.3M528.0 310.6L529.2 309.4M529.2 309.4L530.2 308.3M529.2 314.3L530.0 314.0M522.8 320.4L526.7 319.7M526.7 319.7L530.0 319.0M467.9 325.1L472.0 325.4M472.0 325.4L476.4 325.6M476.4 325.6L480.8 325.8M480.8 325.8L485.0 326.0M485.0 326.0L488.9 326.2M488.9 326.2L492.8 326.4M492.8 326.4L496.8 326.5M496.8 326.5L500.8 326.7M513.5 326.6L518.3 326.5M518.3 326.5L523.2 326.3M523.2 326.3L527.9 326.0M527.9 326.0L532.2 325.5" stroke="#6bd12e" stroke-width="1.5" stroke-opacity="1"/>
<path d="M503.7 300.0h0M529.2 309.4h0M530.0 319.0h0M476.4 325.6h0M485.0 326.0h0M492.8 326.4h0M500.8 326.7h0M518.3 326.5h0M527.9 326.0h0" stroke="#6bd12e" stroke-width="2.6" stroke-opacity="1"/>
<path d="M508.1 298.3L509.0 298.0M530.2 308.3L531.1 307.1M530.0 319.0L532.6 318.1M532.6 318.1L534.7 317.1M534.7 317.1L536.3 316.0M462.0 324.8L464.5 324.9M464.5 324.9L467.9 325.1M532.2 325.5L535.8 324.8M535.8 324.8L538.7 323.8M538.7 323.8L541.0 322.6M541.0 322.6L542.9 321.2" stroke="#35bf52" stroke-width="1.5" stroke-opacity="1"/>
<path d="M509.0 298.0h0M536.3 316.0h0M467.9 325.1h0M535.8 324.8h0M541.0 322.6h0" stroke="#35bf52" stroke-width="2.6" stroke-opacity="1"/>
<path d="M508.4 307.5h0M512.3 314.7h0M514.6 318.0h0" stroke="#f49018" stroke-width="2.6" stroke-opacity="1"/>
<path d="M515.7 305.8h0M522.0 317.0h0" stroke="#f4c814" stroke-width="2.6" stroke-opacity="1"/>
<path d="M531.1 307.1L532.0 306.0M532.0 306.0L532.9 304.9M532.9 304.9L533.7 303.8M536.3 316.0L537.7 314.9M537.7 314.9L538.9 313.9M538.9 313.9L540.0 313.0M540.0 313.0L540.9 312.3M542.9 321.2L544.5 319.7M544.5 319.7L545.8 318.3M545.8 318.3L547.0 317.0M547.0 317.0L547.9 315.9" stroke="#1aaf7b" stroke-width="1.5" stroke-opacity="1"/>
<path d="M532.9 304.9h0M540.9 312.3h0M545.8 318.3h0" stroke="#1aaf7b" stroke-width="2.6" stroke-opacity="1"/>
<path d="M533.7 303.8L534.4 302.7M534.4 302.7L535.0 301.7M535.0 301.7L535.4 300.8M535.4 300.8L535.8 300.2M540.9 312.3L541.6 311.8M541.6 311.8L542.0 311.3M542.0 311.3L542.3 310.9M542.3 310.9L542.6 310.4M542.6 310.4L543.0 309.7M543.0 309.7L543.4 308.8M543.4 308.8L543.8 307.8M543.8 307.8L544.2 306.6M544.2 306.6L544.5 305.6M547.9 315.9L548.4 314.8M548.4 314.8L548.6 313.8M548.6 313.8L548.7 312.9M548.7 312.9L548.8 311.9M548.8 311.9L549.0 311.0M549.0 311.0L549.2 310.1M549.2 310.1L549.4 309.1" stroke="#10a0a8" stroke-width="1.5" stroke-opacity="1"/>
<path d="M535.8 300.2h0M544.2 306.6h0M548.7 312.9h0" stroke="#10a0a8" stroke-width="2.6" stroke-opacity="1"/>
<path d="M528.3 314.8h0M469.5 320.4h0M477.3 321.0h0M514.0 321.4h0M522.8 320.4h0M509.0 326.7h0" stroke="#aadb1a" stroke-width="2.6" stroke-opacity="1"/>
<path d="M462.0 313.5L464.4 313.9M464.4 313.9L467.7 314.4M467.7 314.4L471.7 315.0M487.6 316.8L491.3 316.9M491.3 316.9L494.9 317.0M494.9 317.0L498.5 317.1M498.5 317.1L501.9 317.1" stroke="#e03018" stroke-width="1.3" stroke-opacity="1"/>
<path d="M464.4 313.9h0M471.7 315.0h0M494.9 317.0h0M501.9 317.1h0" stroke="#e03018" stroke-width="2.4" stroke-opacity="1"/>
<path d="M471.7 315.0L475.9 315.6M475.9 315.6L480.1 316.1M480.1 316.1L484.0 316.5M484.0 316.5L487.6 316.8" stroke="#d0201c" stroke-width="1.3" stroke-opacity="1"/>
<path d="M480.1 316.1h0M487.6 316.8h0" stroke="#d0201c" stroke-width="2.4" stroke-opacity="1"/>
<path d="M501.9 317.1L505.0 317.0M505.0 317.0L508.0 316.8" stroke="#e85018" stroke-width="1.3" stroke-opacity="1"/>
<path d="M508.0 316.8h0" stroke="#e85018" stroke-width="2.4" stroke-opacity="1"/>
<path d="M508.0 316.8L511.0 316.6M511.0 316.6L513.8 316.3" stroke="#f07018" stroke-width="1.3" stroke-opacity="1"/>
<path d="M513.8 316.3h0" stroke="#f07018" stroke-width="2.4" stroke-opacity="1"/>
<path d="M513.8 316.3L516.3 316.0M516.3 316.0L518.4 315.7" stroke="#f49018" stroke-width="1.3" stroke-opacity="1"/>
<path d="M518.4 315.7L520.0 315.5" stroke="#f8b018" stroke-width="1.3" stroke-opacity="1"/>
<path d="M520.0 315.5h0" stroke="#f8b018" stroke-width="2.4" stroke-opacity="1"/>
<path d="M544.5 305.6L544.8 304.6M544.8 304.6L545.0 304.0M549.4 309.1L549.6 308.1M549.6 308.1L549.8 307.3M549.8 307.3L549.9 306.5M549.9 306.5L550.0 306.0" stroke="#1081ba" stroke-width="1.5" stroke-opacity="1"/>
<path d="M549.8 307.3h0" stroke="#1081ba" stroke-width="2.6" stroke-opacity="1"/>
<path d="M467.8 323.8L471.2 324.0M471.2 324.0L476.2 324.3M476.2 324.3L481.7 324.6M481.7 324.6L486.9 324.8M486.9 324.8L491.8 324.9M491.8 324.9L496.5 324.9M471.2 326.4L474.8 326.6M474.8 326.6L480.0 326.9M480.0 326.9L485.8 327.3M485.8 327.3L491.2 327.5M491.2 327.5L496.2 327.7M496.2 327.7L501.2 327.8M501.2 327.8L506.2 327.9M506.2 327.9L511.2 327.9M511.2 327.9L516.2 328.0M516.2 328.0L521.2 328.2M521.2 328.2L526.2 328.3M526.2 328.3L531.2 328.3M531.2 328.3L536.2 328.1M536.2 328.1L541.2 327.9" stroke="#57ab25" stroke-width="1.45" stroke-opacity="1"/>
<path d="M476.2 324.3h0M481.7 324.6h0M491.8 324.9h0M480.0 326.9h0M485.8 327.3h0M496.2 327.7h0M506.2 327.9h0M516.2 328.0h0M526.2 328.3h0M536.2 328.1h0" stroke="#57ab25" stroke-width="2.55" stroke-opacity="1"/>
<path d="M496.5 324.9L501.3 324.9M501.3 324.9L506.1 324.9M506.1 324.9L510.9 324.8M510.9 324.8L515.8 324.8M515.8 324.8L520.5 324.7M520.5 324.7L525.4 324.6M525.4 324.6L530.1 324.5M530.1 324.5L535.0 324.4M535.0 324.4L539.7 324.3M539.7 324.3L544.5 324.1M544.5 324.1L549.8 324.0M549.8 324.0L555.3 323.9M555.3 323.9L560.3 323.7M560.3 323.7L563.8 323.6M541.2 327.9L546.2 327.7M546.2 327.7L551.2 327.4M551.2 327.4L556.7 327.1M556.7 327.1L562.5 326.8M562.5 326.8L567.7 326.5M567.7 326.5L571.2 326.3M475.2 329.6L479.0 329.7M479.0 329.7L484.4 329.9M484.4 329.9L490.5 330.1M490.5 330.1L496.2 330.3M496.2 330.3L501.4 330.5M501.4 330.5L506.7 330.7M506.7 330.7L511.9 330.9M479.8 332.3L483.7 332.4M483.7 332.4L489.4 332.7M489.4 332.7L495.8 332.9M495.8 332.9L501.8 333.1M501.8 333.1L507.3 333.3M507.3 333.3L512.8 333.5M512.8 333.5L518.3 333.7M518.3 333.7L523.9 333.8" stroke="#2b9c43" stroke-width="1.45" stroke-opacity="1"/>
<path d="M501.3 324.9h0M510.9 324.8h0M520.5 324.7h0M530.1 324.5h0M539.7 324.3h0M549.8 324.0h0M555.3 323.9h0M563.8 323.6h0M546.2 327.7h0M556.7 327.1h0M562.5 326.8h0M571.2 326.3h0M479.0 329.7h0M490.5 330.1h0M496.2 330.3h0M506.7 330.7h0M483.7 332.4h0M489.4 332.7h0M495.8 332.9h0M501.8 333.1h0M507.3 333.3h0M512.8 333.5h0M518.3 333.7h0M523.9 333.8h0" stroke="#2b9c43" stroke-width="2.55" stroke-opacity="1"/>
<path d="M511.9 330.9L517.1 331.1M517.1 331.1L522.4 331.2M522.4 331.2L527.6 331.2M527.6 331.2L532.9 331.1M532.9 331.1L538.1 331.0M538.1 331.0L543.3 330.9M543.3 330.9L548.6 330.7M548.6 330.7L553.8 330.5M553.8 330.5L559.0 330.2M559.0 330.2L564.8 329.9M564.8 329.9L570.8 329.6M570.8 329.6L576.2 329.3M576.2 329.3L580.0 329.1M523.9 333.8L529.4 333.8M529.4 333.8L534.9 333.9M534.9 333.9L540.4 333.8M540.4 333.8L545.9 333.8M545.9 333.8L551.4 333.7M551.4 333.7L556.9 333.6M556.9 333.6L562.4 333.4M562.4 333.4L568.0 333.2M568.0 333.2L574.0 332.9M574.0 332.9L580.4 332.6M580.4 332.6L586.0 332.2M586.0 332.2L590.0 332.0M489.5 338.2L493.7 338.4M493.7 338.4L499.8 338.5M499.8 338.5L506.7 338.7M506.7 338.7L513.1 338.9M513.1 338.9L519.1 338.9M519.1 338.9L525.0 338.9M525.0 338.9L530.9 338.9" stroke="#158f64" stroke-width="1.45" stroke-opacity="1"/>
<path d="M517.1 331.1h0M527.6 331.2h0M538.1 331.0h0M548.6 330.7h0M559.0 330.2h0M564.8 329.9h0M570.8 329.6h0M580.0 329.1h0M529.4 333.8h0M534.9 333.9h0M540.4 333.8h0M545.9 333.8h0M551.4 333.7h0M556.9 333.6h0M562.4 333.4h0M568.0 333.2h0M574.0 332.9h0M580.4 332.6h0M586.0 332.2h0M499.8 338.5h0M506.7 338.7h0M513.1 338.9h0M519.1 338.9h0M525.0 338.9h0M530.9 338.9h0" stroke="#158f64" stroke-width="2.55" stroke-opacity="1"/>
<path d="M484.5 335.5L488.6 335.7M488.6 335.7L494.5 336.0M494.5 336.0L501.2 336.2M501.2 336.2L507.4 336.4M507.4 336.4L513.2 336.5M513.2 336.5L518.9 336.4M518.9 336.4L524.7 336.3M524.7 336.3L530.4 336.2M530.4 336.2L536.1 336.2M536.1 336.2L541.9 336.1M541.9 336.1L547.6 336.0M547.6 336.0L553.4 335.9M553.4 335.9L559.1 335.8M559.1 335.8L564.8 335.7M564.8 335.7L570.6 335.6M570.6 335.6L576.3 335.4M576.3 335.4L582.6 335.1M582.6 335.1L589.2 334.8M589.2 334.8L595.1 334.5M595.1 334.5L599.2 334.3M530.9 338.9L536.8 338.9M536.8 338.9L542.7 338.9M542.7 338.9L548.6 338.9M548.6 338.9L554.5 338.8M554.5 338.8L560.5 338.8M560.5 338.8L566.4 338.8M566.4 338.8L572.3 338.8M572.3 338.8L578.2 338.7M578.2 338.7L584.1 338.5M584.1 338.5L590.6 338.1M590.6 338.1L597.4 337.6M597.4 337.6L603.5 337.0M603.5 337.0L607.8 336.6" stroke="#0d8389" stroke-width="1.45" stroke-opacity="1"/>
<path d="M488.6 335.7h0M494.5 336.0h0M501.2 336.2h0M507.4 336.4h0M513.2 336.5h0M518.9 336.4h0M524.7 336.3h0M530.4 336.2h0M536.1 336.2h0M541.9 336.1h0M547.6 336.0h0M553.4 335.9h0M559.1 335.8h0M564.8 335.7h0M570.6 335.6h0M576.3 335.4h0M582.6 335.1h0M589.2 334.8h0M595.1 334.5h0M536.8 338.9h0M542.7 338.9h0M548.6 338.9h0M554.5 338.8h0M560.5 338.8h0M566.4 338.8h0M572.3 338.8h0M578.2 338.7h0M584.1 338.5h0M590.6 338.1h0M597.4 337.6h0M603.5 337.0h0" stroke="#0d8389" stroke-width="2.55" stroke-opacity="1"/>
<path d="M495.0 341.4L499.3 341.4M499.3 341.4L505.4 341.5M505.4 341.5L512.2 341.6M512.2 341.6L518.7 341.7M518.7 341.7L524.6 341.8M524.6 341.8L530.6 341.8M530.6 341.8L536.5 341.8M536.5 341.8L542.4 341.9M542.4 341.9L548.3 342.0M548.3 342.0L554.2 342.1M554.2 342.1L560.2 342.2M560.2 342.2L566.1 342.2M566.1 342.2L572.0 342.0M572.0 342.0L578.0 341.7M578.0 341.7L583.9 341.4M583.9 341.4L589.8 341.1M589.8 341.1L596.3 340.8M596.3 340.8L603.1 340.6M603.1 340.6L609.2 340.4" stroke="#0d6998" stroke-width="1.45" stroke-opacity="1"/>
<path d="M499.3 341.4h0M505.4 341.5h0M512.2 341.6h0M518.7 341.7h0M524.6 341.8h0M530.6 341.8h0M536.5 341.8h0M542.4 341.9h0M548.3 342.0h0M554.2 342.1h0M560.2 342.2h0M566.1 342.2h0M572.0 342.0h0M578.0 341.7h0M583.9 341.4h0M589.8 341.1h0M596.3 340.8h0M603.1 340.6h0M609.2 340.4h0" stroke="#0d6998" stroke-width="2.55" stroke-opacity="1"/>
<path d="M609.2 340.4L613.5 340.2M501.0 344.2L505.2 344.3M505.2 344.3L511.1 344.4M511.1 344.4L517.8 344.5" stroke="#0d4fa4" stroke-width="1.45" stroke-opacity="1"/>
<path d="M511.1 344.4h0M517.8 344.5h0" stroke="#0d4fa4" stroke-width="2.55" stroke-opacity="1"/>
<path d="M517.8 344.5L524.1 344.7M524.1 344.7L529.9 344.9M529.9 344.9L535.7 345.1M535.7 345.1L541.4 345.3M541.4 345.3L547.2 345.4M547.2 345.4L553.0 345.4M553.0 345.4L558.8 345.3M558.8 345.3L564.5 345.2M564.5 345.2L570.3 345.1M570.3 345.1L576.1 345.0M576.1 345.0L581.8 344.8M581.8 344.8L587.6 344.7M587.6 344.7L593.4 344.6M593.4 344.6L599.7 344.4M599.7 344.4L606.4 344.3M606.4 344.3L612.3 344.2M612.3 344.2L616.5 344.1" stroke="#1232a4" stroke-width="1.45" stroke-opacity="1"/>
<path d="M524.1 344.7h0M529.9 344.9h0M535.7 345.1h0M541.4 345.3h0M547.2 345.4h0M553.0 345.4h0M558.8 345.3h0M564.5 345.2h0M570.3 345.1h0M576.1 345.0h0M581.8 344.8h0M587.6 344.7h0M593.4 344.6h0M599.7 344.4h0M606.4 344.3h0M612.3 344.2h0" stroke="#1232a4" stroke-width="2.55" stroke-opacity="1"/>
<path d="M508.5 346.0L512.4 346.3M512.4 346.3L517.9 346.8M517.9 346.8L524.2 347.2M524.2 347.2L530.1 347.6M530.1 347.6L535.5 347.8M535.5 347.8L540.9 347.9M540.9 347.9L546.3 348.0M546.3 348.0L551.7 348.1M551.7 348.1L557.1 348.2M557.1 348.2L562.5 348.3M562.5 348.3L567.9 348.5M567.9 348.5L573.3 348.5M573.3 348.5L578.7 348.6M578.7 348.6L584.1 348.6M584.1 348.6L589.5 348.6M589.5 348.6L594.9 348.5M594.9 348.5L600.8 348.3M600.8 348.3L607.1 348.0M607.1 348.0L612.6 347.8M612.6 347.8L616.5 347.6M517.5 348.0L521.0 348.3M521.0 348.3L525.9 348.8M525.9 348.8L531.5 349.3M531.5 349.3L536.7 349.7M536.7 349.7L541.5 350.1M541.5 350.1L546.3 350.5M546.3 350.5L551.1 350.9M551.1 350.9L555.9 351.2M555.9 351.2L560.7 351.5M560.7 351.5L565.5 351.7M565.5 351.7L570.3 351.8M570.3 351.8L575.1 352.0M575.1 352.0L579.9 352.0M579.9 352.0L584.7 352.1M584.7 352.1L589.5 352.1M589.5 352.1L594.3 352.1M594.3 352.1L599.5 352.1M599.5 352.1L605.1 352.1M605.1 352.1L610.0 352.0M610.0 352.0L613.5 352.0" stroke="#111f9a" stroke-width="1.45" stroke-opacity="1"/>
<path d="M517.9 346.8h0M524.2 347.2h0M530.1 347.6h0M540.9 347.9h0M551.7 348.1h0M562.5 348.3h0M573.3 348.5h0M584.1 348.6h0M594.9 348.5h0M600.8 348.3h0M607.1 348.0h0M612.6 347.8h0M525.9 348.8h0M531.5 349.3h0M541.5 350.1h0M551.1 350.9h0M560.7 351.5h0M570.3 351.8h0M579.9 352.0h0M589.5 352.1h0M599.5 352.1h0M605.1 352.1h0M613.5 352.0h0" stroke="#111f9a" stroke-width="2.55" stroke-opacity="1"/>
<path d="M542.0 300.0L541.8 301.0M541.8 301.0L541.5 302.3M554.0 303.0L553.8 304.0M553.8 304.0L553.5 305.5M558.0 305.0L557.8 305.9M557.8 305.9L557.5 307.1M562.0 304.0L561.8 304.8M561.8 304.8L561.5 305.8M566.0 307.0L565.8 307.7M565.8 307.7L565.5 308.7M570.0 310.0L569.8 310.7M569.8 310.7L569.5 311.6" stroke="#1081ba" stroke-width="1.2" stroke-opacity="1"/>
<path d="M541.5 302.3L541.2 303.9M541.2 303.9L540.8 305.7M540.8 305.7L540.4 307.4M540.4 307.4L540.0 309.0M540.0 309.0L539.5 310.6M539.5 310.6L539.0 312.3M539.0 312.3L538.4 314.1M538.4 314.1L537.8 315.7M537.8 315.7L537.3 317.0M537.3 317.0L537.0 318.0M553.5 305.5L553.2 307.2M553.2 307.2L552.8 309.0M552.8 309.0L552.4 310.8M552.4 310.8L552.0 312.5M552.0 312.5L551.5 314.2M551.5 314.2L551.0 316.0M551.0 316.0L550.4 317.8M550.4 317.8L549.8 319.5M549.8 319.5L549.3 321.0M549.3 321.0L549.0 322.0M557.5 307.1L557.2 308.5M557.2 308.5L556.8 310.0M556.8 310.0L556.4 311.6M556.4 311.6L556.0 313.0M556.0 313.0L555.5 314.4M555.5 314.4L555.0 316.0M555.0 316.0L554.4 317.5M554.4 317.5L553.8 318.9M553.8 318.9L553.3 320.1M553.3 320.1L553.0 321.0M561.5 305.8L561.2 307.1M561.2 307.1L560.8 308.4M560.8 308.4L560.4 309.8M560.4 309.8L560.0 311.0M560.0 311.0L559.5 312.2M559.5 312.2L559.0 313.6M559.0 313.6L558.4 314.9M558.4 314.9L557.8 316.2M557.8 316.2L557.3 317.2M557.3 317.2L557.0 318.0M565.5 308.7L565.2 309.8M565.2 309.8L564.8 311.1M564.8 311.1L564.4 312.3M564.4 312.3L564.0 313.5M564.0 313.5L563.5 314.7M563.5 314.7L563.0 315.9M563.0 315.9L562.4 317.2M562.4 317.2L561.8 318.3M561.8 318.3L561.3 319.3M561.3 319.3L561.0 320.0M569.5 311.6L569.2 312.6M569.2 312.6L568.8 313.8M568.8 313.8L568.4 314.9M568.4 314.9L568.0 316.0M568.0 316.0L567.5 317.1M567.5 317.1L567.0 318.2M567.0 318.2L566.4 319.4M566.4 319.4L565.8 320.4M565.8 320.4L565.3 321.3M565.3 321.3L565.0 322.0" stroke="#10a0a8" stroke-width="1.2" stroke-opacity="1"/>
<path d="M542.8 324.5L543.7 324.4M543.7 324.4L544.9 324.2M544.9 324.2L546.4 324.0M546.4 324.0L548.0 323.7M548.0 323.7L549.5 323.5M549.5 323.5L550.9 323.2M550.9 323.2L552.2 322.9M552.2 322.9L553.5 322.6M553.5 322.6L554.7 322.2M554.7 322.2L555.9 321.8M555.9 321.8L557.1 321.6M557.1 321.6L558.2 321.6M558.2 321.6L559.4 321.8M559.4 321.8L560.7 322.3M560.7 322.3L561.9 322.8M561.9 322.8L563.0 323.4M563.0 323.4L563.9 323.9M534.5 328.2L535.4 328.0M535.4 328.0L536.6 327.7M536.6 327.7L538.1 327.4M538.1 327.4L539.7 327.1M539.7 327.1L541.2 326.9M541.2 326.9L542.6 327.0M542.6 327.0L543.9 327.4M543.9 327.4L545.2 328.0M545.2 328.0L546.4 328.9M546.4 328.9L547.7 329.7M547.7 329.7L548.9 330.3M548.9 330.3L550.2 330.6M550.2 330.6L551.6 330.5M551.6 330.5L553.2 330.1M553.2 330.1L554.7 329.6M554.7 329.6L556.2 328.9M556.2 328.9L557.4 328.4M543.9 324.0L544.7 324.0M544.7 324.0L545.7 324.2M545.7 324.2L547.0 324.3M547.0 324.3L548.3 324.5M548.3 324.5L549.6 324.7M549.6 324.7L550.8 324.8M550.8 324.8L551.7 324.8M551.7 324.8L552.5 324.9M552.5 324.9L553.3 324.9M553.3 324.9L554.1 324.9M554.1 324.9L555.1 324.9M555.1 324.9L556.3 324.9M556.3 324.9L557.9 324.9M557.9 324.9L559.8 324.9M559.8 324.9L562.0 324.9M562.0 324.9L564.0 324.9M564.0 324.9L565.8 324.9M537.6 327.5L538.1 327.5M538.1 327.5L538.7 327.5M538.7 327.5L539.4 327.6M539.4 327.6L540.3 327.6M540.3 327.6L541.2 327.5M541.2 327.5L542.4 327.4M542.4 327.4L543.7 327.0M543.7 327.0L545.1 326.4M545.1 326.4L546.7 325.7M546.7 325.7L548.4 325.1M548.4 325.1L550.1 324.6M550.1 324.6L551.9 324.5M551.9 324.5L553.8 324.8M553.8 324.8L556.1 325.4M556.1 325.4L558.3 326.2M558.3 326.2L560.5 327.0M560.5 327.0L562.3 327.7M534.3 328.5L535.1 328.8M535.1 328.8L536.2 329.2M536.2 329.2L537.5 329.7M537.5 329.7L539.0 330.1M539.0 330.1L540.4 330.4M540.4 330.4L541.8 330.6M541.8 330.6L543.1 330.4M543.1 330.4L544.3 330.1M544.3 330.1L545.6 329.7M545.6 329.7L546.9 329.2M546.9 329.2L548.2 328.8M548.2 328.8L549.7 328.5M549.7 328.5L551.4 328.4M551.4 328.4L553.4 328.3M553.4 328.3L555.4 328.3M555.4 328.3L557.4 328.3M557.4 328.3L559.0 328.3M540.0 323.6L540.5 323.9M540.5 323.9L541.3 324.3M541.3 324.3L542.3 324.8M542.3 324.8L543.3 325.3M543.3 325.3L544.4 325.6M544.4 325.6L545.6 325.8M545.6 325.8L546.8 325.6M546.8 325.6L548.2 325.3M548.2 325.3L549.7 324.9M549.7 324.9L551.2 324.4M551.2 324.4L552.6 323.9M552.6 323.9L554.0 323.6M554.0 323.6L555.4 323.4M555.4 323.4L556.9 323.3M556.9 323.3L558.4 323.3M558.4 323.3L559.8 323.2M559.8 323.2L560.9 323.2" stroke="#1325b2" stroke-width="1" stroke-opacity="1"/>
<path d="M563.9 323.9L564.6 324.3M557.4 328.4L558.3 328.1M565.8 324.9L567.0 324.9M562.3 327.7L563.6 328.2M559.0 328.3L560.2 328.3M560.9 323.2L561.8 323.2" stroke="#143abe" stroke-width="1" stroke-opacity="1"/>
<path d="M610.0 282.3L611.3 282.8M611.3 282.8L613.1 283.4M630.6 289.4L633.0 290.1M633.0 290.1L635.6 290.8M635.6 290.8L638.6 291.5M632.6 295.9L635.6 296.4M635.6 296.4L639.1 297.0M630.9 291.8L634.0 292.4M634.0 292.4L637.1 293.0M637.1 293.0L640.0 293.6" stroke="#d29514" stroke-width="1.8" stroke-opacity="1"/>
<path d="M613.1 283.4L615.1 284.1M615.1 284.1L617.4 284.9M617.4 284.9L619.8 285.7M619.8 285.7L622.0 286.5M622.0 286.5L624.1 287.2M624.1 287.2L626.2 287.9M626.2 287.9L628.4 288.7M628.4 288.7L630.6 289.4M605.3 289.0L606.9 289.4M606.9 289.4L609.1 290.1M609.1 290.1L611.7 290.8M611.7 290.8L614.5 291.6M614.5 291.6L617.3 292.3M617.3 292.3L620.0 293.0M620.0 293.0L622.5 293.6M622.5 293.6L624.9 294.2M624.9 294.2L627.3 294.8M627.3 294.8L629.9 295.3M629.9 295.3L632.6 295.9M610.8 286.6L613.4 287.4M613.4 287.4L616.2 288.2M616.2 288.2L619.2 289.1M619.2 289.1L622.0 289.8M622.0 289.8L624.8 290.5M624.8 290.5L627.9 291.1M627.9 291.1L630.9 291.8" stroke="#cf7a14" stroke-width="1.8" stroke-opacity="1"/>
<path d="M615.1 284.1h0M622.0 286.5h0M628.4 288.7h0M606.9 289.4h0M614.5 291.6h0M620.0 293.0h0M627.3 294.8h0M616.2 288.2h0M622.0 289.8h0M627.9 291.1h0" stroke="#cf7a14" stroke-width="2.9" stroke-opacity="1"/>
<path d="M635.6 290.8h0M635.6 296.4h0M634.0 292.4h0M640.0 293.6h0" stroke="#d29514" stroke-width="2.9" stroke-opacity="1"/>
<path d="M638.6 291.5L641.9 292.3M641.9 292.3L645.3 293.0M639.1 297.0L643.0 297.6M643.0 297.6L647.1 298.1M640.0 293.6L643.0 294.2M643.0 294.2L646.1 294.8M646.1 294.8L649.1 295.4" stroke="#cfaa11" stroke-width="1.8" stroke-opacity="1"/>
<path d="M641.9 292.3h0M643.0 297.6h0M646.1 294.8h0" stroke="#cfaa11" stroke-width="2.9" stroke-opacity="1"/>
<path d="M645.3 293.0L648.7 293.7M647.1 298.1L651.1 298.7M649.1 295.4L651.9 296.0M651.9 296.0L654.3 296.5" stroke="#ccbe0d" stroke-width="1.8" stroke-opacity="1"/>
<path d="M648.7 293.7h0M651.1 298.7h0M651.9 296.0h0" stroke="#ccbe0d" stroke-width="2.9" stroke-opacity="1"/>
<path d="M648.7 293.7L651.8 294.2M651.1 298.7L654.8 299.1M654.3 296.5L656.0 296.8" stroke="#90ba16" stroke-width="1.8" stroke-opacity="1"/>
<path d="M651.8 294.2L654.5 294.6M654.5 294.6L656.7 294.8M654.8 299.1L658.0 299.3M658.0 299.3L660.6 299.4" stroke="#5ab127" stroke-width="1.8" stroke-opacity="1"/>
<path d="M654.5 294.6h0M658.0 299.3h0" stroke="#5ab127" stroke-width="2.9" stroke-opacity="1"/>
<path d="M656.7 294.8L658.5 294.8M660.6 299.4L662.7 299.3" stroke="#2da245" stroke-width="1.8" stroke-opacity="1"/>
<path d="M658.5 294.8L660.1 294.7M660.1 294.7L661.5 294.6M662.7 299.3L664.5 299.0M664.5 299.0L666.1 298.7" stroke="#169468" stroke-width="1.8" stroke-opacity="1"/>
<path d="M660.1 294.7h0M664.5 299.0h0" stroke="#169468" stroke-width="2.9" stroke-opacity="1"/>
<path d="M661.5 294.6L662.8 294.3M666.1 298.7L667.6 298.4" stroke="#0d888e" stroke-width="1.8" stroke-opacity="1"/>
<path d="M662.8 294.3L664.0 294.0M664.0 294.0L665.2 293.7M667.6 298.4L669.0 298.0M669.0 298.0L670.4 297.6" stroke="#0d6d9e" stroke-width="1.8" stroke-opacity="1"/>
<path d="M665.2 293.7L666.4 293.3M666.4 293.3L667.5 292.8M670.4 297.6L671.7 297.1M671.7 297.1L672.8 296.6" stroke="#0e52aa" stroke-width="1.8" stroke-opacity="1"/>
<path d="M666.4 293.3h0" stroke="#0e52aa" stroke-width="2.9" stroke-opacity="1"/>
<path d="M667.5 292.8L668.4 292.2M668.4 292.2L669.1 291.6M672.8 296.6L673.8 296.0M673.8 296.0L674.5 295.3" stroke="#1234aa" stroke-width="1.8" stroke-opacity="1"/>
<path d="M669.1 291.6L669.6 290.8M669.6 290.8L669.7 289.8M669.7 289.8L669.5 288.6M669.5 288.6L669.0 287.3M669.0 287.3L668.5 286.0M668.5 286.0L668.0 285.0M668.0 285.0L667.7 284.2M674.5 295.3L675.0 294.6M675.0 294.6L675.1 293.7M675.1 293.7L674.9 292.7M674.9 292.7L674.4 291.6M674.4 291.6L673.8 290.5M673.8 290.5L673.3 289.6M673.3 289.6L673.0 289.0" stroke="#11219f" stroke-width="1.8" stroke-opacity="1"/>
<path d="M669.5 288.6h0M675.0 294.6h0M673.0 289.0h0" stroke="#11219f" stroke-width="2.9" stroke-opacity="1"/>
<path d="M670.4 297.6h0" stroke="#0d6d9e" stroke-width="2.9" stroke-opacity="1"/>
<path d="M607.0 285.5L608.6 286.0M608.6 286.0L610.8 286.6" stroke="#cc5f14" stroke-width="1.8" stroke-opacity="1"/>
<path d="M608.6 286.0h0" stroke="#cc5f14" stroke-width="2.9" stroke-opacity="1"/>
<path d="M590.0 304.0L592.9 304.3M592.9 304.3L596.9 304.8M596.9 304.8L601.6 305.3" stroke="#e78816" stroke-width="1.5" stroke-opacity="1"/>
<path d="M592.9 304.3h0M601.6 305.3h0" stroke="#e78816" stroke-width="2.6" stroke-opacity="1"/>
<path d="M601.6 305.3L606.7 305.8M606.7 305.8L611.8 306.4M611.8 306.4L616.7 306.8M616.7 306.8L621.4 307.2M621.4 307.2L626.4 307.5" stroke="#eba716" stroke-width="1.5" stroke-opacity="1"/>
<path d="M611.8 306.4h0M621.4 307.2h0" stroke="#eba716" stroke-width="2.6" stroke-opacity="1"/>
<path d="M626.4 307.5L631.3 307.9M631.3 307.9L636.2 308.2" stroke="#e7be13" stroke-width="1.5" stroke-opacity="1"/>
<path d="M631.3 307.9h0" stroke="#e7be13" stroke-width="2.6" stroke-opacity="1"/>
<path d="M636.2 308.2L640.8 308.4M640.8 308.4L645.0 308.7M645.0 308.7L648.8 308.9" stroke="#e4d40f" stroke-width="1.5" stroke-opacity="1"/>
<path d="M640.8 308.4h0M648.8 308.9h0" stroke="#e4d40f" stroke-width="2.6" stroke-opacity="1"/>
<path d="M648.8 308.9L652.3 309.2M652.3 309.2L655.5 309.3" stroke="#a1d018" stroke-width="1.5" stroke-opacity="1"/>
<path d="M655.5 309.3h0" stroke="#a1d018" stroke-width="2.6" stroke-opacity="1"/>
<path d="M655.5 309.3L658.5 309.5M658.5 309.5L661.3 309.6" stroke="#65c62b" stroke-width="1.5" stroke-opacity="1"/>
<path d="M661.3 309.6h0" stroke="#65c62b" stroke-width="2.6" stroke-opacity="1"/>
<path d="M661.3 309.6L664.0 309.7M664.0 309.7L666.5 309.7" stroke="#32b54d" stroke-width="1.5" stroke-opacity="1"/>
<path d="M666.5 309.7L669.0 309.7" stroke="#18a674" stroke-width="1.5" stroke-opacity="1"/>
<path d="M669.0 309.7h0" stroke="#18a674" stroke-width="2.6" stroke-opacity="1"/>
<path d="M669.0 309.7L671.2 309.6" stroke="#0f989f" stroke-width="1.5" stroke-opacity="1"/>
<path d="M671.2 309.6L673.1 309.5" stroke="#0f7ab0" stroke-width="1.5" stroke-opacity="1"/>
<path d="M673.1 309.5L674.8 309.4" stroke="#105cbe" stroke-width="1.5" stroke-opacity="1"/>
<path d="M674.8 309.4h0" stroke="#105cbe" stroke-width="2.6" stroke-opacity="1"/>
<path d="M674.8 309.4L676.0 309.3" stroke="#143abe" stroke-width="1.5" stroke-opacity="1"/>
<path d="M580.8 309.7L583.6 309.9M583.6 309.9L587.3 310.2M587.3 310.2L591.8 310.6" stroke="#df9e15" stroke-width="1.5" stroke-opacity="1"/>
<path d="M583.6 309.9h0M591.8 310.6h0" stroke="#df9e15" stroke-width="2.6" stroke-opacity="1"/>
<path d="M591.8 310.6L596.8 310.9M596.8 310.9L601.9 311.3M601.9 311.3L607.0 311.6" stroke="#dbb412" stroke-width="1.5" stroke-opacity="1"/>
<path d="M601.9 311.3h0" stroke="#dbb412" stroke-width="2.6" stroke-opacity="1"/>
<path d="M607.0 311.6L612.2 311.9M612.2 311.9L617.8 312.1M617.8 312.1L623.6 312.4M623.6 312.4L629.3 312.6" stroke="#d8c90e" stroke-width="1.5" stroke-opacity="1"/>
<path d="M612.2 311.9h0M617.8 312.1h0M623.6 312.4h0M629.3 312.6h0" stroke="#d8c90e" stroke-width="2.6" stroke-opacity="1"/>
<path d="M629.3 312.6L634.9 312.8M634.9 312.8L640.0 313.0M640.0 313.0L644.9 313.1M644.9 313.1L649.9 313.3" stroke="#99c517" stroke-width="1.5" stroke-opacity="1"/>
<path d="M634.9 312.8h0M644.9 313.1h0" stroke="#99c517" stroke-width="2.6" stroke-opacity="1"/>
<path d="M649.9 313.3L654.6 313.3M654.6 313.3L658.8 313.4M658.8 313.4L662.4 313.5M662.4 313.5L665.0 313.5" stroke="#60bc29" stroke-width="1.5" stroke-opacity="1"/>
<path d="M654.6 313.3h0M662.4 313.5h0" stroke="#60bc29" stroke-width="2.6" stroke-opacity="1"/>
<path d="M572.5 319.0L577.1 319.1M577.1 319.1L583.8 319.1M583.8 319.1L591.2 319.2M591.2 319.2L598.3 319.3M598.3 319.3L604.7 319.4M604.7 319.4L611.1 319.5" stroke="#7a9d12" stroke-width="1.5" stroke-opacity="1"/>
<path d="M577.1 319.1h0M583.8 319.1h0M591.2 319.2h0M598.3 319.3h0M604.7 319.4h0M611.1 319.5h0" stroke="#7a9d12" stroke-width="2.6" stroke-opacity="1"/>
<path d="M611.1 319.5L617.6 319.6M617.6 319.6L624.0 319.7M624.0 319.7L630.4 319.6M630.4 319.6L636.9 319.6M636.9 319.6L643.3 319.5M643.3 319.5L649.8 319.4M569.5 322.0L574.2 322.3M574.2 322.3L581.0 322.7M581.0 322.7L588.5 323.0" stroke="#4d9621" stroke-width="1.5" stroke-opacity="1"/>
<path d="M617.6 319.6h0M624.0 319.7h0M630.4 319.6h0M636.9 319.6h0M643.3 319.5h0M649.8 319.4h0M574.2 322.3h0M581.0 322.7h0M588.5 323.0h0" stroke="#4d9621" stroke-width="2.6" stroke-opacity="1"/>
<path d="M649.8 319.4L656.2 319.4M656.2 319.4L662.6 319.4M662.6 319.4L669.1 319.4M669.1 319.4L675.5 319.3M588.5 323.0L595.7 323.3M595.7 323.3L602.2 323.4M602.2 323.4L608.8 323.5M608.8 323.5L615.3 323.5M615.3 323.5L621.9 323.4M621.9 323.4L628.4 323.3M628.4 323.3L635.0 323.2M635.0 323.2L641.5 323.1M641.5 323.1L648.1 323.0M566.5 325.2L571.2 325.3M571.2 325.3L578.0 325.4M578.0 325.4L585.6 325.5M585.6 325.5L592.8 325.7M592.8 325.7L599.4 326.0M599.4 326.0L605.9 326.3M605.9 326.3L612.5 326.6M612.5 326.6L619.1 326.8M619.1 326.8L625.7 326.8M625.7 326.8L632.2 326.8M563.5 328.6L568.2 328.7M568.2 328.7L574.9 328.9M574.9 328.9L582.5 329.1M582.5 329.1L589.6 329.2M589.6 329.2L596.1 329.3M596.1 329.3L602.7 329.5M602.7 329.5L609.2 329.5M609.2 329.5L615.7 329.5M615.7 329.5L622.2 329.4" stroke="#26893b" stroke-width="1.5" stroke-opacity="1"/>
<path d="M656.2 319.4h0M662.6 319.4h0M669.1 319.4h0M675.5 319.3h0M595.7 323.3h0M602.2 323.4h0M608.8 323.5h0M615.3 323.5h0M621.9 323.4h0M628.4 323.3h0M635.0 323.2h0M641.5 323.1h0M648.1 323.0h0M571.2 325.3h0M578.0 325.4h0M585.6 325.5h0M592.8 325.7h0M599.4 326.0h0M605.9 326.3h0M612.5 326.6h0M619.1 326.8h0M625.7 326.8h0M632.2 326.8h0M568.2 328.7h0M574.9 328.9h0M582.5 329.1h0M589.6 329.2h0M596.1 329.3h0M602.7 329.5h0M609.2 329.5h0M615.7 329.5h0M622.2 329.4h0" stroke="#26893b" stroke-width="2.6" stroke-opacity="1"/>
<path d="M675.5 319.3L682.6 319.1M682.6 319.1L690.0 318.9M690.0 318.9L696.6 318.6M696.6 318.6L701.3 318.5M648.1 323.0L654.6 322.9M654.6 322.9L661.1 322.9M661.1 322.9L667.7 322.8M667.7 322.8L674.2 322.7M632.2 326.8L638.8 326.8M638.8 326.8L645.4 326.6M645.4 326.6L652.0 326.4M652.0 326.4L658.5 326.0M658.5 326.0L665.1 325.6M622.2 329.4L628.8 329.3M628.8 329.3L635.3 329.1M635.3 329.1L641.8 329.0M641.8 329.0L648.3 328.9M648.3 328.9L654.8 328.8M560.5 332.5L565.1 332.4" stroke="#127e58" stroke-width="1.5" stroke-opacity="1"/>
<path d="M682.6 319.1h0M690.0 318.9h0M696.6 318.6h0M654.6 322.9h0M661.1 322.9h0M667.7 322.8h0M674.2 322.7h0M638.8 326.8h0M645.4 326.6h0M652.0 326.4h0M658.5 326.0h0M665.1 325.6h0M628.8 329.3h0M635.3 329.1h0M641.8 329.0h0M648.3 328.9h0M654.8 328.8h0" stroke="#127e58" stroke-width="2.6" stroke-opacity="1"/>
<path d="M674.2 322.7L681.4 322.6M681.4 322.6L689.0 322.4M689.0 322.4L695.7 322.2M695.7 322.2L700.4 322.1M665.1 325.6L671.7 325.4M671.7 325.4L678.9 325.3M678.9 325.3L686.5 325.2M686.5 325.2L693.3 325.2M693.3 325.2L698.0 325.2M654.8 328.8L661.4 328.8M661.4 328.8L667.9 328.7M667.9 328.7L675.0 328.6M675.0 328.6L682.6 328.4M682.6 328.4L689.3 328.3M565.1 332.4L571.7 332.4M571.7 332.4L579.0 332.3M579.0 332.3L586.0 332.3M586.0 332.3L592.4 332.4M592.4 332.4L598.8 332.5M598.8 332.5L605.1 332.6M605.1 332.6L611.5 332.8M611.5 332.8L617.9 332.8M617.9 332.8L624.2 332.8M624.2 332.8L630.6 332.8M630.6 332.8L637.0 332.9M637.0 332.9L643.4 333.0M557.5 336.4L561.9 336.5M561.9 336.5L568.2 336.5M568.2 336.5L575.3 336.6M575.3 336.6L582.0 336.7M582.0 336.7L588.1 336.9M588.1 336.9L594.2 337.2M594.2 337.2L600.4 337.4M600.4 337.4L606.5 337.6" stroke="#0b7378" stroke-width="1.5" stroke-opacity="1"/>
<path d="M681.4 322.6h0M689.0 322.4h0M695.7 322.2h0M671.7 325.4h0M678.9 325.3h0M686.5 325.2h0M693.3 325.2h0M661.4 328.8h0M667.9 328.7h0M675.0 328.6h0M682.6 328.4h0M689.3 328.3h0M571.7 332.4h0M579.0 332.3h0M586.0 332.3h0M592.4 332.4h0M598.8 332.5h0M605.1 332.6h0M611.5 332.8h0M617.9 332.8h0M624.2 332.8h0M630.6 332.8h0M637.0 332.9h0M643.4 333.0h0M561.9 336.5h0M568.2 336.5h0M575.3 336.6h0M582.0 336.7h0M588.1 336.9h0M594.2 337.2h0M600.4 337.4h0M606.5 337.6h0" stroke="#0b7378" stroke-width="2.6" stroke-opacity="1"/>
<path d="M689.3 328.3L694.0 328.2M643.4 333.0L649.8 333.1M649.8 333.1L656.1 333.2M656.1 333.2L662.5 333.3M662.5 333.3L669.5 333.1M669.5 333.1L676.8 332.9M676.8 332.9L683.4 332.6M606.5 337.6L612.6 337.7M612.6 337.7L618.8 337.8M618.8 337.8L624.9 337.8M624.9 337.8L631.0 337.8M631.0 337.8L637.1 337.8M637.1 337.8L643.2 337.8M643.2 337.8L649.4 337.8M649.4 337.8L655.5 337.7M557.0 340.4L561.1 340.5M561.1 340.5L567.0 340.5M567.0 340.5L573.5 340.6M573.5 340.6L579.8 340.7M579.8 340.7L585.4 340.8M585.4 340.8L591.1 341.0M591.1 341.0L596.8 341.2M596.8 341.2L602.5 341.3M602.5 341.3L608.2 341.4M608.2 341.4L613.9 341.6M613.9 341.6L619.6 341.7M619.6 341.7L625.2 341.8" stroke="#0b5c85" stroke-width="1.5" stroke-opacity="1"/>
<path d="M649.8 333.1h0M656.1 333.2h0M662.5 333.3h0M669.5 333.1h0M676.8 332.9h0M683.4 332.6h0M612.6 337.7h0M618.8 337.8h0M624.9 337.8h0M631.0 337.8h0M637.1 337.8h0M643.2 337.8h0M649.4 337.8h0M655.5 337.7h0M561.1 340.5h0M567.0 340.5h0M573.5 340.6h0M579.8 340.7h0M585.4 340.8h0M591.1 341.0h0M596.8 341.2h0M602.5 341.3h0M608.2 341.4h0M613.9 341.6h0M619.6 341.7h0M625.2 341.8h0" stroke="#0b5c85" stroke-width="2.6" stroke-opacity="1"/>
<path d="M683.4 332.6L688.0 332.5M655.5 337.7L662.2 337.5M662.2 337.5L669.3 337.2M669.3 337.2L675.6 337.0M675.6 337.0L680.0 336.8M625.2 341.8L630.9 341.7M630.9 341.7L636.6 341.6M636.6 341.6L642.3 341.4M642.3 341.4L648.0 341.2M648.0 341.2L654.2 341.1M654.2 341.1L660.8 340.9M660.8 340.9L666.7 340.7M666.7 340.7L670.8 340.6" stroke="#0c4590" stroke-width="1.5" stroke-opacity="1"/>
<path d="M662.2 337.5h0M669.3 337.2h0M675.6 337.0h0M630.9 341.7h0M636.6 341.6h0M642.3 341.4h0M648.0 341.2h0M654.2 341.1h0M660.8 340.9h0M666.7 340.7h0" stroke="#0c4590" stroke-width="2.6" stroke-opacity="1"/>
<path d="M559.0 344.3L562.6 344.4M562.6 344.4L567.9 344.6M567.9 344.6L573.7 344.7M573.7 344.7L579.2 344.9M579.2 344.9L584.3 345.1M584.3 345.1L589.4 345.3M589.4 345.3L594.4 345.5M594.4 345.5L599.5 345.6M599.5 345.6L604.6 345.7M604.6 345.7L609.6 345.7M609.6 345.7L614.7 345.6M614.7 345.6L619.8 345.6M619.8 345.6L624.8 345.5M624.8 345.5L629.9 345.4M629.9 345.4L634.9 345.2M634.9 345.2L640.0 345.1M640.0 345.1L645.5 344.9" stroke="#0f2c90" stroke-width="1.5" stroke-opacity="1"/>
<path d="M562.6 344.4h0M573.7 344.7h0M579.2 344.9h0M589.4 345.3h0M599.5 345.6h0M609.6 345.7h0M619.8 345.6h0M629.9 345.4h0M640.0 345.1h0M645.5 344.9h0" stroke="#0f2c90" stroke-width="2.6" stroke-opacity="1"/>
<path d="M645.5 344.9L651.4 344.7M651.4 344.7L656.6 344.5M656.6 344.5L660.2 344.3M564.5 346.9L567.6 347.1M567.6 347.1L572.1 347.3M572.1 347.3L577.1 347.7M577.1 347.7L581.9 347.9M581.9 347.9L586.2 348.1M586.2 348.1L590.5 348.3M590.5 348.3L594.9 348.4M594.9 348.4L599.2 348.5M599.2 348.5L603.5 348.6M603.5 348.6L607.9 348.6M607.9 348.6L612.2 348.6M612.2 348.6L616.5 348.6M616.5 348.6L620.9 348.6M620.9 348.6L625.2 348.5M625.2 348.5L629.6 348.4M629.6 348.4L633.9 348.3M633.9 348.3L638.6 348.2M638.6 348.2L643.7 348.0M643.7 348.0L648.1 347.9M648.1 347.9L651.2 347.8M573.5 349.9L576.0 350.0M576.0 350.0L579.6 350.1M579.6 350.1L583.7 350.2M583.7 350.2L587.5 350.3M587.5 350.3L591.1 350.3M591.1 350.3L594.6 350.3M594.6 350.3L598.1 350.2M598.1 350.2L601.6 350.2M601.6 350.2L605.1 350.1M605.1 350.1L608.6 350.1M608.6 350.1L612.1 350.1M612.1 350.1L615.6 350.1M615.6 350.1L619.2 350.1M619.2 350.1L622.7 350.2M622.7 350.2L626.2 350.2" stroke="#0f1c87" stroke-width="1.5" stroke-opacity="1"/>
<path d="M651.4 344.7h0M660.2 344.3h0M567.6 347.1h0M577.1 347.7h0M586.2 348.1h0M594.9 348.4h0M603.5 348.6h0M612.2 348.6h0M620.9 348.6h0M629.6 348.4h0M638.6 348.2h0M648.1 347.9h0M579.6 350.1h0M587.5 350.3h0M594.6 350.3h0M601.6 350.2h0M608.6 350.1h0M615.6 350.1h0M622.7 350.2h0" stroke="#0f1c87" stroke-width="2.6" stroke-opacity="1"/>
<path d="M626.2 350.2L629.7 350.1M629.7 350.1L633.5 349.8M633.5 349.8L637.6 349.5M637.6 349.5L641.2 349.1M641.2 349.1L643.8 348.9" stroke="#0b1178" stroke-width="1.5" stroke-opacity="1"/>
<path d="M629.7 350.1h0M637.6 349.5h0M643.8 348.9h0" stroke="#0b1178" stroke-width="2.6" stroke-opacity="1"/>
</g>
<g stroke="#000" stroke-width="2.2" fill="#000" stroke-linejoin="miter">
<path d="M442.8 358V327.5" />
<path d="M442.8 322.5l-3.2 7h6.4z" stroke="none"/>
<path d="M441.8 357L471.511 355.392"/>
<path d="M478.5 355L471.69 358.587L471.332 352.197z" stroke="none"/>
<path d="M441.8 357L464.01 358.128"/>
<path d="M471 358.5L463.84 361.324L464.18 354.933z" stroke="none"/>
</g>
<g filter="url(#soft2)">
<text x="427.3" y="337.7" font-family='"Liberation Serif","DejaVu Serif",serif' font-size="16" font-weight="normal" font-style="normal" fill="#111" text-anchor="start" >Z</text>
<text x="464.6" y="351.5" font-family='"Liberation Serif","DejaVu Serif",serif' font-size="16" font-weight="normal" font-style="normal" fill="#111" text-anchor="start" >X</text>
<text x="468.8" y="376.2" font-family='"Liberation Serif","DejaVu Serif",serif' font-size="16" font-weight="normal" font-style="normal" fill="#111" text-anchor="start" >Y</text>
</g>
<g stroke="#7c7c7c" stroke-width="0.9" fill="none">
<path d="M449.5 426L609 408L702.6 428V497L609 514L447.4 493V428L449.5 426M447.4 428L552.8 438.3L609.5 433.6L702.6 428M609 408V514M552.8 438.3V507"/>
</g>
<path d="M448 455.3 C465 455.5 478 456 486.7 456.3 C500 457 513 458 524.5 459 C536 461 545 462.5 552.8 464.8 L600 470 L612 488 L560 495 C540 494.5 522 494 505.6 493 C498 492 492 491 486.7 489.4 C479 486.5 473 483.5 467.8 480 C463 476.5 460 473.5 458 470.5 C454 465.5 451 460.5 448 455.3Z" fill="#949392"/>
<path d="M608 446.8 L701.7 462 C695 465 688 468 682.8 470.5 C676 474 670 476.5 664 479 C657 481.5 651 482.8 645 483.7 C635 485.5 626 486.5 616.7 487.5 L560 492 L550 486 C560 481 568 476 575 472 C580 469.5 584 467 588 464.8 C592 461.5 595 458.5 597.8 455.3 C601 452.5 604 449.5 608 446.8Z" fill="url(#gdark2)"/>
<g fill="none" stroke-linecap="round" filter="url(#soft)">
<path d="M458.0 454.4L460.2 454.1M460.2 454.1L463.3 453.6M463.3 453.6L466.9 453.1M519.2 445.9L521.6 445.7M521.3 443.5L523.4 443.2M503.1 454.4L505.4 454.2M505.4 454.2L507.7 454.1M507.7 454.1L510.0 454.0M510.0 454.0L512.5 453.9M512.5 453.9L515.0 453.9M515.0 453.9L517.6 453.9M517.6 453.9L520.1 453.9M520.1 453.9L522.4 453.8M490.0 452.5L492.2 452.3M520.3 449.9L523.7 449.7M523.7 449.7L527.0 449.4M527.0 449.4L530.0 449.0" stroke="#f49018" stroke-width="1.5" stroke-opacity="1"/>
<path d="M460.2 454.1h0M466.9 453.1h0M523.4 443.2h0M510.0 454.0h0M517.6 453.9h0M523.7 449.7h0M530.0 449.0h0" stroke="#f49018" stroke-width="2.6" stroke-opacity="1"/>
<path d="M466.9 453.1L470.7 452.6M470.7 452.6L474.6 452.0M474.6 452.0L478.0 451.5M514.0 446.5L516.6 446.2M516.6 446.2L519.2 445.9M470.0 452.0L472.2 451.6M515.9 444.2L518.8 443.8M518.8 443.8L521.3 443.5M492.2 452.3L495.2 452.0M495.2 452.0L498.8 451.6M498.8 451.6L502.6 451.2M502.6 451.2L506.4 450.8M506.4 450.8L510.0 450.5M510.0 450.5L513.4 450.3M513.4 450.3L516.9 450.1M516.9 450.1L520.3 449.9" stroke="#f07018" stroke-width="1.5" stroke-opacity="1"/>
<path d="M474.6 452.0h0M519.2 445.9h0M495.2 452.0h0M502.6 451.2h0M510.0 450.5h0M516.9 450.1h0" stroke="#f07018" stroke-width="2.6" stroke-opacity="1"/>
<path d="M478.0 451.5L481.1 451.0M481.1 451.0L484.1 450.5M484.1 450.5L487.1 450.1M487.1 450.1L490.1 449.6M502.1 447.9L505.2 447.5M505.2 447.5L508.3 447.2M508.3 447.2L511.2 446.8M511.2 446.8L514.0 446.5M472.2 451.6L475.2 450.9M475.2 450.9L478.8 450.2M478.8 450.2L482.6 449.4M513.0 444.6L515.9 444.2" stroke="#e85018" stroke-width="1.5" stroke-opacity="1"/>
<path d="M481.1 451.0h0M487.1 450.1h0M505.2 447.5h0M511.2 446.8h0M475.2 450.9h0M482.6 449.4h0M515.9 444.2h0" stroke="#e85018" stroke-width="2.6" stroke-opacity="1"/>
<path d="M490.1 449.6L493.0 449.1M493.0 449.1L496.0 448.7M496.0 448.7L499.0 448.3M499.0 448.3L502.1 447.9M482.6 449.4L486.4 448.7M486.4 448.7L490.0 448.0M490.0 448.0L493.4 447.4M493.4 447.4L496.9 446.9M496.9 446.9L500.3 446.4M500.3 446.4L503.7 445.9M503.7 445.9L507.0 445.4M507.0 445.4L510.0 445.0M510.0 445.0L513.0 444.6" stroke="#e03018" stroke-width="1.5" stroke-opacity="1"/>
<path d="M493.0 449.1h0M499.0 448.3h0M490.0 448.0h0M496.9 446.9h0M503.7 445.9h0M510.0 445.0h0" stroke="#e03018" stroke-width="2.6" stroke-opacity="1"/>
<path d="M521.6 445.7L523.9 445.4M523.9 445.4L526.1 445.2M523.4 443.2L525.0 443.0M490.8 455.7L493.4 455.3M493.4 455.3L496.0 455.0M496.0 455.0L498.4 454.7M498.4 454.7L500.8 454.5M500.8 454.5L503.1 454.4M522.4 453.8L524.5 453.5M524.5 453.5L526.3 453.1M526.3 453.1L527.9 452.6M530.0 449.0L533.0 448.3" stroke="#f8b018" stroke-width="1.5" stroke-opacity="1"/>
<path d="M526.1 445.2h0M496.0 455.0h0M503.1 454.4h0M524.5 453.5h0" stroke="#f8b018" stroke-width="2.6" stroke-opacity="1"/>
<path d="M526.1 445.2L528.0 445.0M528.0 445.0L529.7 444.8M480.0 457.5L482.7 457.0M482.7 457.0L485.4 456.5M485.4 456.5L488.1 456.1M488.1 456.1L490.8 455.7M527.9 452.6L529.4 452.0M529.4 452.0L530.7 451.3M533.0 448.3L535.9 447.4M535.9 447.4L538.8 446.4" stroke="#f4c814" stroke-width="1.5" stroke-opacity="1"/>
<path d="M529.7 444.8L531.3 444.6M531.3 444.6L532.8 444.4M468.1 460.1L471.0 459.4M471.0 459.4L474.1 458.7M474.1 458.7L477.1 458.1M477.1 458.1L480.0 457.5M530.7 451.3L531.9 450.6M531.9 450.6L533.0 450.0M538.8 446.4L541.3 445.4" stroke="#f0e010" stroke-width="1.5" stroke-opacity="1"/>
<path d="M532.8 444.4h0M471.0 459.4h0M477.1 458.1h0M541.3 445.4h0" stroke="#f0e010" stroke-width="2.6" stroke-opacity="1"/>
<path d="M532.8 444.4L534.0 444.2M534.0 444.2L535.0 444.1M464.0 461.0L465.7 460.6M465.7 460.6L468.1 460.1M533.0 450.0L534.1 449.3M534.1 449.3L535.0 448.6M535.0 448.6L535.9 447.8M541.3 445.4L543.4 444.6M543.4 444.6L545.0 444.0" stroke="#aadb1a" stroke-width="1.5" stroke-opacity="1"/>
<path d="M535.0 444.1L535.8 444.0M535.9 447.8L536.6 447.1M536.6 447.1L537.2 446.4M537.2 446.4L537.7 446.0" stroke="#6bd12e" stroke-width="1.5" stroke-opacity="1"/>
<path d="M482.7 457.0h0M488.1 456.1h0M530.7 451.3h0M535.9 447.4h0" stroke="#f4c814" stroke-width="2.6" stroke-opacity="1"/>
<path d="M535.9 447.8h0" stroke="#aadb1a" stroke-width="2.6" stroke-opacity="1"/>
<path d="M476.0 456.0L478.1 455.5M478.1 455.5L480.9 454.9M521.5 449.0L524.8 448.4M524.8 448.4L527.7 447.8" stroke="#f8b018" stroke-width="1.3" stroke-opacity="1"/>
<path d="M478.1 455.5h0M524.8 448.4h0" stroke="#f8b018" stroke-width="2.4" stroke-opacity="1"/>
<path d="M480.9 454.9L484.2 454.1M484.2 454.1L487.9 453.3M487.9 453.3L491.6 452.6M518.2 449.5L521.5 449.0" stroke="#f49018" stroke-width="1.3" stroke-opacity="1"/>
<path d="M484.2 454.1h0M491.6 452.6h0" stroke="#f49018" stroke-width="2.4" stroke-opacity="1"/>
<path d="M491.6 452.6L495.0 452.0M495.0 452.0L498.3 451.6M498.3 451.6L501.7 451.2M501.7 451.2L505.1 450.9M505.1 450.9L508.5 450.7M508.5 450.7L511.8 450.4M511.8 450.4L515.0 450.0M515.0 450.0L518.2 449.5" stroke="#f07018" stroke-width="1.3" stroke-opacity="1"/>
<path d="M498.3 451.6h0M505.1 450.9h0M511.8 450.4h0M518.2 449.5h0" stroke="#f07018" stroke-width="2.4" stroke-opacity="1"/>
<path d="M527.7 447.8L530.2 447.3" stroke="#f4c814" stroke-width="1.3" stroke-opacity="1"/>
<path d="M530.2 447.3h0" stroke="#f4c814" stroke-width="2.4" stroke-opacity="1"/>
<path d="M530.2 447.3L532.0 447.0" stroke="#f0e010" stroke-width="1.3" stroke-opacity="1"/>
<path d="M463.1 463.7L466.2 463.5M466.2 463.5L470.6 463.2M470.6 463.2L475.6 462.8M475.6 462.8L480.4 462.0M480.4 462.0L484.7 460.8M484.7 460.8L489.0 459.3M489.0 459.3L493.3 457.7M493.3 457.7L497.6 456.4M497.6 456.4L502.0 455.5M502.0 455.5L506.3 454.9M465.3 466.7L468.4 466.1M468.4 466.1L472.9 465.3M472.9 465.3L477.9 464.3M477.9 464.3L482.7 463.2M482.7 463.2L487.0 461.8M487.0 461.8L491.4 460.2M491.4 460.2L495.8 458.7M495.8 458.7L500.1 457.6M500.1 457.6L504.5 457.1M504.5 457.1L508.8 456.9M508.8 456.9L513.2 456.9M513.2 456.9L517.5 456.9" stroke="#aadb1a" stroke-width="1.45" stroke-opacity="1"/>
<path d="M470.6 463.2h0M480.4 462.0h0M489.0 459.3h0M497.6 456.4h0M506.3 454.9h0M468.4 466.1h0M477.9 464.3h0M487.0 461.8h0M495.8 458.7h0M504.5 457.1h0M513.2 456.9h0" stroke="#aadb1a" stroke-width="2.55" stroke-opacity="1"/>
<path d="M506.3 454.9L510.6 454.4M510.6 454.4L514.9 454.1M514.9 454.1L519.2 454.1M519.2 454.1L523.5 454.4M523.5 454.4L527.9 454.7M517.5 456.9L521.9 456.8M521.9 456.8L526.2 456.9M526.2 456.9L530.6 456.8M530.6 456.8L534.9 456.3M467.5 468.1L470.6 468.1M470.6 468.1L475.1 468.0M475.1 468.0L480.2 467.8M480.2 467.8L485.0 467.1M485.0 467.1L489.4 465.7M489.4 465.7L493.8 463.7M493.8 463.7L498.2 461.8M498.2 461.8L502.6 460.3M502.6 460.3L507.0 459.5M507.0 459.5L511.4 459.0M511.4 459.0L515.8 458.7M515.8 458.7L520.1 458.4M470.2 470.8L473.3 469.7M473.3 469.7L477.8 468.0M477.8 468.0L482.9 466.3M482.9 466.3L487.7 465.1M487.7 465.1L492.0 464.5M492.0 464.5L496.4 464.2M496.4 464.2L500.8 464.1M500.8 464.1L505.2 463.9M505.2 463.9L509.5 463.7M509.5 463.7L513.9 463.6M513.9 463.6L518.3 463.3M518.3 463.3L522.7 462.8M473.1 473.2L476.2 472.4M476.2 472.4L480.7 471.4M480.7 471.4L485.7 470.3M485.7 470.3L490.4 469.2M490.4 469.2L494.8 468.2M494.8 468.2L499.1 467.2M499.1 467.2L503.4 466.3M503.4 466.3L507.8 465.6M507.8 465.6L512.1 465.3M476.0 472.2L479.1 472.3M479.1 472.3L483.5 472.4M483.5 472.4L488.5 472.4M488.5 472.4L493.2 472.3M493.2 472.3L497.5 472.0M497.5 472.0L501.8 471.5M501.8 471.5L506.1 470.8M506.1 470.8L510.4 470.0M510.4 470.0L514.7 468.7M479.6 477.1L482.7 476.2M482.7 476.2L487.0 475.0M487.0 475.0L491.9 473.7M491.9 473.7L496.5 472.5M496.5 472.5L500.8 471.5M500.8 471.5L505.0 470.5M505.0 470.5L509.2 469.6M509.2 469.6L513.5 469.1M513.5 469.1L517.7 469.1M517.7 469.1L521.9 469.4M521.9 469.4L526.1 469.8M526.1 469.8L530.4 469.7" stroke="#6bd12e" stroke-width="1.45" stroke-opacity="1"/>
<path d="M514.9 454.1h0M523.5 454.4h0M521.9 456.8h0M530.6 456.8h0M470.6 468.1h0M480.2 467.8h0M489.4 465.7h0M498.2 461.8h0M507.0 459.5h0M515.8 458.7h0M477.8 468.0h0M487.7 465.1h0M496.4 464.2h0M505.2 463.9h0M513.9 463.6h0M522.7 462.8h0M476.2 472.4h0M485.7 470.3h0M494.8 468.2h0M503.4 466.3h0M512.1 465.3h0M483.5 472.4h0M493.2 472.3h0M501.8 471.5h0M510.4 470.0h0M482.7 476.2h0M491.9 473.7h0M500.8 471.5h0M509.2 469.6h0M517.7 469.1h0M526.1 469.8h0" stroke="#6bd12e" stroke-width="2.55" stroke-opacity="1"/>
<path d="M527.9 454.7L532.2 454.5M532.2 454.5L536.9 453.5M536.9 453.5L541.9 452.0M534.9 456.3L539.7 455.4M539.7 455.4L544.7 454.0M544.7 454.0L549.2 452.7M520.1 458.4L524.5 458.3M524.5 458.3L528.9 458.3M528.9 458.3L533.3 458.2M533.3 458.2L537.7 458.0M522.7 462.8L527.0 462.1M527.0 462.1L531.4 461.3M531.4 461.3L535.8 460.3M535.8 460.3L540.1 459.2M512.1 465.3L516.5 465.3M516.5 465.3L520.8 465.3M520.8 465.3L525.1 465.1M525.1 465.1L529.5 464.7M529.5 464.7L533.8 464.1M533.8 464.1L538.1 463.5M514.7 468.7L519.0 467.2M519.0 467.2L523.3 465.7M523.3 465.7L527.6 464.7M527.6 464.7L531.9 464.3M531.9 464.3L536.2 464.4M536.2 464.4L540.5 464.5M530.4 469.7L534.6 469.1M534.6 469.1L538.8 468.2M538.8 468.2L543.0 467.0M543.0 467.0L547.3 465.9M483.3 479.5L486.3 478.4M486.3 478.4L490.5 476.7M490.5 476.7L495.3 475.0M495.3 475.0L499.9 473.8M499.9 473.8L504.0 473.3M504.0 473.3L508.2 473.2M508.2 473.2L512.4 473.3M512.4 473.3L516.5 473.2M516.5 473.2L520.7 473.1M520.7 473.1L524.8 473.1M524.8 473.1L529.0 473.0M529.0 473.0L533.1 472.5M533.1 472.5L537.3 471.6M537.3 471.6L541.4 470.4M486.9 481.9L489.8 481.5M489.8 481.5L494.0 480.9M494.0 480.9L498.7 480.1M498.7 480.1L503.2 479.1M503.2 479.1L507.3 477.7M507.3 477.7L511.3 476.1M511.3 476.1L515.4 474.5M515.4 474.5L519.5 473.2M519.5 473.2L523.6 472.3M523.6 472.3L527.6 471.5M527.6 471.5L531.7 471.0M531.7 471.0L535.8 470.7M535.8 470.7L539.9 470.9M539.9 470.9L543.9 471.4M490.5 480.4L493.4 480.3M493.4 480.3L497.5 480.1M497.5 480.1L502.1 479.8M502.1 479.8L506.4 479.5M506.4 479.5L510.4 479.3M510.4 479.3L514.3 479.0M514.3 479.0L518.3 478.7M518.3 478.7L522.3 478.0M522.3 478.0L526.2 476.8M526.2 476.8L530.2 475.2M494.2 482.4L497.0 482.2M497.0 482.2L500.9 482.0M500.9 482.0L505.4 481.8M505.4 481.8L509.6 481.4M509.6 481.4L513.5 480.8M513.5 480.8L517.3 480.2M517.3 480.2L521.2 479.5M521.2 479.5L525.0 478.6M525.0 478.6L528.9 477.5" stroke="#35bf52" stroke-width="1.45" stroke-opacity="1"/>
<path d="M532.2 454.5h0M541.9 452.0h0M539.7 455.4h0M549.2 452.7h0M524.5 458.3h0M533.3 458.2h0M531.4 461.3h0M540.1 459.2h0M520.8 465.3h0M529.5 464.7h0M538.1 463.5h0M519.0 467.2h0M527.6 464.7h0M536.2 464.4h0M534.6 469.1h0M543.0 467.0h0M490.5 476.7h0M499.9 473.8h0M508.2 473.2h0M516.5 473.2h0M524.8 473.1h0M533.1 472.5h0M541.4 470.4h0M489.8 481.5h0M498.7 480.1h0M507.3 477.7h0M515.4 474.5h0M523.6 472.3h0M531.7 471.0h0M539.9 470.9h0M493.4 480.3h0M502.1 479.8h0M510.4 479.3h0M518.3 478.7h0M526.2 476.8h0M497.0 482.2h0M505.4 481.8h0M513.5 480.8h0M521.2 479.5h0M528.9 477.5h0" stroke="#35bf52" stroke-width="2.55" stroke-opacity="1"/>
<path d="M541.9 452.0L546.4 450.6M546.4 450.6L549.5 449.6M549.2 452.7L552.4 451.7M537.7 458.0L542.5 457.3M542.5 457.3L547.6 456.4M547.6 456.4L552.1 455.4M552.1 455.4L555.3 454.8M540.1 459.2L544.9 458.1M544.9 458.1L550.0 456.8M550.0 456.8L554.5 455.6M554.5 455.6L557.6 454.7M538.1 463.5L542.5 462.6M542.5 462.6L547.2 461.6M547.2 461.6L552.2 460.2M552.2 460.2L556.7 459.0M540.5 464.5L544.8 464.5M544.8 464.5L549.5 464.0M549.5 464.0L554.5 463.3M554.5 463.3L558.9 462.6M547.3 465.9L551.9 464.5M551.9 464.5L556.8 462.9M556.8 462.9L561.1 461.4M561.1 461.4L564.2 460.4M541.4 470.4L545.6 469.0M545.6 469.0L549.7 467.7M549.7 467.7L554.3 466.4M554.3 466.4L559.1 465.0M543.9 471.4L548.0 471.8M548.0 471.8L552.1 471.6M552.1 471.6L556.5 470.5M556.5 470.5L561.2 468.6M561.2 468.6L565.4 466.8M530.2 475.2L534.1 473.6M534.1 473.6L538.1 472.3M538.1 472.3L542.1 471.5M542.1 471.5L546.0 470.8M546.0 470.8L550.0 470.3M550.0 470.3L554.0 469.8M528.9 477.5L532.7 476.1M532.7 476.1L536.6 474.8M536.6 474.8L540.4 473.8M540.4 473.8L544.3 473.2M544.3 473.2L548.1 472.9M548.1 472.9L552.0 472.7" stroke="#1aaf7b" stroke-width="1.45" stroke-opacity="1"/>
<path d="M549.5 449.6h0M542.5 457.3h0M552.1 455.4h0M550.0 456.8h0M557.6 454.7h0M547.2 461.6h0M556.7 459.0h0M544.8 464.5h0M554.5 463.3h0M551.9 464.5h0M561.1 461.4h0M549.7 467.7h0M559.1 465.0h0M548.0 471.8h0M556.5 470.5h0M565.4 466.8h0M534.1 473.6h0M542.1 471.5h0M550.0 470.3h0M536.6 474.8h0M544.3 473.2h0M552.0 472.7h0" stroke="#1aaf7b" stroke-width="2.55" stroke-opacity="1"/>
<path d="M556.7 459.0L559.8 458.2M558.9 462.6L562.0 462.2M559.1 465.0L563.4 463.7M563.4 463.7L566.4 462.8M565.4 466.8L568.4 465.5M554.0 469.8L558.3 469.4M558.3 469.4L562.9 469.1M562.9 469.1L567.0 468.9M567.0 468.9L569.8 468.8M552.0 472.7L555.9 472.4M555.9 472.4L560.1 472.0M560.1 472.0L564.5 471.5M564.5 471.5L568.5 471.0M568.5 471.0L571.3 470.7" stroke="#10a0a8" stroke-width="1.45" stroke-opacity="1"/>
<path d="M562.0 462.2h0M566.4 462.8h0M558.3 469.4h0M567.0 468.9h0M560.1 472.0h0M568.5 471.0h0" stroke="#10a0a8" stroke-width="2.55" stroke-opacity="1"/>
<path d="M500.0 458.0L501.4 458.9M501.4 458.9L503.3 460.0M503.3 460.0L505.5 461.4M505.5 461.4L507.9 463.0M507.9 463.0L510.1 464.5M510.1 464.5L512.0 466.0M512.0 466.0L513.7 467.5M513.7 467.5L515.3 469.3M515.3 469.3L516.8 471.0M516.8 471.0L518.1 472.6M518.1 472.6L519.2 474.0M519.2 474.0L520.0 475.0M520.0 456.0L521.1 457.0M521.1 457.0L522.7 458.3M522.7 458.3L524.5 459.9M524.5 459.9L526.4 461.7M526.4 461.7L528.3 463.4M528.3 463.4L530.0 465.0M530.0 465.0L531.5 466.6M531.5 466.6L533.1 468.3M533.1 468.3L534.6 470.1M534.6 470.1L536.0 471.7M482.7 464.1L484.5 465.5M484.5 465.5L486.4 467.0M486.4 467.0L488.3 468.6M488.3 468.6L490.0 470.0M490.0 470.0L491.5 471.4M491.5 471.4L493.1 473.0M493.1 473.0L494.6 474.5M494.6 474.5L496.0 475.9M496.0 475.9L497.2 477.1M497.2 477.1L498.0 478.0" stroke="#35bf52" stroke-width="1.2" stroke-opacity="1"/>
<path d="M505.5 461.4h0M510.1 464.5h0M515.3 469.3h0M519.2 474.0h0M524.5 459.9h0M530.0 465.0h0M534.6 470.1h0M486.4 467.0h0M491.5 471.4h0M496.0 475.9h0" stroke="#35bf52" stroke-width="2.3" stroke-opacity="1"/>
<path d="M536.0 471.7L537.2 473.0M537.2 473.0L538.0 474.0M535.0 452.0L535.9 453.1M535.9 453.1L537.2 454.6M537.2 454.6L538.7 456.4M538.7 456.4L540.3 458.3M540.3 458.3L541.7 460.2M541.7 460.2L543.0 462.0M543.0 462.0L544.1 463.8M544.1 463.8L545.1 465.7M545.1 465.7L546.0 467.6M546.0 467.6L546.8 469.4M546.8 469.4L547.5 470.9M547.5 470.9L548.0 472.0" stroke="#1aaf7b" stroke-width="1.2" stroke-opacity="1"/>
<path d="M480.0 462.0L481.1 462.9M481.1 462.9L482.7 464.1" stroke="#6bd12e" stroke-width="1.2" stroke-opacity="1"/>
<path d="M481.1 462.9h0" stroke="#6bd12e" stroke-width="2.3" stroke-opacity="1"/>
<path d="M537.2 454.6h0M541.7 460.2h0M545.1 465.7h0M547.5 470.9h0" stroke="#1aaf7b" stroke-width="2.3" stroke-opacity="1"/>
<path d="M543.0 444.0L543.5 445.0M543.5 445.0L544.1 446.3M544.1 446.3L544.9 447.9M549.0 442.0L549.5 443.3M549.5 443.3L550.1 445.1M550.1 445.1L550.9 447.2M555.0 447.0L555.5 448.1M555.5 448.1L556.1 449.7M556.1 449.7L556.9 451.6M560.0 452.0L560.5 453.0M560.5 453.0L561.1 454.3M561.1 454.3L561.9 455.9M564.0 456.0L564.5 456.9M564.5 456.9L565.1 458.1M565.1 458.1L565.9 459.5M665.1 451.7L664.8 452.5M664.8 452.5L664.4 453.3M664.4 453.3L663.8 454.2M663.8 454.2L663.2 455.0M663.2 455.0L662.7 455.8M667.3 450.9L667.0 452.0M667.0 452.0L666.6 453.1M666.6 453.1L666.0 454.2M666.0 454.2L665.4 455.4M665.4 455.4L664.9 456.4" stroke="#1081ba" stroke-width="1.3" stroke-opacity="1"/>
<path d="M544.9 447.9L545.7 449.7M545.7 449.7L546.4 451.4M546.4 451.4L547.0 453.0M547.0 453.0L547.5 454.6M547.5 454.6L547.9 456.3M550.9 447.2L551.7 449.6M551.7 449.6L552.4 451.9M552.4 451.9L553.0 454.0M553.0 454.0L553.5 456.1M553.5 456.1L553.9 458.4M556.9 451.6L557.7 453.6M557.7 453.6L558.4 455.6M558.4 455.6L559.0 457.5M559.0 457.5L559.5 459.4M559.5 459.4L559.9 461.4M561.9 455.9L562.7 457.7M562.7 457.7L563.4 459.4M563.4 459.4L564.0 461.0M564.0 461.0L564.5 462.6M564.5 462.6L564.9 464.3M565.9 459.5L566.7 461.0M566.7 461.0L567.4 462.6M567.4 462.6L568.0 464.0M568.0 464.0L568.5 465.4M568.5 465.4L568.9 467.0M665.7 448.5L665.6 449.2M665.6 449.2L665.5 450.0M665.5 450.0L665.3 450.8M665.3 450.8L665.1 451.7M667.9 446.7L667.8 447.6M667.8 447.6L667.7 448.6M667.7 448.6L667.5 449.8M667.5 449.8L667.3 450.9" stroke="#1161c8" stroke-width="1.3" stroke-opacity="1"/>
<path d="M547.9 456.3L548.2 458.1M548.2 458.1L548.6 459.7M548.6 459.7L548.8 461.0M548.8 461.0L549.0 462.0M553.9 458.4L554.2 460.8M554.2 460.8L554.6 462.9M554.6 462.9L554.8 464.7M554.8 464.7L555.0 466.0M559.9 461.4L560.2 463.4M560.2 463.4L560.6 465.3M560.6 465.3L560.8 466.9M560.8 466.9L561.0 468.0M564.9 464.3L565.2 466.1M565.2 466.1L565.6 467.7M565.6 467.7L565.8 469.0M565.8 469.0L566.0 470.0M568.9 467.0L569.2 468.5M569.2 468.5L569.6 469.9M569.6 469.9L569.8 471.1M569.8 471.1L570.0 472.0M665.8 448.0L665.7 448.5M668.0 446.0L667.9 446.7" stroke="#163ec8" stroke-width="1.3" stroke-opacity="1"/>
<path d="M463.0 477.0L465.4 476.6M465.4 476.6L468.8 476.1M468.8 476.1L472.7 475.4M472.7 475.4L477.0 474.8M477.0 474.8L481.2 474.1M481.2 474.1L485.0 473.5M485.0 473.5L488.5 473.0M488.5 473.0L492.0 472.4M492.0 472.4L495.4 471.9M495.4 471.9L498.8 471.3M498.8 471.3L502.2 470.9M502.2 470.9L505.6 470.5M505.6 470.5L509.0 470.2M509.0 470.2L512.4 469.9M512.4 469.9L515.8 469.8M515.8 469.8L519.2 469.6M519.2 469.6L522.6 469.5M522.6 469.5L526.0 469.3M526.0 469.3L529.7 469.1M529.7 469.1L533.7 469.0M533.7 469.0L537.8 468.9M537.8 468.9L541.5 468.8M541.5 468.8L544.7 468.7M544.7 468.7L547.0 468.6" stroke="#1527bc" stroke-width="1.3" stroke-opacity="1"/>
<path d="M468.8 476.1h0M477.0 474.8h0M485.0 473.5h0M492.0 472.4h0M498.8 471.3h0M505.6 470.5h0M512.4 469.9h0M519.2 469.6h0M526.0 469.3h0M533.7 469.0h0M541.5 468.8h0" stroke="#1527bc" stroke-width="2.4" stroke-opacity="1"/>
<path d="M571.5 467.9L574.0 467.8M574.0 467.8L577.7 467.8M577.7 467.8L581.8 467.7M545.3 477.0L549.1 476.7M549.1 476.7L554.6 476.4M598.8 476.6L604.8 476.4M604.8 476.4L610.9 476.1M621.1 477.8L627.9 477.6M627.9 477.6L635.3 477.3M625.6 479.2L633.6 478.9M633.6 478.9L642.1 478.5M631.7 480.7L640.8 480.3M640.8 480.3L649.0 480.0M602.8 483.3L610.6 483.0M610.6 483.0L618.5 482.8M582.5 485.6L590.4 485.4M590.4 485.4L598.2 485.2" stroke="#a56110" stroke-width="1.5" stroke-opacity="1"/>
<path d="M577.7 467.8h0M549.1 476.7h0M604.8 476.4h0M610.9 476.1h0M627.9 477.6h0M635.3 477.3h0M633.6 478.9h0M642.1 478.5h0M640.8 480.3h0M649.0 480.0h0M610.6 483.0h0M618.5 482.8h0M590.4 485.4h0M598.2 485.2h0" stroke="#a56110" stroke-width="2.6" stroke-opacity="1"/>
<path d="M581.8 467.7L585.6 467.7M585.6 467.7L589.2 467.7M589.2 467.7L592.7 467.6M592.7 467.6L596.3 467.6M596.3 467.6L599.8 467.7M599.8 467.7L603.4 467.8M554.6 476.4L560.7 476.0M560.7 476.0L566.4 475.7M566.4 475.7L571.7 475.5M571.7 475.5L577.0 475.2M577.0 475.2L582.3 475.0M582.3 475.0L587.5 474.8M587.5 474.8L592.8 474.6M610.9 476.1L616.9 475.9M616.9 475.9L622.9 475.6M635.3 477.3L643.1 477.0M642.1 478.5L649.7 478.2M649.0 480.0L654.7 479.8M618.5 482.8L627.1 482.4M627.1 482.4L636.2 482.1M598.2 485.2L606.1 485.0M606.1 485.0L613.9 484.8" stroke="#a87710" stroke-width="1.5" stroke-opacity="1"/>
<path d="M585.6 467.7h0M592.7 467.6h0M599.8 467.7h0M560.7 476.0h0M566.4 475.7h0M577.0 475.2h0M587.5 474.8h0M616.9 475.9h0M622.9 475.6h0M643.1 477.0h0M649.7 478.2h0M654.7 479.8h0M627.1 482.4h0M636.2 482.1h0M606.1 485.0h0M613.9 484.8h0" stroke="#a87710" stroke-width="2.6" stroke-opacity="1"/>
<path d="M603.4 467.8L606.9 468.0M606.9 468.0L610.4 468.2M610.4 468.2L614.0 468.3M614.0 468.3L617.5 468.4M592.8 474.6L598.1 474.5M598.1 474.5L603.4 474.3M603.4 474.3L608.6 474.1M608.6 474.1L613.9 473.9M622.9 475.6L629.0 475.3M629.0 475.3L635.6 475.0M635.6 475.0L642.6 474.7M643.1 477.0L650.1 476.6M650.1 476.6L655.0 476.3M649.7 478.2L655.0 478.0M636.2 482.1L644.3 481.8M644.3 481.8L650.0 481.6M613.9 484.8L622.5 484.5M622.5 484.5L631.6 484.2M489.7 491.9L495.1 491.5M495.1 491.5L502.8 491.0M502.8 491.0L511.4 490.4M511.4 490.4L519.5 489.9M519.5 489.9L526.9 489.6M526.9 489.6L534.4 489.3M534.4 489.3L541.8 489.1" stroke="#a5880d" stroke-width="1.5" stroke-opacity="1"/>
<path d="M606.9 468.0h0M614.0 468.3h0M598.1 474.5h0M608.6 474.1h0M629.0 475.3h0M635.6 475.0h0M642.6 474.7h0M650.1 476.6h0M644.3 481.8h0M650.0 481.6h0M622.5 484.5h0M631.6 484.2h0M495.1 491.5h0M502.8 491.0h0M511.4 490.4h0M519.5 489.9h0M526.9 489.6h0M534.4 489.3h0M541.8 489.1h0" stroke="#a5880d" stroke-width="2.6" stroke-opacity="1"/>
<path d="M617.5 468.4L621.1 468.5M621.1 468.5L624.6 468.6M558.4 472.8L561.6 472.6M561.6 472.6L566.2 472.3M566.2 472.3L571.3 472.0M571.3 472.0L576.1 471.8M576.1 471.8L580.5 471.7M580.5 471.7L585.0 471.8M585.0 471.8L589.4 471.8M589.4 471.8L593.8 471.8M613.9 473.9L619.2 473.7M619.2 473.7L624.5 473.4M642.6 474.7L648.8 474.4M648.8 474.4L653.2 474.2M631.6 484.2L639.7 483.9M639.7 483.9L645.3 483.7M541.8 489.1L549.2 488.9M549.2 488.9L556.7 488.5M556.7 488.5L564.1 488.1M564.1 488.1L571.6 487.7M571.6 487.7L579.0 487.3" stroke="#a3980a" stroke-width="1.5" stroke-opacity="1"/>
<path d="M621.1 468.5h0M561.6 472.6h0M571.3 472.0h0M580.5 471.7h0M589.4 471.8h0M619.2 473.7h0M648.8 474.4h0M639.7 483.9h0M645.3 483.7h0M549.2 488.9h0M556.7 488.5h0M564.1 488.1h0M571.6 487.7h0M579.0 487.3h0" stroke="#a3980a" stroke-width="2.6" stroke-opacity="1"/>
<path d="M624.6 468.6L628.2 468.7M628.2 468.7L632.0 468.8M632.0 468.8L636.1 469.0M593.8 471.8L598.3 471.6M598.3 471.6L602.7 471.4M602.7 471.4L607.1 471.2M607.1 471.2L611.6 471.1M624.5 473.4L629.7 473.3M629.7 473.3L635.5 473.2M635.5 473.2L641.6 473.1M579.0 487.3L586.4 486.9M586.4 486.9L593.9 486.6M593.9 486.6L601.3 486.2M491.6 493.6L496.6 493.3M496.6 493.3L503.8 492.9M503.8 492.9L511.9 492.5M511.9 492.5L519.6 492.1" stroke="#739411" stroke-width="1.5" stroke-opacity="1"/>
<path d="M628.2 468.7h0M636.1 469.0h0M598.3 471.6h0M607.1 471.2h0M629.7 473.3h0M635.5 473.2h0M641.6 473.1h0M586.4 486.9h0M593.9 486.6h0M601.3 486.2h0M496.6 493.3h0M503.8 492.9h0M511.9 492.5h0M519.6 492.1h0" stroke="#739411" stroke-width="2.6" stroke-opacity="1"/>
<path d="M636.1 469.0L639.8 469.2M639.8 469.2L642.3 469.3M611.6 471.1L616.0 471.0M616.0 471.0L620.4 470.9M620.4 470.9L624.9 470.8M624.9 470.8L629.3 470.8M641.6 473.1L647.0 473.0M647.0 473.0L650.8 473.0M601.3 486.2L608.7 485.9M608.7 485.9L616.9 485.7M616.9 485.7L625.5 485.6M519.6 492.1L526.6 491.6M526.6 491.6L533.6 491.1M533.6 491.1L540.6 490.6M540.6 490.6L547.6 490.1M547.6 490.1L554.6 489.8M554.6 489.8L561.6 489.5M561.6 489.5L568.5 489.3M568.5 489.3L575.5 489.0M494.9 495.1L499.6 494.8" stroke="#488e1f" stroke-width="1.5" stroke-opacity="1"/>
<path d="M642.3 469.3h0M616.0 471.0h0M624.9 470.8h0M650.8 473.0h0M608.7 485.9h0M616.9 485.7h0M625.5 485.6h0M526.6 491.6h0M533.6 491.1h0M540.6 490.6h0M547.6 490.1h0M554.6 489.8h0M561.6 489.5h0M568.5 489.3h0M575.5 489.0h0M499.6 494.8h0" stroke="#488e1f" stroke-width="2.6" stroke-opacity="1"/>
<path d="M629.3 470.8L634.1 470.8M634.1 470.8L639.2 470.8M639.2 470.8L643.8 470.7M625.5 485.6L633.2 485.5M633.2 485.5L638.5 485.4M575.5 489.0L582.5 488.8M582.5 488.8L589.5 488.6M589.5 488.6L596.5 488.4M596.5 488.4L603.5 488.2M499.6 494.8L506.3 494.4M506.3 494.4L513.9 493.9M513.9 493.9L521.0 493.5M521.0 493.5L527.5 493.0M527.5 493.0L534.0 492.6M534.0 492.6L540.5 492.2M540.5 492.2L547.1 491.9M547.1 491.9L553.6 491.5M553.6 491.5L560.1 491.3M560.1 491.3L566.6 491.0" stroke="#248137" stroke-width="1.5" stroke-opacity="1"/>
<path d="M634.1 470.8h0M643.8 470.7h0M633.2 485.5h0M582.5 488.8h0M589.5 488.6h0M596.5 488.4h0M603.5 488.2h0M506.3 494.4h0M513.9 493.9h0M521.0 493.5h0M527.5 493.0h0M534.0 492.6h0M540.5 492.2h0M547.1 491.9h0M553.6 491.5h0M560.1 491.3h0M566.6 491.0h0" stroke="#248137" stroke-width="2.6" stroke-opacity="1"/>
<path d="M643.8 470.7L647.0 470.7M603.5 488.2L611.2 487.7M611.2 487.7L619.3 487.2M619.3 487.2L626.5 486.7M566.6 491.0L573.1 490.7M573.1 490.7L579.6 490.4M579.6 490.4L586.1 490.0M586.1 490.0L592.7 489.7M592.7 489.7L599.2 489.4M498.7 497.2L503.0 496.7M503.0 496.7L509.2 496.1M509.2 496.1L516.2 495.3M516.2 495.3L522.8 494.7M522.8 494.7L528.8 494.3M528.8 494.3L534.8 494.1M534.8 494.1L540.8 493.8M540.8 493.8L546.9 493.5M546.9 493.5L552.9 493.1M552.9 493.1L558.9 492.7M558.9 492.7L564.9 492.2" stroke="#117753" stroke-width="1.5" stroke-opacity="1"/>
<path d="M532.3 479.6L536.6 479.4M566.9 479.6L573.7 479.3M573.7 479.3L580.5 478.9M580.5 478.9L587.2 478.6M581.4 480.8L588.8 480.5M588.8 480.5L596.1 480.1M591.5 482.8L599.4 482.4M539.8 486.1L547.6 485.8M547.6 485.8L555.5 485.5M555.5 485.5L563.4 485.1M563.4 485.1L571.2 484.7M488.3 489.9L493.9 489.7M493.9 489.7L502.0 489.4M502.0 489.4L511.1 489.0M511.1 489.0L519.7 488.6" stroke="#982010" stroke-width="1.5" stroke-opacity="1"/>
<path d="M536.6 479.4h0M573.7 479.3h0M580.5 478.9h0M587.2 478.6h0M588.8 480.5h0M596.1 480.1h0M599.4 482.4h0M547.6 485.8h0M555.5 485.5h0M563.4 485.1h0M571.2 484.7h0M493.9 489.7h0M502.0 489.4h0M511.1 489.0h0M519.7 488.6h0" stroke="#982010" stroke-width="2.6" stroke-opacity="1"/>
<path d="M536.6 479.4L542.8 479.0M542.8 479.0L549.8 478.7M549.8 478.7L556.4 478.3M556.4 478.3L562.5 478.0M562.5 478.0L568.5 477.8M568.5 477.8L574.6 477.5M587.2 478.6L594.0 478.3M594.0 478.3L600.8 478.1M600.8 478.1L607.6 477.9M596.1 480.1L603.5 479.8M603.5 479.8L610.8 479.6M599.4 482.4L607.3 481.9M607.3 481.9L615.2 481.4M571.2 484.7L579.1 484.3M579.1 484.3L587.0 484.0M519.7 488.6L527.6 488.2M527.6 488.2L535.4 487.7M535.4 487.7L543.3 487.3M543.3 487.3L551.1 486.8M551.1 486.8L559.0 486.5" stroke="#9d3610" stroke-width="1.5" stroke-opacity="1"/>
<path d="M542.8 479.0h0M549.8 478.7h0M556.4 478.3h0M562.5 478.0h0M568.5 477.8h0M574.6 477.5h0M594.0 478.3h0M600.8 478.1h0M607.6 477.9h0M603.5 479.8h0M610.8 479.6h0M607.3 481.9h0M615.2 481.4h0M579.1 484.3h0M587.0 484.0h0M527.6 488.2h0M535.4 487.7h0M543.3 487.3h0M551.1 486.8h0M559.0 486.5h0" stroke="#9d3610" stroke-width="2.6" stroke-opacity="1"/>
<path d="M574.6 477.5L580.6 477.3M580.6 477.3L586.7 477.1M586.7 477.1L592.7 476.8M592.7 476.8L598.8 476.6M607.6 477.9L614.3 477.8M614.3 477.8L621.1 477.8M610.8 479.6L618.2 479.4M618.2 479.4L625.6 479.2M615.2 481.4L623.1 481.0M623.1 481.0L631.7 480.7M587.0 484.0L594.9 483.6M594.9 483.6L602.8 483.3M559.0 486.5L566.8 486.1M566.8 486.1L574.7 485.8M574.7 485.8L582.5 485.6" stroke="#a34c10" stroke-width="1.5" stroke-opacity="1"/>
<path d="M580.6 477.3h0M586.7 477.1h0M592.7 476.8h0M598.8 476.6h0M614.3 477.8h0M621.1 477.8h0M618.2 479.4h0M625.6 479.2h0M623.1 481.0h0M631.7 480.7h0M594.9 483.6h0M602.8 483.3h0M566.8 486.1h0M574.7 485.8h0M582.5 485.6h0" stroke="#a34c10" stroke-width="2.6" stroke-opacity="1"/>
<path d="M519.5 482.4L524.4 482.1M513.1 484.6L520.7 484.2M520.7 484.2L529.2 483.7M529.2 483.7L537.3 483.3M537.3 483.3L544.6 482.9M544.6 482.9L552.0 482.5M536.2 485.2L544.1 484.8M544.1 484.8L552.0 484.5M552.0 484.5L559.9 484.2M559.9 484.2L567.8 483.8" stroke="#820a15" stroke-width="1.5" stroke-opacity="1"/>
<path d="M524.4 482.1h0M520.7 484.2h0M529.2 483.7h0M537.3 483.3h0M544.6 482.9h0M552.0 482.5h0M544.1 484.8h0M552.0 484.5h0M559.9 484.2h0M567.8 483.8h0" stroke="#820a15" stroke-width="2.6" stroke-opacity="1"/>
<path d="M524.4 482.1L531.4 481.6M531.4 481.6L539.2 481.1M539.2 481.1L546.6 480.6M546.6 480.6L553.4 480.2M553.4 480.2L560.2 479.9M560.2 479.9L566.9 479.6M552.0 482.5L559.3 482.1M559.3 482.1L566.7 481.7M566.7 481.7L574.1 481.3M574.1 481.3L581.4 480.8M567.8 483.8L575.7 483.5M575.7 483.5L583.6 483.2M583.6 483.2L591.5 482.8M492.5 488.8L498.2 488.4M498.2 488.4L506.3 487.9M506.3 487.9L515.4 487.3M515.4 487.3L524.0 486.8M524.0 486.8L531.9 486.4M531.9 486.4L539.8 486.1" stroke="#8d1513" stroke-width="1.5" stroke-opacity="1"/>
<path d="M531.4 481.6h0M539.2 481.1h0M546.6 480.6h0M553.4 480.2h0M560.2 479.9h0M566.9 479.6h0M559.3 482.1h0M566.7 481.7h0M574.1 481.3h0M581.4 480.8h0M575.7 483.5h0M583.6 483.2h0M591.5 482.8h0M498.2 488.4h0M506.3 487.9h0M515.4 487.3h0M524.0 486.8h0M531.9 486.4h0M539.8 486.1h0" stroke="#8d1513" stroke-width="2.6" stroke-opacity="1"/>
<path d="M507.8 484.9L513.1 484.6M496.7 487.5L502.4 487.1M502.4 487.1L510.5 486.6M510.5 486.6L519.7 486.0M519.7 486.0L528.3 485.5M528.3 485.5L536.2 485.2" stroke="#6c0813" stroke-width="1.5" stroke-opacity="1"/>
<path d="M513.1 484.6h0M502.4 487.1h0M510.5 486.6h0M519.7 486.0h0M528.3 485.5h0M536.2 485.2h0" stroke="#6c0813" stroke-width="2.6" stroke-opacity="1"/>
<path d="M611.2 487.7h0M619.3 487.2h0M626.5 486.7h0M573.1 490.7h0M579.6 490.4h0M586.1 490.0h0M592.7 489.7h0M599.2 489.4h0M503.0 496.7h0M509.2 496.1h0M516.2 495.3h0M522.8 494.7h0M528.8 494.3h0M534.8 494.1h0M540.8 493.8h0M546.9 493.5h0M552.9 493.1h0M558.9 492.7h0M564.9 492.2h0" stroke="#117753" stroke-width="2.6" stroke-opacity="1"/>
<path d="M626.5 486.7L631.5 486.3M599.2 489.4L606.3 489.0M606.3 489.0L613.8 488.7M613.8 488.7L620.6 488.5M620.6 488.5L625.2 488.3M564.9 492.2L571.0 491.8M571.0 491.8L577.0 491.4M577.0 491.4L583.0 490.9M583.0 490.9L589.0 490.5M589.0 490.5L595.1 490.1M595.1 490.1L601.7 489.8" stroke="#0a6c72" stroke-width="1.5" stroke-opacity="1"/>
<path d="M606.3 489.0h0M613.8 488.7h0M620.6 488.5h0M571.0 491.8h0M577.0 491.4h0M583.0 490.9h0M589.0 490.5h0M595.1 490.1h0M601.7 489.8h0" stroke="#0a6c72" stroke-width="2.6" stroke-opacity="1"/>
<path d="M601.7 489.8L608.6 489.5M608.6 489.5L614.8 489.3M614.8 489.3L619.2 489.2" stroke="#0a577e" stroke-width="1.5" stroke-opacity="1"/>
<path d="M608.6 489.5h0M614.8 489.3h0" stroke="#0a577e" stroke-width="2.6" stroke-opacity="1"/>
<path d="M506.6 498.9L510.4 498.5M510.4 498.5L515.8 497.9M515.8 497.9L521.9 497.3M521.9 497.3L527.7 496.8M527.7 496.8L533.0 496.5M533.0 496.5L538.3 496.2M538.3 496.2L543.6 496.0M543.6 496.0L548.8 495.7M548.8 495.7L554.1 495.3M554.1 495.3L559.4 494.8M559.4 494.8L564.7 494.3M564.7 494.3L570.0 493.9M570.0 493.9L575.2 493.6M575.2 493.6L580.5 493.5M580.5 493.5L585.8 493.3M585.8 493.3L591.1 493.1M591.1 493.1L596.9 492.8M596.9 492.8L603.0 492.4M603.0 492.4L608.4 492.0M608.4 492.0L612.2 491.7" stroke="#0e2a88" stroke-width="1.5" stroke-opacity="1"/>
<path d="M510.4 498.5h0M521.9 497.3h0M527.7 496.8h0M538.3 496.2h0M548.8 495.7h0M559.4 494.8h0M570.0 493.9h0M580.5 493.5h0M591.1 493.1h0M596.9 492.8h0M603.0 492.4h0M612.2 491.7h0" stroke="#0e2a88" stroke-width="2.6" stroke-opacity="1"/>
<path d="M516.9 500.4L520.0 500.1M520.0 500.1L524.6 499.8M524.6 499.8L529.6 499.4M529.6 499.4L534.4 499.0M534.4 499.0L538.8 498.7M538.8 498.7L543.2 498.3M543.2 498.3L547.6 498.0M547.6 498.0L552.0 497.7M552.0 497.7L556.4 497.4M556.4 497.4L560.8 497.2M560.8 497.2L565.2 497.0M565.2 497.0L569.6 496.8M569.6 496.8L574.0 496.6M574.0 496.6L578.4 496.5M578.4 496.5L582.8 496.3M582.8 496.3L587.2 496.2M587.2 496.2L592.0 496.1M592.0 496.1L597.0 496.0M597.0 496.0L601.6 495.9M601.6 495.9L604.7 495.9" stroke="#0e1a7f" stroke-width="1.5" stroke-opacity="1"/>
<path d="M524.6 499.8h0M534.4 499.0h0M543.2 498.3h0M552.0 497.7h0M560.8 497.2h0M569.6 496.8h0M578.4 496.5h0M587.2 496.2h0M597.0 496.0h0M604.7 495.9h0" stroke="#0e1a7f" stroke-width="2.6" stroke-opacity="1"/>
<path d="M603.5 468.6L606.4 468.4M606.4 468.4L610.4 468.1M610.4 468.1L615.2 467.8M615.2 467.8L620.3 467.5M620.3 467.5L625.4 467.1M667.4 459.0L674.8 458.7M674.8 458.7L681.8 458.4M681.8 458.4L687.8 458.2M687.8 458.2L692.0 458.0" stroke="#0e9097" stroke-width="1.5" stroke-opacity="1"/>
<path d="M606.4 468.4h0M615.2 467.8h0M625.4 467.1h0M674.8 458.7h0M681.8 458.4h0M687.8 458.2h0" stroke="#0e9097" stroke-width="2.6" stroke-opacity="1"/>
<path d="M625.4 467.1L630.0 466.8M630.0 466.8L634.0 466.5M634.0 466.5L637.8 466.2M637.8 466.2L641.6 465.9M641.6 465.9L645.4 465.6M645.4 465.6L649.7 465.2M649.7 465.2L654.5 464.8M654.5 464.8L660.4 464.2M660.4 464.2L667.4 463.5M667.4 463.5L674.8 462.8M674.8 462.8L681.8 462.1" stroke="#0e74a7" stroke-width="1.5" stroke-opacity="1"/>
<path d="M634.0 466.5h0M641.6 465.9h0M649.7 465.2h0M660.4 464.2h0M667.4 463.5h0M674.8 462.8h0M681.8 462.1h0" stroke="#0e74a7" stroke-width="2.6" stroke-opacity="1"/>
<path d="M681.8 462.1L687.8 461.4M687.8 461.4L692.0 461.0" stroke="#0f57b4" stroke-width="1.5" stroke-opacity="1"/>
<path d="M687.8 461.4h0" stroke="#0f57b4" stroke-width="2.6" stroke-opacity="1"/>
<path d="M592.0 475.0L596.1 474.7M596.1 474.7L601.7 474.4M601.7 474.4L608.3 474.0M608.3 474.0L615.6 473.5M615.6 473.5L622.9 473.0M622.9 473.0L630.0 472.5M630.0 472.5L637.0 472.0M637.0 472.0L644.5 471.4" stroke="#1337b4" stroke-width="1.5" stroke-opacity="1"/>
<path d="M596.1 474.7h0M601.7 474.4h0M608.3 474.0h0M615.6 473.5h0M622.9 473.0h0M630.0 472.5h0M637.0 472.0h0M644.5 471.4h0" stroke="#1337b4" stroke-width="2.6" stroke-opacity="1"/>
<path d="M644.5 471.4L652.1 470.8M652.1 470.8L659.5 470.2M659.5 470.2L666.6 469.4M666.6 469.4L673.0 468.6M673.0 468.6L678.9 467.6M678.9 467.6L684.7 466.4M684.7 466.4L690.0 465.1M690.0 465.1L694.8 463.8M694.8 463.8L698.7 462.7M698.7 462.7L701.7 462.0" stroke="#1223a9" stroke-width="1.5" stroke-opacity="1"/>
<path d="M652.1 470.8h0M659.5 470.2h0M666.6 469.4h0M673.0 468.6h0M678.9 467.6h0M684.7 466.4h0M690.0 465.1h0M698.7 462.7h0" stroke="#1223a9" stroke-width="2.6" stroke-opacity="1"/>
<path d="M600.0 473.0L603.3 472.7M603.3 472.7L607.8 472.4M607.8 472.4L613.1 471.9M613.1 471.9L618.9 471.5M618.9 471.5L624.7 471.0" stroke="#0f57b4" stroke-width="1.4" stroke-opacity="1"/>
<path d="M603.3 472.7h0M613.1 471.9h0M618.9 471.5h0M624.7 471.0h0" stroke="#0f57b4" stroke-width="2.5" stroke-opacity="1"/>
<path d="M624.7 471.0L630.0 470.5M630.0 470.5L635.0 470.0M635.0 470.0L640.0 469.6M640.0 469.6L645.0 469.1M645.0 469.1L650.0 468.6M650.0 468.6L655.0 468.1M655.0 468.1L660.0 467.5M660.0 467.5L665.3 466.8M665.3 466.8L671.1 466.1M671.1 466.1L676.9 465.3M676.9 465.3L682.2 464.6M682.2 464.6L686.7 463.9M686.7 463.9L690.0 463.5M610.0 478.0L613.3 477.7M613.3 477.7L617.8 477.3" stroke="#1337b4" stroke-width="1.4" stroke-opacity="1"/>
<path d="M635.0 470.0h0M645.0 469.1h0M655.0 468.1h0M665.3 466.8h0M671.1 466.1h0M676.9 465.3h0M686.7 463.9h0M613.3 477.7h0" stroke="#1337b4" stroke-width="2.5" stroke-opacity="1"/>
<path d="M617.8 477.3L623.1 476.8M623.1 476.8L628.9 476.2M628.9 476.2L634.7 475.6M634.7 475.6L640.0 475.0M640.0 475.0L645.0 474.4M645.0 474.4L650.1 473.8M650.1 473.8L655.2 473.2M655.2 473.2L660.3 472.5M660.3 472.5L665.2 471.8M665.2 471.8L670.0 471.0M670.0 471.0L674.9 470.0M674.9 470.0L679.9 468.9M679.9 468.9L684.9 467.8M684.9 467.8L689.4 466.6M689.4 466.6L693.2 465.7M693.2 465.7L696.0 465.0M620.0 482.0L623.3 481.6M623.3 481.6L627.9 481.1M627.9 481.1L633.4 480.6M633.4 480.6L639.2 479.9M639.2 479.9L644.9 479.2M644.9 479.2L650.0 478.5M650.0 478.5L654.9 477.7M654.9 477.7L659.9 476.8M659.9 476.8L664.9 475.8M664.9 475.8L669.4 474.9M669.4 474.9L673.2 474.1M673.2 474.1L676.0 473.5" stroke="#1223a9" stroke-width="1.4" stroke-opacity="1"/>
<path d="M623.1 476.8h0M628.9 476.2h0M634.7 475.6h0M645.0 474.4h0M655.2 473.2h0M665.2 471.8h0M674.9 470.0h0M684.9 467.8h0M693.2 465.7h0M627.9 481.1h0M639.2 479.9h0M644.9 479.2h0M654.9 477.7h0M664.9 475.8h0M673.2 474.1h0" stroke="#1223a9" stroke-width="2.5" stroke-opacity="1"/>
<path d="M576.0 465.7L578.7 465.6M578.7 465.6L582.5 465.4M582.5 465.4L587.0 465.1" stroke="#db8115" stroke-width="1.4" stroke-opacity="1"/>
<path d="M578.7 465.6h0M587.0 465.1h0" stroke="#db8115" stroke-width="2.5" stroke-opacity="1"/>
<path d="M587.0 465.1L591.7 464.9M591.7 464.9L596.1 464.7M596.1 464.7L600.0 464.5M600.0 464.5L603.4 464.3M603.4 464.3L606.7 464.2" stroke="#df9e15" stroke-width="1.4" stroke-opacity="1"/>
<path d="M596.1 464.7h0M603.4 464.3h0" stroke="#df9e15" stroke-width="2.5" stroke-opacity="1"/>
<path d="M606.7 464.2L609.9 464.1M609.9 464.1L612.6 464.0M612.6 464.0L615.0 463.9M615.0 463.9L616.7 463.8" stroke="#dbb412" stroke-width="1.4" stroke-opacity="1"/>
<path d="M609.9 464.1h0M616.7 463.8h0" stroke="#dbb412" stroke-width="2.5" stroke-opacity="1"/>
<path d="M591.0 445.0L594.1 445.0M594.1 445.0L598.3 445.0M598.3 445.0L603.3 445.0M603.3 445.0L608.9 444.9M608.9 444.9L614.5 444.9M614.5 444.9L620.0 444.8M620.0 444.8L625.8 444.7M625.8 444.7L632.2 444.6M632.2 444.6L638.7 444.5M638.7 444.5L644.9 444.4M644.9 444.4L650.4 444.2M650.4 444.2L654.5 444.0M587.4 452.5L591.0 452.3M591.0 452.3L595.9 452.0M595.9 452.0L601.8 451.6M601.8 451.6L608.1 451.2M608.1 451.2L614.3 450.8M614.3 450.8L620.0 450.5M620.0 450.5L625.5 450.2M625.5 450.2L631.2 450.0M631.2 450.0L636.9 449.7" stroke="#ac0e1c" stroke-width="2.2" stroke-opacity="1"/>
<path d="M598.3 445.0h0M608.9 444.9h0M614.5 444.9h0M625.8 444.7h0M632.2 444.6h0M638.7 444.5h0M644.9 444.4h0M654.5 444.0h0M591.0 452.3h0M601.8 451.6h0M608.1 451.2h0M614.3 450.8h0M620.0 450.5h0M625.5 450.2h0M631.2 450.0h0M636.9 449.7h0" stroke="#ac0e1c" stroke-width="3.3" stroke-opacity="1"/>
<path d="M654.5 444.0L657.1 443.7M636.9 449.7L642.3 449.4M642.3 449.4L647.0 449.1M647.0 449.1L650.7 448.7" stroke="#bb1c19" stroke-width="2.2" stroke-opacity="1"/>
<path d="M657.1 443.7L658.5 443.3M650.7 448.7L653.4 448.2M653.4 448.2L655.1 447.5" stroke="#c92b15" stroke-width="2.2" stroke-opacity="1"/>
<path d="M658.5 443.3L659.2 442.9" stroke="#d04815" stroke-width="2.2" stroke-opacity="1"/>
<path d="M659.2 442.9L659.4 442.4M655.1 447.5L656.3 446.7" stroke="#d86415" stroke-width="2.2" stroke-opacity="1"/>
<path d="M659.4 442.4L659.5 442.0M656.3 446.7L657.0 446.0" stroke="#db8115" stroke-width="2.2" stroke-opacity="1"/>
<path d="M659.5 442.0h0" stroke="#db8115" stroke-width="3.3" stroke-opacity="1"/>
<path d="M659.5 442.0L660.0 441.5M657.0 446.0L657.5 445.4M657.5 445.4L658.0 445.0" stroke="#df9e15" stroke-width="2.2" stroke-opacity="1"/>
<path d="M660.0 441.5L660.8 441.0" stroke="#dbb412" stroke-width="2.2" stroke-opacity="1"/>
<path d="M660.8 441.0L661.6 440.4M661.6 440.4L662.3 439.7" stroke="#d8c90e" stroke-width="2.2" stroke-opacity="1"/>
<path d="M662.3 439.7L663.0 439.2" stroke="#99c517" stroke-width="2.2" stroke-opacity="1"/>
<path d="M663.0 439.2L663.6 438.7M663.6 438.7L664.0 438.3" stroke="#60bc29" stroke-width="2.2" stroke-opacity="1"/>
<path d="M664.0 438.3h0" stroke="#60bc29" stroke-width="3.3" stroke-opacity="1"/>
<path d="M647.0 449.1h0" stroke="#bb1c19" stroke-width="3.3" stroke-opacity="1"/>
<path d="M653.4 448.2h0" stroke="#c92b15" stroke-width="3.3" stroke-opacity="1"/>
<path d="M658.0 445.0h0" stroke="#df9e15" stroke-width="3.3" stroke-opacity="1"/>
<path d="M604.4 461.0L607.2 460.9M607.2 460.9L611.1 460.8M611.1 460.8L615.7 460.7M615.7 460.7L620.6 460.6M620.6 460.6L625.5 460.4M625.5 460.4L630.0 460.3M630.0 460.3L634.0 460.2" stroke="#2fab49" stroke-width="1.5" stroke-opacity="1"/>
<path d="M611.1 460.8h0M620.6 460.6h0M630.0 460.3h0" stroke="#2fab49" stroke-width="2.6" stroke-opacity="1"/>
<path d="M634.0 460.2L637.8 460.1M637.8 460.1L641.5 460.0M641.5 460.0L645.4 459.8M645.4 459.8L649.7 459.7M649.7 459.7L654.5 459.5M654.5 459.5L660.4 459.3M660.4 459.3L667.4 459.0" stroke="#179d6e" stroke-width="1.5" stroke-opacity="1"/>
<path d="M637.8 460.1h0M645.4 459.8h0M654.5 459.5h0M660.4 459.3h0M667.4 459.0h0" stroke="#179d6e" stroke-width="2.6" stroke-opacity="1"/>
<path d="M662.7 455.8L662.1 456.5M662.1 456.5L661.8 457.0M664.9 456.4L664.3 457.3M664.3 457.3L664.0 458.0" stroke="#10a0a8" stroke-width="1.3" stroke-opacity="1"/>
</g>
<g stroke="#000" stroke-width="2.2" fill="#000" stroke-linejoin="miter">
<path d="M445 494V462.5" />
<path d="M445 457.5l-3.2 7h6.4z" stroke="none"/>
<path d="M444 493L473.504 492.036"/>
<path d="M480.5 491.8L473.612 495.235L473.396 488.838z" stroke="none"/>
<path d="M444 493L468.05 495.766"/>
<path d="M475 496.6L467.669 498.943L468.431 492.589z" stroke="none"/>
</g>
<g filter="url(#soft2)">
<text x="431.5" y="475.7" font-family='"Liberation Serif","DejaVu Serif",serif' font-size="16" font-weight="normal" font-style="normal" fill="#111" text-anchor="start" >Z</text>
<text x="455.8" y="487.7" font-family='"Liberation Serif","DejaVu Serif",serif' font-size="16" font-weight="normal" font-style="normal" fill="#111" text-anchor="start" >X</text>
<text x="469.8" y="514.5" font-family='"Liberation Serif","DejaVu Serif",serif' font-size="16" font-weight="normal" font-style="normal" fill="#111" text-anchor="start" >Y</text>
</g>
<g filter="url(#soft2)">
<text x="24.7" y="275.9" font-family='"Liberation Serif","DejaVu Serif",serif' font-size="13.9" font-weight="normal" font-style="normal" fill="#222" text-anchor="start" stroke="#222" stroke-width="0.3" textLength="86.5" lengthAdjust="spacingAndGlyphs">425 W 0.25m/s</text>
<text x="27.2" y="292.9" font-family='"Liberation Serif","DejaVu Serif",serif' font-size="13.8" font-weight="normal" font-style="normal" fill="#222" text-anchor="start" stroke="#222" stroke-width="0.3" textLength="34.8" lengthAdjust="spacingAndGlyphs">823 K</text>
<text x="22.7" y="414.4" font-family='"Liberation Serif","DejaVu Serif",serif' font-size="13.6" font-weight="normal" font-style="normal" fill="#222" text-anchor="start" stroke="#222" stroke-width="0.3" textLength="40.7" lengthAdjust="spacingAndGlyphs">1123 K</text>
<text x="423.4" y="259.4" font-family='"Liberation Serif","DejaVu Serif",serif' font-size="13.9" font-weight="normal" font-style="normal" fill="#222" text-anchor="start" stroke="#222" stroke-width="0.3" textLength="79.4" lengthAdjust="spacingAndGlyphs">850 W 0.5m/s</text>
<text x="425.2" y="276.1" font-family='"Liberation Serif","DejaVu Serif",serif' font-size="13.8" font-weight="normal" font-style="normal" fill="#222" text-anchor="start" stroke="#222" stroke-width="0.3" textLength="34.8" lengthAdjust="spacingAndGlyphs">823 K</text>
<text x="428.2" y="412.3" font-family='"Liberation Serif","DejaVu Serif",serif' font-size="13.6" font-weight="normal" font-style="normal" fill="#222" text-anchor="start" stroke="#222" stroke-width="0.3" textLength="40.7" lengthAdjust="spacingAndGlyphs">1123 K</text>
<text x="271.3" y="387.9" font-family='"Liberation Serif","DejaVu Serif",serif' font-size="16.6" font-weight="normal" font-style="normal" fill="#222" text-anchor="start" stroke="#222" stroke-width="0.3">(a2)</text>
<text x="271.3" y="521.5" font-family='"Liberation Serif","DejaVu Serif",serif' font-size="16.8" font-weight="normal" font-style="normal" fill="#222" text-anchor="start" stroke="#222" stroke-width="0.3">(b2)</text>
<text x="675.3" y="382.9" font-family='"Liberation Serif","DejaVu Serif",serif' font-size="16.4" font-weight="normal" font-style="normal" fill="#222" text-anchor="start" stroke="#222" stroke-width="0.3">(c2)</text>
<text x="671.3" y="516.9" font-family='"Liberation Serif","DejaVu Serif",serif' font-size="16.4" font-weight="normal" font-style="normal" fill="#222" text-anchor="start" stroke="#222" stroke-width="0.3">(d2)</text>
</g>
<rect x="312.5" y="328.6" width="9.8" height="179.3" fill="url(#grb)"/>
<g filter="url(#soft2)">
<path d="M319.8 328.6h7.5" stroke="#333" stroke-width="1"/>
<text x="333" y="332.128" font-family='"DejaVu Serif","Liberation Serif",serif' font-size="9.8" font-weight="bold" font-style="normal" fill="#2a2a2a" text-anchor="start" >0.15</text>
<path d="M319.8 364.46h7.5" stroke="#333" stroke-width="1"/>
<text x="333" y="367.988" font-family='"DejaVu Serif","Liberation Serif",serif' font-size="9.8" font-weight="bold" font-style="normal" fill="#2a2a2a" text-anchor="start" >0.12</text>
<path d="M319.8 388.367h7.5" stroke="#333" stroke-width="1"/>
<text x="333" y="391.895" font-family='"DejaVu Serif","Liberation Serif",serif' font-size="9.8" font-weight="bold" font-style="normal" fill="#2a2a2a" text-anchor="start" >0.1</text>
<path d="M319.8 412.273h7.5" stroke="#333" stroke-width="1"/>
<text x="333" y="415.801" font-family='"DejaVu Serif","Liberation Serif",serif' font-size="9.8" font-weight="bold" font-style="normal" fill="#2a2a2a" text-anchor="start" >0.08</text>
<path d="M319.8 436.18h7.5" stroke="#333" stroke-width="1"/>
<text x="333" y="439.708" font-family='"DejaVu Serif","Liberation Serif",serif' font-size="9.8" font-weight="bold" font-style="normal" fill="#2a2a2a" text-anchor="start" >0.06</text>
<path d="M319.8 460.087h7.5" stroke="#333" stroke-width="1"/>
<text x="333" y="463.615" font-family='"DejaVu Serif","Liberation Serif",serif' font-size="9.8" font-weight="bold" font-style="normal" fill="#2a2a2a" text-anchor="start" >0.04</text>
<path d="M319.8 483.993h7.5" stroke="#333" stroke-width="1"/>
<text x="333" y="487.521" font-family='"DejaVu Serif","Liberation Serif",serif' font-size="9.8" font-weight="bold" font-style="normal" fill="#2a2a2a" text-anchor="start" >0.02</text>
<path d="M319.8 507.9h7.5" stroke="#333" stroke-width="1"/>
<text x="333" y="511.428" font-family='"DejaVu Serif","Liberation Serif",serif' font-size="9.8" font-weight="bold" font-style="normal" fill="#2a2a2a" text-anchor="start" >0.0</text>
<text transform="translate(376.8 417.5) rotate(-90)" font-family='"DejaVu Serif","Liberation Serif",serif' font-size="10.6" font-weight="bold" fill="#2a2a2a" text-anchor="middle">V_flow (m/s)</text>
</g>
<rect x="715.6" y="339" width="10" height="168.3" fill="url(#grb)"/>
<g filter="url(#soft2)">
<path d="M723.1 339h7.5" stroke="#333" stroke-width="1"/>
<text x="735.4" y="342.528" font-family='"DejaVu Serif","Liberation Serif",serif' font-size="9.8" font-weight="bold" font-style="normal" fill="#2a2a2a" text-anchor="start" >0.40</text>
<path d="M723.1 360.038h7.5" stroke="#333" stroke-width="1"/>
<text x="735.4" y="363.566" font-family='"DejaVu Serif","Liberation Serif",serif' font-size="9.8" font-weight="bold" font-style="normal" fill="#2a2a2a" text-anchor="start" >0.35</text>
<path d="M723.1 381.075h7.5" stroke="#333" stroke-width="1"/>
<text x="735.4" y="384.603" font-family='"DejaVu Serif","Liberation Serif",serif' font-size="9.8" font-weight="bold" font-style="normal" fill="#2a2a2a" text-anchor="start" >0.3</text>
<path d="M723.1 402.113h7.5" stroke="#333" stroke-width="1"/>
<text x="735.4" y="405.641" font-family='"DejaVu Serif","Liberation Serif",serif' font-size="9.8" font-weight="bold" font-style="normal" fill="#2a2a2a" text-anchor="start" >0.25</text>
<path d="M723.1 423.15h7.5" stroke="#333" stroke-width="1"/>
<text x="735.4" y="426.678" font-family='"DejaVu Serif","Liberation Serif",serif' font-size="9.8" font-weight="bold" font-style="normal" fill="#2a2a2a" text-anchor="start" >0.2</text>
<path d="M723.1 444.188h7.5" stroke="#333" stroke-width="1"/>
<text x="735.4" y="447.716" font-family='"DejaVu Serif","Liberation Serif",serif' font-size="9.8" font-weight="bold" font-style="normal" fill="#2a2a2a" text-anchor="start" >0.15</text>
<path d="M723.1 465.225h7.5" stroke="#333" stroke-width="1"/>
<text x="735.4" y="468.753" font-family='"DejaVu Serif","Liberation Serif",serif' font-size="9.8" font-weight="bold" font-style="normal" fill="#2a2a2a" text-anchor="start" >0.1</text>
<path d="M723.1 486.262h7.5" stroke="#333" stroke-width="1"/>
<text x="735.4" y="489.791" font-family='"DejaVu Serif","Liberation Serif",serif' font-size="9.8" font-weight="bold" font-style="normal" fill="#2a2a2a" text-anchor="start" >0.05</text>
<path d="M723.1 507.3h7.5" stroke="#333" stroke-width="1"/>
<text x="735.4" y="510.828" font-family='"DejaVu Serif","Liberation Serif",serif' font-size="9.8" font-weight="bold" font-style="normal" fill="#2a2a2a" text-anchor="start" >0.0</text>
<text transform="translate(778.2 423.5) rotate(-90)" font-family='"DejaVu Serif","Liberation Serif",serif' font-size="10.2" font-weight="bold" fill="#2a2a2a" text-anchor="middle">V_flow (m/s)</text>
</g>
<g>
<g filter="url(#soft2)">
<g fill="#fff"><ellipse cx="669.8" cy="489.4" rx="11.1" ry="9.1" stroke="#dcdcdc" stroke-width="0.5"/><path d="M662.5 495.5L661.6 501.2L668.5 498.2Z"/><ellipse cx="680.2" cy="496.4" rx="10.9" ry="9.2"/><ellipse cx="680.2" cy="496.4" rx="9.8" ry="8.1" stroke="#e0e0e0" stroke-width="0.5"/><path d="M685.2 502.6L688.6 505.6L688 500.8Z"/></g>
<g fill="none" stroke-linecap="round"><path d="M670.4 496.4A9.8 8.1 0 0 1 680.2 488.3" stroke="#6a6a6a" stroke-width="0.9"/><path d="M688.7 500.5A9.8 8.1 0 0 1 670.5 497.8" stroke="#7a7a7a" stroke-width="0.8"/><path d="M667.9 498.4A11.1 9.1 0 0 1 658.9 487.8" stroke="#8a8a8a" stroke-width="0.8"/><path d="M661.6 501.2L668.5 498.2" stroke="#8a8a8a" stroke-width="0.7"/></g>
<g fill="#9a9a9a"><circle cx="665.5" cy="485.6" r="0.9"/><circle cx="674.6" cy="485.6" r="0.9"/><circle cx="676.8" cy="493.2" r="0.8"/><circle cx="684" cy="493.2" r="0.8"/></g>
</g>
<text x="697.5" y="501.2" font-family='"Liberation Sans","Noto Sans CJK SC","WenQuanYi Zen Hei",sans-serif' font-size="19.6" fill="#383838" opacity="0.85" transform="translate(1.2 1)" filter="url(#soft2)">材料学网</text>
<text x="697.5" y="501.2" font-family='"Liberation Sans","Noto Sans CJK SC","WenQuanYi Zen Hei",sans-serif' font-size="19.6" fill="#fff" stroke="#fff" stroke-width="0.3" filter="url(#soft3)">材料学网</text>
</g>
</svg></body></html>
